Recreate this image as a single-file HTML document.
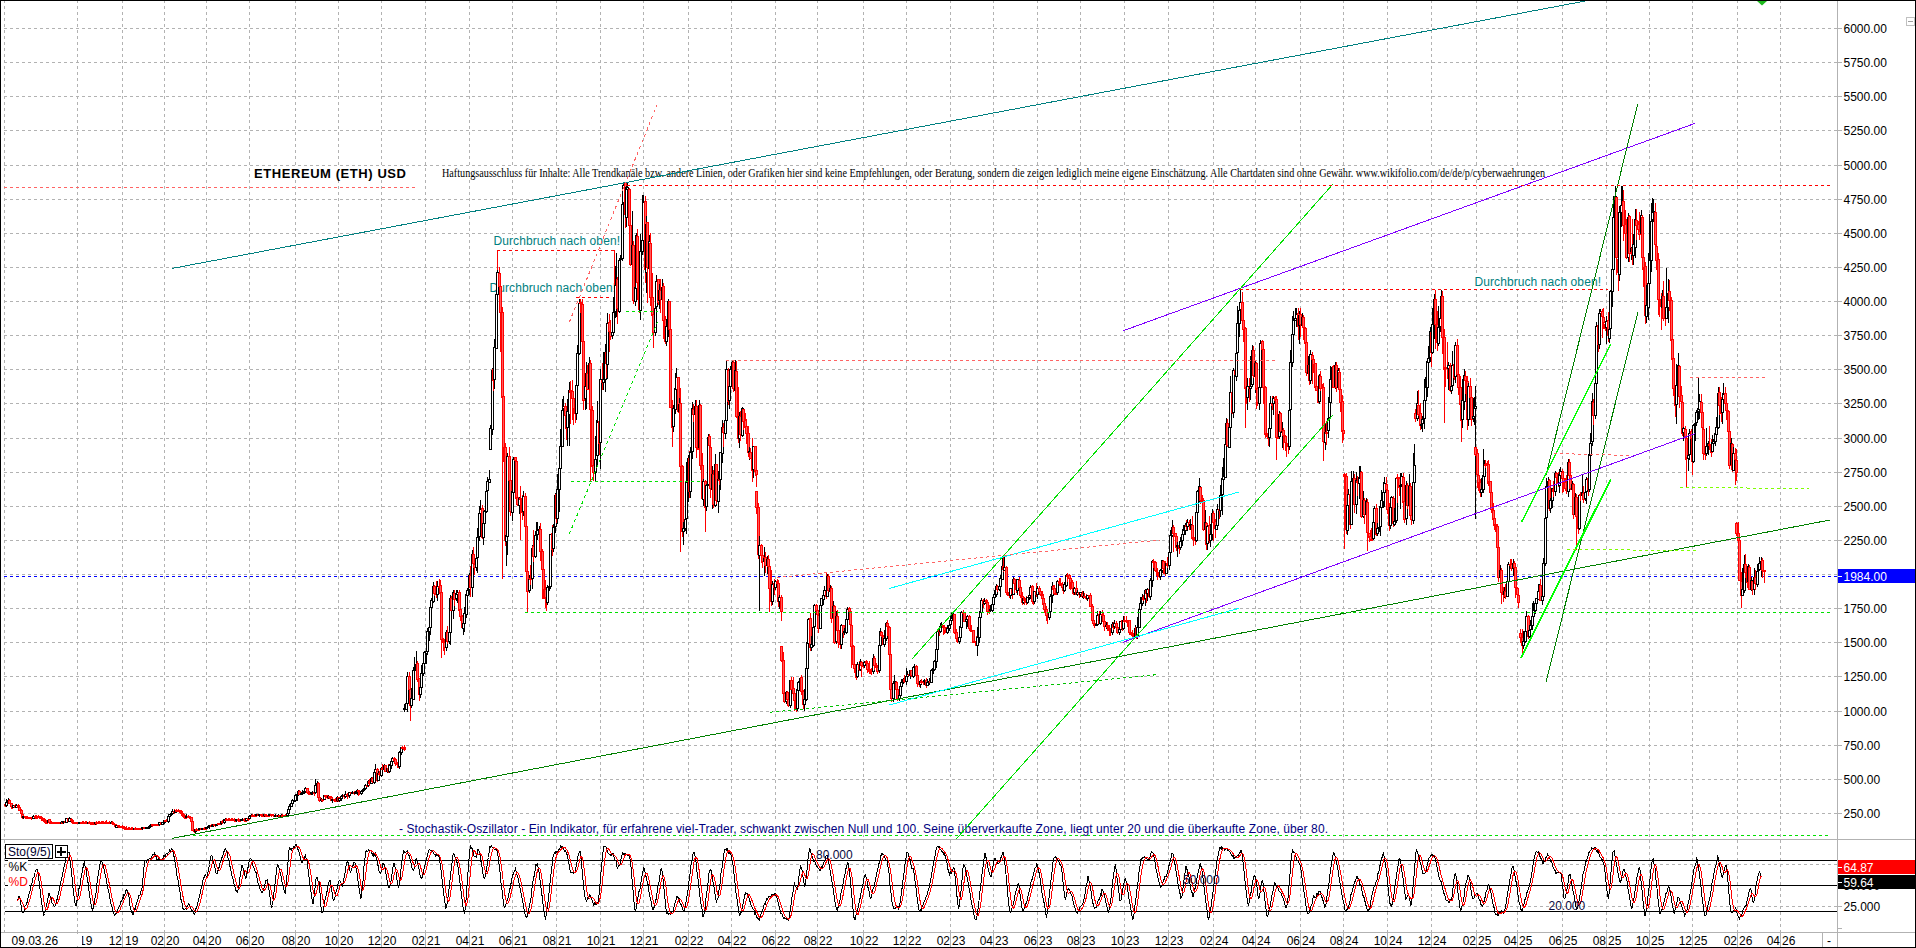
<!DOCTYPE html><html><head><meta charset="utf-8"><title>ETHEREUM (ETH) USD</title><style>
html,body{margin:0;padding:0;background:#fff;overflow:hidden}svg{display:block}
text{font-family:"Liberation Sans",sans-serif;font-size:12px}
.g{stroke:#b2b2b2;stroke-width:1;stroke-dasharray:3 3;fill:none}
.s{font-family:"Liberation Serif",serif}
.r{fill:#f00;stroke:#f00}.k{fill:#fff;stroke:#000}.w{stroke:#f00;fill:none}.b{stroke:#000;fill:none}.c{stroke:#ff5a5a;fill:none}
</style></head><body>
<svg width="1916" height="948" viewBox="0 0 1916 948" shape-rendering="crispEdges">
<rect width="1916" height="948" fill="#fff"/>
<path class="g" d="M4.5 0V932M77.5 0V932M122.5 0V932M164.5 0V932M206.5 0V932M249.5 0V932M295.5 0V932M338.5 0V932M381.5 0V932M425.5 0V932M469.5 0V932M512.5 0V932M556.5 0V932M600.5 0V932M643.5 0V932M688.5 0V932M731.5 0V932M775.5 0V932M817.5 0V932M863.5 0V932M906.5 0V932M950.5 0V932M993.5 0V932M1037.5 0V932M1080.5 0V932M1124.5 0V932M1168.5 0V932M1213.5 0V932M1255.5 0V932M1300.5 0V932M1343.5 0V932M1387.5 0V932M1431.5 0V932M1476.5 0V932M1517.5 0V932M1562.5 0V932M1606.5 0V932M1649.5 0V932M1692.5 0V932M1737.5 0V932M1780.5 0V932"/>
<path class="g" d="M4 813.5H1842M4 779.5H1842M4 745.5H1842M4 711.5H1842M4 676.5H1842M4 642.5H1842M4 608.5H1842M4 574.5H1842M4 540.5H1842M4 506.5H1842M4 472.5H1842M4 438.5H1842M4 403.5H1842M4 369.5H1842M4 335.5H1842M4 301.5H1842M4 267.5H1842M4 233.5H1842M4 199.5H1842M4 165.5H1842M4 130.5H1842M4 96.5H1842M4 62.5H1842M4 28.5H1842M4 864.5H1842M4 906.5H1842"/>
<path stroke="#b2b2b2" fill="none" d="M77.5 932V947M122.5 932V947M164.5 932V947M206.5 932V947M249.5 932V947M295.5 932V947M338.5 932V947M381.5 932V947M425.5 932V947M469.5 932V947M512.5 932V947M556.5 932V947M600.5 932V947M643.5 932V947M688.5 932V947M731.5 932V947M775.5 932V947M817.5 932V947M863.5 932V947M906.5 932V947M950.5 932V947M993.5 932V947M1037.5 932V947M1080.5 932V947M1124.5 932V947M1168.5 932V947M1213.5 932V947M1255.5 932V947M1300.5 932V947M1343.5 932V947M1387.5 932V947M1431.5 932V947M1476.5 932V947M1517.5 932V947M1562.5 932V947M1606.5 932V947M1649.5 932V947M1692.5 932V947M1737.5 932V947M1780.5 932V947M1822.5 932V947"/>
<path stroke="#b2b2b2" fill="none" d="M1834 813.5H1842M1834 779.5H1842M1834 745.5H1842M1834 711.5H1842M1834 676.5H1842M1834 642.5H1842M1834 608.5H1842M1834 574.5H1842M1834 540.5H1842M1834 506.5H1842M1834 472.5H1842M1834 438.5H1842M1834 403.5H1842M1834 369.5H1842M1834 335.5H1842M1834 301.5H1842M1834 267.5H1842M1834 233.5H1842M1834 199.5H1842M1834 165.5H1842M1834 130.5H1842M1834 96.5H1842M1834 62.5H1842M1834 28.5H1842M1834 906.5H1842"/>
<path stroke="#b2b2b2" fill="none" d="M1837.5 0V947M0 839.5H1916M0 932.5H1916M1838 928.5H1842"/>
<path stroke="#00f" stroke-dasharray="3 3" fill="none" d="M4 576.5H1842"/>
<rect x="252" y="167" width="157" height="13" fill="#fff"/><rect x="440" y="167" width="1107" height="13" fill="#fff"/><rect x="492" y="235" width="128" height="13" fill="#fff"/><rect x="488" y="282" width="130" height="13" fill="#fff"/><rect x="1473" y="276" width="130" height="13" fill="#fff"/><rect x="397" y="822" width="933" height="13" fill="#fff"/><text x="254" y="177.5" style="font-weight:bold;font-size:13px" textLength="152" lengthAdjust="spacing">ETHEREUM (ETH) USD</text><text x="442" y="177" class="s" style="font-size:13px" textLength="1103" lengthAdjust="spacingAndGlyphs">Haftungsausschluss für Inhalte: Alle Trendkanäle bzw. andere Linien, oder Grafiken hier sind keine Empfehlungen, oder Beratung, sondern die zeigen lediglich meine eigene Einschätzung. Alle Chartdaten sind ohne Gewähr.  www.wikifolio.com/de/de/p/cyberwaehrungen</text><text x="493.5" y="245" fill="#008080" textLength="126.5" lengthAdjust="spacing">Durchbruch nach oben!</text><text x="489.5" y="292" fill="#008080" textLength="126.5" lengthAdjust="spacing">Durchbruch nach oben!</text><text x="1474.5" y="286" fill="#008080" textLength="126.5" lengthAdjust="spacing">Durchbruch nach oben!</text><text x="399" y="833" fill="#000080" textLength="929" lengthAdjust="spacing">- Stochastik-Oszillator - Ein Indikator, für erfahrene viel-Trader, schwankt zwischen Null und 100. Seine überverkaufte Zone, liegt unter 20 und die überkaufte Zone, über 80.</text>
<g><path class="w" d="M5.5 804V807"/><path class="r" d="M4.5 804.5h2v1h-2z"/><path class="b" d="M6.5 799V807"/><path class="k" d="M5.5 802.5h2v3h-2z"/><path class="b" d="M8.5 798V804"/><path class="k" d="M7.5 800.5h2v2h-2z"/><path class="w" d="M9.5 799V804"/><path class="r" d="M8.5 800.5h2v3h-2z"/><path class="c" d="M9.5 801V803"/><path class="w" d="M11.5 803V809"/><path class="r" d="M10.5 803.5h2v3h-2z"/><path class="c" d="M11.5 804V806"/><path class="w" d="M12.5 806V809"/><path class="r" d="M11.5 806.5h2v1h-2z"/><path class="b" d="M13.5 805V808"/><path class="k" d="M12.5 805.5h2v2h-2z"/><path class="w" d="M15.5 804V808"/><path class="r" d="M14.5 805.5h2v2h-2z"/><path class="b" d="M16.5 804V808"/><path class="k" d="M15.5 805.5h2v2h-2z"/><path class="w" d="M18.5 804V808"/><path class="r" d="M17.5 805.5h2v2h-2z"/><path class="w" d="M19.5 806V811"/><path class="r" d="M18.5 807.5h2v3h-2z"/><path class="c" d="M19.5 808V810"/><path class="w" d="M21.5 809V816"/><path class="r" d="M20.5 810.5h2v3h-2z"/><path class="c" d="M21.5 811V813"/><path class="w" d="M22.5 813V819"/><path class="r" d="M21.5 814.5h2v3h-2z"/><path class="c" d="M22.5 815V817"/><path class="b" d="M23.5 816V819"/><path class="k" d="M22.5 816.5h2v1h-2z"/><path class="w" d="M25.5 816V819"/><path class="r" d="M24.5 816.5h2v1h-2z"/><path class="w" d="M26.5 816V819"/><path class="r" d="M25.5 816.5h2v1h-2z"/><path class="w" d="M28.5 817V819"/><path class="r" d="M27.5 817.5h2v1h-2z"/><path class="w" d="M29.5 817V819"/><path class="r" d="M28.5 817.5h2v1h-2z"/><path class="w" d="M31.5 817V820"/><path class="r" d="M30.5 817.5h2v1h-2z"/><path class="w" d="M32.5 816V819"/><path class="r" d="M31.5 817.5h2v1h-2z"/><path class="b" d="M33.5 815V819"/><path class="k" d="M32.5 816.5h2v2h-2z"/><path class="w" d="M35.5 815V818"/><path class="r" d="M34.5 816.5h2v1h-2z"/><path class="w" d="M36.5 815V818"/><path class="r" d="M35.5 817.5h2v1h-2z"/><path class="w" d="M38.5 815V818"/><path class="r" d="M37.5 816.5h2v1h-2z"/><path class="w" d="M39.5 816V819"/><path class="r" d="M38.5 816.5h2v1h-2z"/><path class="w" d="M41.5 816V821"/><path class="r" d="M40.5 817.5h2v1h-2z"/><path class="w" d="M42.5 818V821"/><path class="r" d="M41.5 818.5h2v1h-2z"/><path class="w" d="M43.5 818V822"/><path class="r" d="M42.5 818.5h2v2h-2z"/><path class="w" d="M45.5 819V823"/><path class="r" d="M44.5 820.5h2v2h-2z"/><path class="w" d="M46.5 821V823"/><path class="r" d="M45.5 822.5h2v1h-2z"/><path class="b" d="M48.5 819V823"/><path class="k" d="M47.5 820.5h2v2h-2z"/><path class="w" d="M49.5 819V824"/><path class="r" d="M48.5 819.5h2v3h-2z"/><path class="c" d="M49.5 820V822"/><path class="w" d="M51.5 821V824"/><path class="r" d="M50.5 822.5h2v1h-2z"/><path class="w" d="M52.5 822V823"/><path class="r" d="M51.5 822.5h2v1h-2z"/><path class="w" d="M53.5 822V824"/><path class="r" d="M52.5 822.5h2v1h-2z"/><path class="w" d="M55.5 822V824"/><path class="r" d="M54.5 822.5h2v1h-2z"/><path class="w" d="M56.5 822V824"/><path class="r" d="M55.5 822.5h2v1h-2z"/><path class="w" d="M58.5 822V824"/><path class="r" d="M57.5 822.5h2v1h-2z"/><path class="w" d="M59.5 822V824"/><path class="r" d="M58.5 822.5h2v1h-2z"/><path class="b" d="M61.5 821V824"/><path class="k" d="M60.5 822.5h2v1h-2z"/><path class="w" d="M62.5 821V824"/><path class="r" d="M61.5 822.5h2v1h-2z"/><path class="b" d="M63.5 821V824"/><path class="k" d="M62.5 821.5h2v1h-2z"/><path class="w" d="M65.5 821V823"/><path class="r" d="M64.5 821.5h2v1h-2z"/><path class="b" d="M66.5 818V823"/><path class="k" d="M65.5 818.5h2v4h-2z"/><path class="w" d="M68.5 818V822"/><path class="r" d="M67.5 818.5h2v3h-2z"/><path class="c" d="M68.5 819V821"/><path class="b" d="M69.5 817V822"/><path class="k" d="M68.5 818.5h2v3h-2z"/><path class="w" d="M71.5 818V822"/><path class="r" d="M70.5 819.5h2v1h-2z"/><path class="w" d="M72.5 819V824"/><path class="r" d="M71.5 820.5h2v2h-2z"/><path class="w" d="M73.5 822V824"/><path class="r" d="M72.5 822.5h2v1h-2z"/><path class="w" d="M75.5 822V824"/><path class="r" d="M74.5 822.5h2v1h-2z"/><path class="w" d="M76.5 822V824"/><path class="r" d="M75.5 822.5h2v1h-2z"/><path class="w" d="M78.5 822V824"/><path class="r" d="M77.5 822.5h2v1h-2z"/><path class="b" d="M79.5 822V824"/><path class="k" d="M78.5 822.5h2v1h-2z"/><path class="w" d="M81.5 822V823"/><path class="r" d="M80.5 822.5h2v1h-2z"/><path class="w" d="M82.5 821V824"/><path class="r" d="M81.5 822.5h2v1h-2z"/><path class="w" d="M83.5 821V823"/><path class="r" d="M82.5 822.5h2v1h-2z"/><path class="w" d="M85.5 821V824"/><path class="r" d="M84.5 822.5h2v1h-2z"/><path class="w" d="M86.5 821V824"/><path class="r" d="M85.5 822.5h2v1h-2z"/><path class="b" d="M88.5 822V824"/><path class="k" d="M87.5 822.5h2v1h-2z"/><path class="w" d="M89.5 821V824"/><path class="r" d="M88.5 822.5h2v1h-2z"/><path class="w" d="M91.5 822V825"/><path class="r" d="M90.5 823.5h2v1h-2z"/><path class="w" d="M92.5 822V825"/><path class="r" d="M91.5 823.5h2v1h-2z"/><path class="w" d="M93.5 822V825"/><path class="r" d="M92.5 823.5h2v1h-2z"/><path class="b" d="M95.5 822V825"/><path class="k" d="M94.5 822.5h2v1h-2z"/><path class="w" d="M96.5 821V825"/><path class="r" d="M95.5 822.5h2v1h-2z"/><path class="w" d="M98.5 821V823"/><path class="r" d="M97.5 822.5h2v1h-2z"/><path class="w" d="M99.5 821V824"/><path class="r" d="M98.5 822.5h2v1h-2z"/><path class="w" d="M101.5 821V824"/><path class="r" d="M100.5 822.5h2v1h-2z"/><path class="w" d="M102.5 821V824"/><path class="r" d="M101.5 822.5h2v1h-2z"/><path class="w" d="M103.5 821V824"/><path class="r" d="M102.5 822.5h2v1h-2z"/><path class="w" d="M105.5 821V823"/><path class="r" d="M104.5 822.5h2v1h-2z"/><path class="w" d="M106.5 820V823"/><path class="r" d="M105.5 822.5h2v1h-2z"/><path class="w" d="M108.5 822V823"/><path class="r" d="M107.5 822.5h2v1h-2z"/><path class="w" d="M109.5 821V824"/><path class="r" d="M108.5 822.5h2v1h-2z"/><path class="b" d="M111.5 821V824"/><path class="k" d="M110.5 822.5h2v1h-2z"/><path class="w" d="M112.5 821V825"/><path class="r" d="M111.5 822.5h2v1h-2z"/><path class="w" d="M113.5 822V825"/><path class="r" d="M112.5 823.5h2v1h-2z"/><path class="w" d="M115.5 824V828"/><path class="r" d="M114.5 824.5h2v2h-2z"/><path class="b" d="M116.5 825V828"/><path class="k" d="M115.5 825.5h2v2h-2z"/><path class="w" d="M118.5 825V828"/><path class="r" d="M117.5 825.5h2v1h-2z"/><path class="w" d="M119.5 826V828"/><path class="r" d="M118.5 826.5h2v1h-2z"/><path class="w" d="M121.5 826V828"/><path class="r" d="M120.5 826.5h2v1h-2z"/><path class="w" d="M122.5 825V828"/><path class="r" d="M121.5 826.5h2v1h-2z"/><path class="w" d="M123.5 826V829"/><path class="r" d="M122.5 826.5h2v2h-2z"/><path class="w" d="M125.5 827V829"/><path class="r" d="M124.5 828.5h2v1h-2z"/><path class="w" d="M126.5 826V829"/><path class="r" d="M125.5 828.5h2v1h-2z"/><path class="w" d="M128.5 827V829"/><path class="r" d="M127.5 828.5h2v1h-2z"/><path class="w" d="M129.5 827V829"/><path class="r" d="M128.5 828.5h2v1h-2z"/><path class="w" d="M131.5 827V829"/><path class="r" d="M130.5 828.5h2v1h-2z"/><path class="w" d="M132.5 827V829"/><path class="r" d="M131.5 828.5h2v1h-2z"/><path class="b" d="M134.5 828V830"/><path class="k" d="M133.5 828.5h2v1h-2z"/><path class="w" d="M135.5 827V830"/><path class="r" d="M134.5 828.5h2v1h-2z"/><path class="w" d="M136.5 828V830"/><path class="r" d="M135.5 828.5h2v1h-2z"/><path class="w" d="M138.5 828V830"/><path class="r" d="M137.5 828.5h2v1h-2z"/><path class="w" d="M139.5 828V830"/><path class="r" d="M138.5 828.5h2v1h-2z"/><path class="w" d="M141.5 828V830"/><path class="r" d="M140.5 828.5h2v1h-2z"/><path class="b" d="M142.5 827V830"/><path class="k" d="M141.5 827.5h2v1h-2z"/><path class="w" d="M144.5 827V829"/><path class="r" d="M143.5 827.5h2v1h-2z"/><path class="w" d="M145.5 827V829"/><path class="r" d="M144.5 827.5h2v1h-2z"/><path class="b" d="M146.5 827V829"/><path class="k" d="M145.5 827.5h2v1h-2z"/><path class="b" d="M148.5 826V828"/><path class="k" d="M147.5 827.5h2v1h-2z"/><path class="b" d="M149.5 825V828"/><path class="k" d="M148.5 826.5h2v1h-2z"/><path class="b" d="M151.5 824V827"/><path class="k" d="M150.5 824.5h2v2h-2z"/><path class="w" d="M152.5 824V827"/><path class="r" d="M151.5 824.5h2v1h-2z"/><path class="w" d="M154.5 824V826"/><path class="r" d="M153.5 824.5h2v1h-2z"/><path class="w" d="M155.5 824V826"/><path class="r" d="M154.5 824.5h2v1h-2z"/><path class="w" d="M156.5 824V826"/><path class="r" d="M155.5 824.5h2v1h-2z"/><path class="w" d="M158.5 823V826"/><path class="r" d="M157.5 824.5h2v1h-2z"/><path class="b" d="M159.5 822V826"/><path class="k" d="M158.5 822.5h2v2h-2z"/><path class="w" d="M161.5 822V825"/><path class="r" d="M160.5 822.5h2v2h-2z"/><path class="b" d="M162.5 822V825"/><path class="k" d="M161.5 822.5h2v2h-2z"/><path class="b" d="M164.5 820V824"/><path class="k" d="M163.5 820.5h2v2h-2z"/><path class="w" d="M165.5 820V822"/><path class="r" d="M164.5 820.5h2v1h-2z"/><path class="w" d="M166.5 819V822"/><path class="r" d="M165.5 820.5h2v1h-2z"/><path class="b" d="M168.5 816V823"/><path class="k" d="M167.5 816.5h2v5h-2z"/><path class="b" d="M169.5 814V818"/><path class="k" d="M168.5 814.5h2v2h-2z"/><path class="b" d="M171.5 812V816"/><path class="k" d="M170.5 813.5h2v1h-2z"/><path class="b" d="M172.5 809V814"/><path class="k" d="M171.5 811.5h2v2h-2z"/><path class="w" d="M174.5 809V814"/><path class="r" d="M173.5 811.5h2v1h-2z"/><path class="b" d="M175.5 810V813"/><path class="k" d="M174.5 810.5h2v2h-2z"/><path class="w" d="M176.5 809V812"/><path class="r" d="M175.5 810.5h2v1h-2z"/><path class="w" d="M178.5 809V812"/><path class="r" d="M177.5 810.5h2v1h-2z"/><path class="w" d="M179.5 810V813"/><path class="r" d="M178.5 810.5h2v1h-2z"/><path class="w" d="M181.5 810V816"/><path class="r" d="M180.5 811.5h2v2h-2z"/><path class="w" d="M182.5 813V817"/><path class="r" d="M181.5 813.5h2v2h-2z"/><path class="w" d="M184.5 814V818"/><path class="r" d="M183.5 815.5h2v2h-2z"/><path class="w" d="M185.5 815V818"/><path class="r" d="M184.5 817.5h2v1h-2z"/><path class="b" d="M186.5 814V818"/><path class="k" d="M185.5 816.5h2v1h-2z"/><path class="w" d="M188.5 815V817"/><path class="r" d="M187.5 816.5h2v1h-2z"/><path class="w" d="M189.5 816V819"/><path class="r" d="M188.5 816.5h2v1h-2z"/><path class="w" d="M191.5 817V822"/><path class="r" d="M190.5 817.5h2v4h-2z"/><path class="c" d="M191.5 818V821"/><path class="w" d="M192.5 821V831"/><path class="r" d="M191.5 821.5h2v9h-2z"/><path class="c" d="M192.5 822V830"/><path class="w" d="M194.5 830V833"/><path class="r" d="M193.5 830.5h2v1h-2z"/><path class="b" d="M195.5 829V833"/><path class="k" d="M194.5 829.5h2v2h-2z"/><path class="w" d="M196.5 828V831"/><path class="r" d="M195.5 829.5h2v1h-2z"/><path class="w" d="M198.5 828V830"/><path class="r" d="M197.5 829.5h2v1h-2z"/><path class="b" d="M199.5 828V830"/><path class="k" d="M198.5 828.5h2v1h-2z"/><path class="w" d="M201.5 828V830"/><path class="r" d="M200.5 828.5h2v1h-2z"/><path class="b" d="M202.5 828V830"/><path class="k" d="M201.5 828.5h2v1h-2z"/><path class="w" d="M204.5 827V830"/><path class="r" d="M203.5 828.5h2v1h-2z"/><path class="w" d="M205.5 828V830"/><path class="r" d="M204.5 828.5h2v1h-2z"/><path class="b" d="M206.5 827V829"/><path class="k" d="M205.5 827.5h2v1h-2z"/><path class="b" d="M208.5 826V828"/><path class="k" d="M207.5 826.5h2v1h-2z"/><path class="b" d="M209.5 825V829"/><path class="k" d="M208.5 825.5h2v1h-2z"/><path class="w" d="M211.5 824V827"/><path class="r" d="M210.5 825.5h2v1h-2z"/><path class="b" d="M212.5 824V826"/><path class="k" d="M211.5 825.5h2v1h-2z"/><path class="w" d="M214.5 824V826"/><path class="r" d="M213.5 824.5h2v1h-2z"/><path class="w" d="M215.5 824V827"/><path class="r" d="M214.5 824.5h2v1h-2z"/><path class="b" d="M216.5 824V826"/><path class="k" d="M215.5 824.5h2v1h-2z"/><path class="w" d="M218.5 823V825"/><path class="r" d="M217.5 823.5h2v1h-2z"/><path class="w" d="M219.5 823V825"/><path class="r" d="M218.5 823.5h2v1h-2z"/><path class="b" d="M221.5 821V825"/><path class="k" d="M220.5 821.5h2v2h-2z"/><path class="w" d="M222.5 820V824"/><path class="r" d="M221.5 821.5h2v1h-2z"/><path class="b" d="M224.5 819V824"/><path class="k" d="M223.5 819.5h2v3h-2z"/><path class="b" d="M225.5 818V822"/><path class="k" d="M224.5 819.5h2v1h-2z"/><path class="w" d="M226.5 818V820"/><path class="r" d="M225.5 819.5h2v1h-2z"/><path class="w" d="M228.5 818V820"/><path class="r" d="M227.5 819.5h2v1h-2z"/><path class="w" d="M229.5 818V820"/><path class="r" d="M228.5 819.5h2v1h-2z"/><path class="w" d="M231.5 818V821"/><path class="r" d="M230.5 819.5h2v1h-2z"/><path class="w" d="M232.5 818V821"/><path class="r" d="M231.5 819.5h2v1h-2z"/><path class="w" d="M234.5 818V821"/><path class="r" d="M233.5 819.5h2v1h-2z"/><path class="w" d="M235.5 820V822"/><path class="r" d="M234.5 820.5h2v1h-2z"/><path class="b" d="M236.5 819V822"/><path class="k" d="M235.5 819.5h2v1h-2z"/><path class="w" d="M238.5 818V822"/><path class="r" d="M237.5 819.5h2v1h-2z"/><path class="w" d="M239.5 819V821"/><path class="r" d="M238.5 820.5h2v1h-2z"/><path class="b" d="M241.5 819V821"/><path class="k" d="M240.5 819.5h2v1h-2z"/><path class="b" d="M242.5 818V821"/><path class="k" d="M241.5 819.5h2v1h-2z"/><path class="w" d="M244.5 818V821"/><path class="r" d="M243.5 819.5h2v1h-2z"/><path class="w" d="M245.5 818V821"/><path class="r" d="M244.5 820.5h2v1h-2z"/><path class="b" d="M246.5 818V821"/><path class="k" d="M245.5 818.5h2v2h-2z"/><path class="w" d="M248.5 818V821"/><path class="r" d="M247.5 818.5h2v1h-2z"/><path class="b" d="M249.5 815V819"/><path class="k" d="M248.5 816.5h2v2h-2z"/><path class="b" d="M251.5 814V817"/><path class="k" d="M250.5 815.5h2v1h-2z"/><path class="w" d="M252.5 814V816"/><path class="r" d="M251.5 815.5h2v1h-2z"/><path class="w" d="M254.5 814V817"/><path class="r" d="M253.5 815.5h2v1h-2z"/><path class="w" d="M255.5 814V816"/><path class="r" d="M254.5 815.5h2v1h-2z"/><path class="b" d="M256.5 814V816"/><path class="k" d="M255.5 814.5h2v1h-2z"/><path class="w" d="M258.5 814V816"/><path class="r" d="M257.5 814.5h2v1h-2z"/><path class="b" d="M259.5 814V817"/><path class="k" d="M258.5 814.5h2v1h-2z"/><path class="w" d="M261.5 814V817"/><path class="r" d="M260.5 814.5h2v1h-2z"/><path class="w" d="M262.5 814V817"/><path class="r" d="M261.5 815.5h2v1h-2z"/><path class="b" d="M264.5 814V817"/><path class="k" d="M263.5 814.5h2v1h-2z"/><path class="w" d="M265.5 814V817"/><path class="r" d="M264.5 814.5h2v1h-2z"/><path class="w" d="M266.5 814V816"/><path class="r" d="M265.5 815.5h2v1h-2z"/><path class="w" d="M268.5 814V816"/><path class="r" d="M267.5 815.5h2v1h-2z"/><path class="b" d="M269.5 814V816"/><path class="k" d="M268.5 814.5h2v1h-2z"/><path class="w" d="M271.5 814V817"/><path class="r" d="M270.5 814.5h2v1h-2z"/><path class="w" d="M272.5 814V816"/><path class="r" d="M271.5 814.5h2v1h-2z"/><path class="w" d="M274.5 815V817"/><path class="r" d="M273.5 815.5h2v1h-2z"/><path class="b" d="M275.5 814V817"/><path class="k" d="M274.5 815.5h2v1h-2z"/><path class="w" d="M277.5 815V817"/><path class="r" d="M276.5 815.5h2v1h-2z"/><path class="b" d="M278.5 814V817"/><path class="k" d="M277.5 815.5h2v1h-2z"/><path class="w" d="M279.5 815V817"/><path class="r" d="M278.5 815.5h2v1h-2z"/><path class="b" d="M281.5 814V817"/><path class="k" d="M280.5 815.5h2v1h-2z"/><path class="w" d="M282.5 814V816"/><path class="r" d="M281.5 815.5h2v1h-2z"/><path class="w" d="M284.5 815V816"/><path class="r" d="M283.5 815.5h2v1h-2z"/><path class="w" d="M285.5 814V816"/><path class="r" d="M284.5 815.5h2v1h-2z"/><path class="b" d="M287.5 812V816"/><path class="k" d="M286.5 813.5h2v2h-2z"/><path class="b" d="M288.5 809V815"/><path class="k" d="M287.5 809.5h2v4h-2z"/><path class="b" d="M289.5 804V811"/><path class="k" d="M288.5 806.5h2v3h-2z"/><path class="b" d="M291.5 802V807"/><path class="k" d="M290.5 803.5h2v3h-2z"/><path class="b" d="M292.5 799V805"/><path class="k" d="M291.5 800.5h2v3h-2z"/><path class="b" d="M294.5 796V802"/><path class="k" d="M293.5 800.5h2v1h-2z"/><path class="b" d="M295.5 794V801"/><path class="k" d="M294.5 795.5h2v5h-2z"/><path class="b" d="M297.5 794V801"/><path class="k" d="M296.5 794.5h2v1h-2z"/><path class="b" d="M298.5 790V796"/><path class="k" d="M297.5 791.5h2v3h-2z"/><path class="w" d="M299.5 790V795"/><path class="r" d="M298.5 791.5h2v3h-2z"/><path class="c" d="M299.5 792V794"/><path class="b" d="M301.5 792V795"/><path class="k" d="M300.5 793.5h2v1h-2z"/><path class="b" d="M302.5 790V795"/><path class="k" d="M301.5 792.5h2v1h-2z"/><path class="b" d="M304.5 788V794"/><path class="k" d="M303.5 791.5h2v1h-2z"/><path class="b" d="M305.5 787V792"/><path class="k" d="M304.5 788.5h2v3h-2z"/><path class="w" d="M307.5 788V794"/><path class="r" d="M306.5 788.5h2v4h-2z"/><path class="c" d="M307.5 789V792"/><path class="w" d="M308.5 789V794"/><path class="r" d="M307.5 792.5h2v1h-2z"/><path class="w" d="M309.5 791V795"/><path class="r" d="M308.5 793.5h2v1h-2z"/><path class="b" d="M311.5 792V795"/><path class="k" d="M310.5 792.5h2v1h-2z"/><path class="b" d="M312.5 791V795"/><path class="k" d="M311.5 792.5h2v1h-2z"/><path class="w" d="M314.5 791V796"/><path class="r" d="M313.5 792.5h2v1h-2z"/><path class="b" d="M315.5 779V794"/><path class="k" d="M314.5 785.5h2v7h-2z"/><path class="b" d="M317.5 781V787"/><path class="k" d="M316.5 783.5h2v2h-2z"/><path class="w" d="M318.5 782V799"/><path class="r" d="M317.5 783.5h2v14h-2z"/><path class="c" d="M318.5 784V797"/><path class="w" d="M319.5 794V802"/><path class="r" d="M318.5 797.5h2v3h-2z"/><path class="c" d="M319.5 798V800"/><path class="b" d="M321.5 798V802"/><path class="k" d="M320.5 799.5h2v1h-2z"/><path class="w" d="M322.5 799V802"/><path class="r" d="M321.5 799.5h2v1h-2z"/><path class="b" d="M324.5 795V800"/><path class="k" d="M323.5 795.5h2v4h-2z"/><path class="w" d="M325.5 795V799"/><path class="r" d="M324.5 795.5h2v1h-2z"/><path class="w" d="M327.5 795V799"/><path class="r" d="M326.5 796.5h2v1h-2z"/><path class="b" d="M328.5 795V799"/><path class="k" d="M327.5 796.5h2v1h-2z"/><path class="w" d="M329.5 796V799"/><path class="r" d="M328.5 796.5h2v1h-2z"/><path class="w" d="M331.5 796V801"/><path class="r" d="M330.5 797.5h2v3h-2z"/><path class="c" d="M331.5 798V800"/><path class="b" d="M332.5 799V803"/><path class="k" d="M331.5 799.5h2v1h-2z"/><path class="w" d="M334.5 799V802"/><path class="r" d="M333.5 799.5h2v1h-2z"/><path class="w" d="M335.5 798V801"/><path class="r" d="M334.5 800.5h2v1h-2z"/><path class="b" d="M337.5 796V802"/><path class="k" d="M336.5 797.5h2v3h-2z"/><path class="w" d="M338.5 797V802"/><path class="r" d="M337.5 797.5h2v3h-2z"/><path class="c" d="M338.5 798V800"/><path class="b" d="M339.5 798V802"/><path class="k" d="M338.5 798.5h2v2h-2z"/><path class="b" d="M341.5 795V801"/><path class="k" d="M340.5 796.5h2v2h-2z"/><path class="b" d="M342.5 794V799"/><path class="k" d="M341.5 795.5h2v1h-2z"/><path class="w" d="M344.5 795V799"/><path class="r" d="M343.5 795.5h2v1h-2z"/><path class="b" d="M345.5 791V798"/><path class="k" d="M344.5 794.5h2v2h-2z"/><path class="w" d="M347.5 793V799"/><path class="r" d="M346.5 794.5h2v1h-2z"/><path class="w" d="M348.5 794V797"/><path class="r" d="M347.5 795.5h2v1h-2z"/><path class="b" d="M349.5 792V798"/><path class="k" d="M348.5 792.5h2v3h-2z"/><path class="w" d="M351.5 792V794"/><path class="r" d="M350.5 792.5h2v1h-2z"/><path class="b" d="M352.5 791V794"/><path class="k" d="M351.5 792.5h2v1h-2z"/><path class="w" d="M354.5 791V795"/><path class="r" d="M353.5 792.5h2v1h-2z"/><path class="b" d="M355.5 791V794"/><path class="k" d="M354.5 792.5h2v1h-2z"/><path class="b" d="M357.5 789V795"/><path class="k" d="M356.5 790.5h2v2h-2z"/><path class="w" d="M358.5 790V796"/><path class="r" d="M357.5 790.5h2v1h-2z"/><path class="w" d="M359.5 790V795"/><path class="r" d="M358.5 791.5h2v2h-2z"/><path class="b" d="M361.5 790V795"/><path class="k" d="M360.5 791.5h2v2h-2z"/><path class="b" d="M362.5 789V793"/><path class="k" d="M361.5 790.5h2v1h-2z"/><path class="b" d="M364.5 787V791"/><path class="k" d="M363.5 788.5h2v1h-2z"/><path class="b" d="M365.5 784V790"/><path class="k" d="M364.5 785.5h2v3h-2z"/><path class="w" d="M367.5 784V787"/><path class="r" d="M366.5 785.5h2v1h-2z"/><path class="b" d="M368.5 780V787"/><path class="k" d="M367.5 781.5h2v4h-2z"/><path class="w" d="M369.5 779V786"/><path class="r" d="M368.5 781.5h2v2h-2z"/><path class="b" d="M371.5 777V784"/><path class="k" d="M370.5 778.5h2v5h-2z"/><path class="w" d="M372.5 777V783"/><path class="r" d="M371.5 778.5h2v3h-2z"/><path class="c" d="M372.5 779V781"/><path class="b" d="M374.5 772V784"/><path class="k" d="M373.5 772.5h2v10h-2z"/><path class="b" d="M375.5 764V773"/><path class="k" d="M374.5 769.5h2v3h-2z"/><path class="w" d="M377.5 768V782"/><path class="r" d="M376.5 769.5h2v11h-2z"/><path class="c" d="M377.5 770V780"/><path class="b" d="M378.5 771V781"/><path class="k" d="M377.5 773.5h2v7h-2z"/><path class="w" d="M379.5 771V776"/><path class="r" d="M378.5 773.5h2v1h-2z"/><path class="b" d="M381.5 767V777"/><path class="k" d="M380.5 768.5h2v7h-2z"/><path class="w" d="M382.5 764V770"/><path class="r" d="M381.5 768.5h2v1h-2z"/><path class="b" d="M384.5 764V771"/><path class="k" d="M383.5 765.5h2v4h-2z"/><path class="w" d="M385.5 765V772"/><path class="r" d="M384.5 765.5h2v6h-2z"/><path class="c" d="M385.5 766V771"/><path class="b" d="M387.5 768V773"/><path class="k" d="M386.5 768.5h2v3h-2z"/><path class="w" d="M388.5 764V773"/><path class="r" d="M387.5 768.5h2v3h-2z"/><path class="c" d="M388.5 769V771"/><path class="b" d="M389.5 764V773"/><path class="k" d="M388.5 765.5h2v6h-2z"/><path class="b" d="M391.5 761V769"/><path class="k" d="M390.5 761.5h2v4h-2z"/><path class="b" d="M392.5 757V764"/><path class="k" d="M391.5 758.5h2v3h-2z"/><path class="w" d="M394.5 757V763"/><path class="r" d="M393.5 758.5h2v2h-2z"/><path class="w" d="M395.5 759V766"/><path class="r" d="M394.5 759.5h2v4h-2z"/><path class="c" d="M395.5 760V763"/><path class="w" d="M397.5 762V768"/><path class="r" d="M396.5 763.5h2v1h-2z"/><path class="w" d="M398.5 762V768"/><path class="r" d="M397.5 764.5h2v2h-2z"/><path class="b" d="M399.5 751V769"/><path class="k" d="M398.5 752.5h2v14h-2z"/><path class="b" d="M401.5 747V755"/><path class="k" d="M400.5 747.5h2v5h-2z"/><path class="w" d="M402.5 746V749"/><path class="r" d="M401.5 747.5h2v1h-2z"/><path class="w" d="M404.5 745V751"/><path class="r" d="M403.5 747.5h2v2h-2z"/><path class="b" d="M404.5 704V712"/><path class="k" d="M403.5 708.5h2v1h-2z"/><path class="b" d="M406.5 685V710"/><path class="k" d="M405.5 703.5h2v6h-2z"/><path class="b" d="M407.5 672V712"/><path class="k" d="M406.5 676.5h2v27h-2z"/><path class="w" d="M409.5 672V690"/><path class="r" d="M408.5 676.5h2v13h-2z"/><path class="c" d="M409.5 677V689"/><path class="w" d="M410.5 680V721"/><path class="r" d="M409.5 689.5h2v16h-2z"/><path class="c" d="M410.5 690V705"/><path class="b" d="M411.5 688V708"/><path class="k" d="M410.5 698.5h2v7h-2z"/><path class="b" d="M413.5 667V700"/><path class="k" d="M412.5 670.5h2v29h-2z"/><path class="b" d="M414.5 657V690"/><path class="k" d="M413.5 669.5h2v1h-2z"/><path class="b" d="M416.5 651V672"/><path class="k" d="M415.5 664.5h2v5h-2z"/><path class="w" d="M417.5 661V682"/><path class="r" d="M416.5 663.5h2v16h-2z"/><path class="c" d="M417.5 664V679"/><path class="w" d="M419.5 678V701"/><path class="r" d="M418.5 678.5h2v16h-2z"/><path class="c" d="M419.5 679V694"/><path class="b" d="M420.5 679V698"/><path class="k" d="M419.5 687.5h2v7h-2z"/><path class="b" d="M421.5 665V690"/><path class="k" d="M420.5 673.5h2v14h-2z"/><path class="b" d="M423.5 662V676"/><path class="k" d="M422.5 663.5h2v10h-2z"/><path class="b" d="M424.5 651V664"/><path class="k" d="M423.5 652.5h2v11h-2z"/><path class="b" d="M426.5 643V664"/><path class="k" d="M425.5 651.5h2v2h-2z"/><path class="b" d="M427.5 628V655"/><path class="k" d="M426.5 631.5h2v20h-2z"/><path class="b" d="M429.5 611V641"/><path class="k" d="M428.5 627.5h2v4h-2z"/><path class="b" d="M430.5 601V635"/><path class="k" d="M429.5 607.5h2v20h-2z"/><path class="b" d="M431.5 598V610"/><path class="k" d="M430.5 600.5h2v7h-2z"/><path class="b" d="M433.5 582V603"/><path class="k" d="M432.5 586.5h2v15h-2z"/><path class="w" d="M434.5 585V596"/><path class="r" d="M433.5 586.5h2v7h-2z"/><path class="c" d="M434.5 587V593"/><path class="w" d="M436.5 581V598"/><path class="r" d="M435.5 593.5h2v1h-2z"/><path class="b" d="M437.5 581V601"/><path class="k" d="M436.5 586.5h2v8h-2z"/><path class="w" d="M439.5 579V594"/><path class="r" d="M438.5 586.5h2v1h-2z"/><path class="w" d="M440.5 580V611"/><path class="r" d="M439.5 585.5h2v8h-2z"/><path class="c" d="M440.5 586V593"/><path class="w" d="M441.5 591V658"/><path class="r" d="M440.5 592.5h2v47h-2z"/><path class="c" d="M441.5 593V639"/><path class="w" d="M443.5 638V651"/><path class="r" d="M442.5 640.5h2v2h-2z"/><path class="w" d="M444.5 639V655"/><path class="r" d="M443.5 642.5h2v5h-2z"/><path class="c" d="M444.5 643V647"/><path class="b" d="M446.5 630V651"/><path class="k" d="M445.5 632.5h2v15h-2z"/><path class="w" d="M447.5 626V644"/><path class="r" d="M446.5 632.5h2v9h-2z"/><path class="c" d="M447.5 633V641"/><path class="b" d="M449.5 630V644"/><path class="k" d="M448.5 632.5h2v9h-2z"/><path class="b" d="M450.5 595V645"/><path class="k" d="M449.5 598.5h2v34h-2z"/><path class="w" d="M451.5 596V611"/><path class="r" d="M450.5 598.5h2v12h-2z"/><path class="c" d="M451.5 599V610"/><path class="b" d="M453.5 590V619"/><path class="k" d="M452.5 592.5h2v18h-2z"/><path class="w" d="M454.5 590V606"/><path class="r" d="M453.5 593.5h2v6h-2z"/><path class="c" d="M454.5 594V599"/><path class="b" d="M456.5 590V601"/><path class="k" d="M455.5 593.5h2v5h-2z"/><path class="b" d="M457.5 590V603"/><path class="k" d="M456.5 592.5h2v2h-2z"/><path class="w" d="M459.5 590V613"/><path class="r" d="M458.5 592.5h2v18h-2z"/><path class="c" d="M459.5 593V610"/><path class="w" d="M460.5 600V621"/><path class="r" d="M459.5 609.5h2v7h-2z"/><path class="c" d="M460.5 610V616"/><path class="w" d="M462.5 615V629"/><path class="r" d="M461.5 616.5h2v11h-2z"/><path class="c" d="M462.5 617V627"/><path class="b" d="M463.5 621V635"/><path class="k" d="M462.5 623.5h2v5h-2z"/><path class="b" d="M464.5 607V632"/><path class="k" d="M463.5 613.5h2v10h-2z"/><path class="b" d="M466.5 592V618"/><path class="k" d="M465.5 594.5h2v20h-2z"/><path class="b" d="M467.5 588V606"/><path class="k" d="M466.5 590.5h2v5h-2z"/><path class="b" d="M469.5 573V595"/><path class="k" d="M468.5 575.5h2v14h-2z"/><path class="w" d="M470.5 566V597"/><path class="r" d="M469.5 575.5h2v12h-2z"/><path class="c" d="M470.5 576V587"/><path class="b" d="M472.5 550V597"/><path class="k" d="M471.5 554.5h2v33h-2z"/><path class="w" d="M473.5 547V567"/><path class="r" d="M472.5 554.5h2v9h-2z"/><path class="c" d="M473.5 555V563"/><path class="w" d="M474.5 562V575"/><path class="r" d="M473.5 564.5h2v3h-2z"/><path class="c" d="M474.5 565V567"/><path class="b" d="M476.5 547V571"/><path class="k" d="M475.5 558.5h2v9h-2z"/><path class="b" d="M477.5 528V573"/><path class="k" d="M476.5 537.5h2v20h-2z"/><path class="b" d="M479.5 506V541"/><path class="k" d="M478.5 513.5h2v23h-2z"/><path class="b" d="M480.5 500V515"/><path class="k" d="M479.5 509.5h2v4h-2z"/><path class="w" d="M482.5 505V539"/><path class="r" d="M481.5 508.5h2v29h-2z"/><path class="c" d="M482.5 509V537"/><path class="b" d="M483.5 512V545"/><path class="k" d="M482.5 523.5h2v14h-2z"/><path class="b" d="M484.5 510V530"/><path class="k" d="M483.5 511.5h2v12h-2z"/><path class="b" d="M486.5 488V513"/><path class="k" d="M485.5 491.5h2v20h-2z"/><path class="b" d="M487.5 477V491"/><path class="k" d="M486.5 481.5h2v9h-2z"/><path class="b" d="M489.5 470V483"/><path class="k" d="M488.5 479.5h2v3h-2z"/><path class="b" d="M490.5 425V450"/><path class="k" d="M489.5 428.5h2v21h-2z"/><path class="b" d="M492.5 368V435"/><path class="k" d="M491.5 370.5h2v59h-2z"/><path class="w" d="M493.5 362V391"/><path class="r" d="M492.5 369.5h2v11h-2z"/><path class="c" d="M493.5 370V380"/><path class="b" d="M494.5 339V389"/><path class="k" d="M493.5 347.5h2v32h-2z"/><path class="b" d="M496.5 276V349"/><path class="k" d="M495.5 294.5h2v54h-2z"/><path class="b" d="M497.5 267V311"/><path class="k" d="M496.5 272.5h2v22h-2z"/><path class="w" d="M499.5 267V294"/><path class="r" d="M498.5 273.5h2v13h-2z"/><path class="c" d="M499.5 274V286"/><path class="w" d="M500.5 283V352"/><path class="r" d="M499.5 286.5h2v26h-2z"/><path class="c" d="M500.5 287V312"/><path class="w" d="M502.5 307V579"/><path class="r" d="M501.5 312.5h2v85h-2z"/><path class="c" d="M502.5 313V397"/><path class="w" d="M503.5 392V462"/><path class="r" d="M502.5 396.5h2v51h-2z"/><path class="c" d="M503.5 397V447"/><path class="w" d="M505.5 443V546"/><path class="r" d="M504.5 447.5h2v93h-2z"/><path class="c" d="M505.5 448V540"/><path class="b" d="M506.5 525V566"/><path class="k" d="M505.5 535.5h2v6h-2z"/><path class="b" d="M507.5 453V555"/><path class="k" d="M506.5 456.5h2v80h-2z"/><path class="w" d="M509.5 447V495"/><path class="r" d="M508.5 456.5h2v24h-2z"/><path class="c" d="M509.5 457V480"/><path class="w" d="M510.5 480V516"/><path class="r" d="M509.5 480.5h2v31h-2z"/><path class="c" d="M510.5 481V511"/><path class="b" d="M512.5 486V521"/><path class="k" d="M511.5 491.5h2v21h-2z"/><path class="b" d="M513.5 457V498"/><path class="k" d="M512.5 459.5h2v33h-2z"/><path class="w" d="M515.5 457V480"/><path class="r" d="M514.5 457.5h2v3h-2z"/><path class="c" d="M515.5 458V460"/><path class="w" d="M516.5 457V500"/><path class="r" d="M515.5 461.5h2v37h-2z"/><path class="c" d="M516.5 462V498"/><path class="w" d="M517.5 480V506"/><path class="r" d="M516.5 497.5h2v7h-2z"/><path class="c" d="M517.5 498V504"/><path class="b" d="M519.5 497V514"/><path class="k" d="M518.5 498.5h2v7h-2z"/><path class="w" d="M520.5 486V540"/><path class="r" d="M519.5 498.5h2v1h-2z"/><path class="w" d="M522.5 495V520"/><path class="r" d="M521.5 499.5h2v13h-2z"/><path class="c" d="M522.5 500V512"/><path class="b" d="M523.5 491V516"/><path class="k" d="M522.5 496.5h2v15h-2z"/><path class="w" d="M525.5 493V529"/><path class="r" d="M524.5 496.5h2v30h-2z"/><path class="c" d="M525.5 497V526"/><path class="w" d="M526.5 520V577"/><path class="r" d="M525.5 526.5h2v45h-2z"/><path class="c" d="M526.5 527V571"/><path class="w" d="M527.5 568V612"/><path class="r" d="M526.5 571.5h2v20h-2z"/><path class="c" d="M527.5 572V591"/><path class="b" d="M529.5 575V593"/><path class="k" d="M528.5 579.5h2v11h-2z"/><path class="w" d="M530.5 565V585"/><path class="r" d="M529.5 578.5h2v1h-2z"/><path class="b" d="M532.5 545V589"/><path class="k" d="M531.5 548.5h2v30h-2z"/><path class="w" d="M533.5 530V562"/><path class="r" d="M532.5 546.5h2v10h-2z"/><path class="c" d="M533.5 547V556"/><path class="b" d="M535.5 531V558"/><path class="k" d="M534.5 535.5h2v21h-2z"/><path class="b" d="M536.5 522V541"/><path class="k" d="M535.5 534.5h2v1h-2z"/><path class="b" d="M537.5 522V540"/><path class="k" d="M536.5 530.5h2v4h-2z"/><path class="b" d="M539.5 526V531"/><path class="k" d="M538.5 529.5h2v1h-2z"/><path class="w" d="M540.5 523V561"/><path class="r" d="M539.5 529.5h2v22h-2z"/><path class="c" d="M540.5 530V551"/><path class="w" d="M542.5 549V599"/><path class="r" d="M541.5 551.5h2v18h-2z"/><path class="c" d="M542.5 552V569"/><path class="w" d="M543.5 569V599"/><path class="r" d="M542.5 569.5h2v20h-2z"/><path class="c" d="M543.5 570V589"/><path class="w" d="M545.5 580V608"/><path class="r" d="M544.5 589.5h2v9h-2z"/><path class="c" d="M545.5 590V598"/><path class="w" d="M546.5 592V611"/><path class="r" d="M545.5 597.5h2v5h-2z"/><path class="c" d="M546.5 598V602"/><path class="b" d="M547.5 585V605"/><path class="k" d="M546.5 587.5h2v15h-2z"/><path class="b" d="M549.5 572V591"/><path class="k" d="M548.5 586.5h2v1h-2z"/><path class="b" d="M550.5 534V589"/><path class="k" d="M549.5 534.5h2v52h-2z"/><path class="w" d="M552.5 525V556"/><path class="r" d="M551.5 533.5h2v16h-2z"/><path class="c" d="M552.5 534V549"/><path class="b" d="M553.5 524V552"/><path class="k" d="M552.5 527.5h2v21h-2z"/><path class="b" d="M555.5 493V533"/><path class="k" d="M554.5 495.5h2v31h-2z"/><path class="w" d="M556.5 491V523"/><path class="r" d="M555.5 494.5h2v24h-2z"/><path class="c" d="M556.5 495V518"/><path class="b" d="M557.5 474V524"/><path class="k" d="M556.5 489.5h2v29h-2z"/><path class="b" d="M559.5 459V512"/><path class="k" d="M558.5 468.5h2v21h-2z"/><path class="b" d="M560.5 429V475"/><path class="k" d="M559.5 446.5h2v22h-2z"/><path class="b" d="M562.5 399V447"/><path class="k" d="M561.5 410.5h2v36h-2z"/><path class="b" d="M563.5 396V422"/><path class="k" d="M562.5 406.5h2v2h-2z"/><path class="w" d="M565.5 403V429"/><path class="r" d="M564.5 406.5h2v9h-2z"/><path class="c" d="M565.5 407V415"/><path class="w" d="M566.5 410V440"/><path class="r" d="M565.5 416.5h2v11h-2z"/><path class="c" d="M566.5 417V427"/><path class="b" d="M567.5 399V446"/><path class="k" d="M566.5 411.5h2v16h-2z"/><path class="b" d="M569.5 382V446"/><path class="k" d="M568.5 390.5h2v24h-2z"/><path class="w" d="M570.5 381V424"/><path class="r" d="M569.5 390.5h2v2h-2z"/><path class="w" d="M572.5 380V420"/><path class="r" d="M571.5 391.5h2v7h-2z"/><path class="c" d="M572.5 392V398"/><path class="w" d="M573.5 395V425"/><path class="r" d="M572.5 398.5h2v10h-2z"/><path class="c" d="M573.5 399V408"/><path class="w" d="M575.5 388V423"/><path class="r" d="M574.5 408.5h2v5h-2z"/><path class="c" d="M575.5 409V413"/><path class="b" d="M576.5 372V420"/><path class="k" d="M575.5 385.5h2v28h-2z"/><path class="b" d="M577.5 345V391"/><path class="k" d="M576.5 353.5h2v32h-2z"/><path class="b" d="M579.5 299V355"/><path class="k" d="M578.5 303.5h2v50h-2z"/><path class="w" d="M580.5 299V313"/><path class="r" d="M579.5 302.5h2v1h-2z"/><path class="w" d="M582.5 299V367"/><path class="r" d="M581.5 304.5h2v37h-2z"/><path class="c" d="M582.5 305V341"/><path class="w" d="M583.5 336V410"/><path class="r" d="M582.5 341.5h2v59h-2z"/><path class="c" d="M583.5 342V400"/><path class="b" d="M585.5 373V410"/><path class="k" d="M584.5 386.5h2v12h-2z"/><path class="b" d="M586.5 362V409"/><path class="k" d="M585.5 373.5h2v13h-2z"/><path class="w" d="M587.5 365V390"/><path class="r" d="M586.5 373.5h2v16h-2z"/><path class="c" d="M587.5 374V389"/><path class="b" d="M589.5 357V401"/><path class="k" d="M588.5 363.5h2v25h-2z"/><path class="w" d="M590.5 360V482"/><path class="r" d="M589.5 363.5h2v46h-2z"/><path class="c" d="M590.5 364V409"/><path class="w" d="M592.5 406V471"/><path class="r" d="M591.5 410.5h2v56h-2z"/><path class="c" d="M592.5 411V466"/><path class="w" d="M593.5 458V481"/><path class="r" d="M592.5 465.5h2v7h-2z"/><path class="c" d="M593.5 466V472"/><path class="b" d="M595.5 436V481"/><path class="k" d="M594.5 459.5h2v13h-2z"/><path class="b" d="M596.5 420V462"/><path class="k" d="M595.5 455.5h2v4h-2z"/><path class="b" d="M597.5 401V465"/><path class="k" d="M596.5 422.5h2v33h-2z"/><path class="w" d="M599.5 385V455"/><path class="r" d="M598.5 421.5h2v22h-2z"/><path class="c" d="M599.5 422V443"/><path class="b" d="M600.5 369V469"/><path class="k" d="M599.5 379.5h2v63h-2z"/><path class="w" d="M602.5 363V390"/><path class="r" d="M601.5 380.5h2v2h-2z"/><path class="b" d="M603.5 352V390"/><path class="k" d="M602.5 379.5h2v3h-2z"/><path class="b" d="M605.5 344V392"/><path class="k" d="M604.5 352.5h2v27h-2z"/><path class="w" d="M606.5 350V378"/><path class="r" d="M605.5 352.5h2v11h-2z"/><path class="c" d="M606.5 353V363"/><path class="b" d="M607.5 313V379"/><path class="k" d="M606.5 323.5h2v41h-2z"/><path class="w" d="M609.5 314V352"/><path class="r" d="M608.5 322.5h2v9h-2z"/><path class="c" d="M609.5 323V331"/><path class="w" d="M610.5 320V340"/><path class="r" d="M609.5 332.5h2v4h-2z"/><path class="c" d="M610.5 333V336"/><path class="b" d="M612.5 316V339"/><path class="k" d="M611.5 332.5h2v3h-2z"/><path class="b" d="M613.5 297V334"/><path class="k" d="M612.5 312.5h2v20h-2z"/><path class="b" d="M615.5 266V318"/><path class="k" d="M614.5 285.5h2v26h-2z"/><path class="b" d="M616.5 253V317"/><path class="k" d="M615.5 280.5h2v3h-2z"/><path class="w" d="M617.5 277V324"/><path class="r" d="M616.5 279.5h2v29h-2z"/><path class="c" d="M617.5 280V308"/><path class="b" d="M619.5 258V313"/><path class="k" d="M618.5 260.5h2v51h-2z"/><path class="b" d="M620.5 255V279"/><path class="k" d="M619.5 258.5h2v1h-2z"/><path class="b" d="M622.5 196V261"/><path class="k" d="M621.5 204.5h2v54h-2z"/><path class="b" d="M623.5 183V223"/><path class="k" d="M622.5 185.5h2v17h-2z"/><path class="w" d="M625.5 183V228"/><path class="r" d="M624.5 183.5h2v31h-2z"/><path class="c" d="M625.5 184V214"/><path class="b" d="M626.5 186V227"/><path class="k" d="M625.5 187.5h2v30h-2z"/><path class="b" d="M627.5 183V193"/><path class="k" d="M626.5 187.5h2v2h-2z"/><path class="w" d="M629.5 188V246"/><path class="r" d="M628.5 189.5h2v36h-2z"/><path class="c" d="M629.5 190V225"/><path class="w" d="M630.5 215V266"/><path class="r" d="M629.5 225.5h2v39h-2z"/><path class="c" d="M630.5 226V264"/><path class="b" d="M632.5 211V270"/><path class="k" d="M631.5 245.5h2v19h-2z"/><path class="w" d="M633.5 241V304"/><path class="r" d="M632.5 245.5h2v55h-2z"/><path class="c" d="M633.5 246V300"/><path class="b" d="M635.5 269V306"/><path class="k" d="M634.5 287.5h2v14h-2z"/><path class="b" d="M636.5 233V296"/><path class="k" d="M635.5 235.5h2v53h-2z"/><path class="w" d="M637.5 229V300"/><path class="r" d="M636.5 236.5h2v46h-2z"/><path class="c" d="M637.5 237V282"/><path class="w" d="M639.5 281V313"/><path class="r" d="M638.5 283.5h2v26h-2z"/><path class="c" d="M639.5 284V309"/><path class="b" d="M640.5 234V320"/><path class="k" d="M639.5 251.5h2v59h-2z"/><path class="b" d="M642.5 195V255"/><path class="k" d="M641.5 240.5h2v11h-2z"/><path class="b" d="M643.5 195V243"/><path class="k" d="M642.5 202.5h2v38h-2z"/><path class="w" d="M645.5 196V283"/><path class="r" d="M644.5 201.5h2v68h-2z"/><path class="c" d="M645.5 202V269"/><path class="b" d="M646.5 216V293"/><path class="k" d="M645.5 224.5h2v48h-2z"/><path class="w" d="M647.5 222V303"/><path class="r" d="M646.5 222.5h2v45h-2z"/><path class="c" d="M647.5 223V267"/><path class="b" d="M649.5 235V270"/><path class="k" d="M648.5 241.5h2v27h-2z"/><path class="w" d="M650.5 233V306"/><path class="r" d="M649.5 243.5h2v54h-2z"/><path class="c" d="M650.5 244V297"/><path class="w" d="M652.5 273V330"/><path class="r" d="M651.5 297.5h2v18h-2z"/><path class="c" d="M652.5 298V315"/><path class="w" d="M653.5 313V348"/><path class="r" d="M652.5 314.5h2v18h-2z"/><path class="c" d="M653.5 315V332"/><path class="b" d="M655.5 299V336"/><path class="k" d="M654.5 308.5h2v24h-2z"/><path class="b" d="M656.5 275V322"/><path class="k" d="M655.5 281.5h2v25h-2z"/><path class="w" d="M658.5 279V305"/><path class="r" d="M657.5 279.5h2v23h-2z"/><path class="c" d="M658.5 280V302"/><path class="b" d="M659.5 284V309"/><path class="k" d="M658.5 290.5h2v10h-2z"/><path class="w" d="M660.5 279V313"/><path class="r" d="M659.5 290.5h2v9h-2z"/><path class="c" d="M660.5 291V299"/><path class="b" d="M662.5 279V310"/><path class="k" d="M661.5 287.5h2v12h-2z"/><path class="w" d="M663.5 283V339"/><path class="r" d="M662.5 286.5h2v34h-2z"/><path class="c" d="M663.5 287V320"/><path class="w" d="M665.5 316V344"/><path class="r" d="M664.5 319.5h2v22h-2z"/><path class="c" d="M665.5 320V341"/><path class="b" d="M666.5 319V346"/><path class="k" d="M665.5 326.5h2v15h-2z"/><path class="b" d="M668.5 299V337"/><path class="k" d="M667.5 301.5h2v27h-2z"/><path class="w" d="M669.5 301V358"/><path class="r" d="M668.5 301.5h2v28h-2z"/><path class="c" d="M669.5 302V329"/><path class="w" d="M670.5 328V408"/><path class="r" d="M669.5 329.5h2v78h-2z"/><path class="c" d="M670.5 330V407"/><path class="w" d="M672.5 400V447"/><path class="r" d="M671.5 408.5h2v19h-2z"/><path class="c" d="M672.5 409V427"/><path class="b" d="M673.5 405V432"/><path class="k" d="M672.5 408.5h2v18h-2z"/><path class="b" d="M675.5 373V414"/><path class="k" d="M674.5 388.5h2v21h-2z"/><path class="b" d="M676.5 368V405"/><path class="k" d="M675.5 377.5h2v12h-2z"/><path class="w" d="M678.5 377V413"/><path class="r" d="M677.5 377.5h2v34h-2z"/><path class="c" d="M678.5 378V411"/><path class="b" d="M679.5 398V449"/><path class="k" d="M678.5 404.5h2v7h-2z"/><path class="w" d="M680.5 388V552"/><path class="r" d="M679.5 403.5h2v63h-2z"/><path class="c" d="M680.5 404V466"/><path class="w" d="M682.5 465V537"/><path class="r" d="M681.5 466.5h2v65h-2z"/><path class="c" d="M682.5 467V531"/><path class="b" d="M683.5 522V545"/><path class="k" d="M682.5 528.5h2v3h-2z"/><path class="b" d="M685.5 509V531"/><path class="k" d="M684.5 519.5h2v9h-2z"/><path class="b" d="M686.5 462V534"/><path class="k" d="M685.5 482.5h2v36h-2z"/><path class="b" d="M688.5 455V502"/><path class="k" d="M687.5 458.5h2v23h-2z"/><path class="w" d="M689.5 451V498"/><path class="r" d="M688.5 458.5h2v33h-2z"/><path class="c" d="M689.5 459V491"/><path class="b" d="M690.5 447V498"/><path class="k" d="M689.5 452.5h2v39h-2z"/><path class="b" d="M692.5 402V459"/><path class="k" d="M691.5 408.5h2v43h-2z"/><path class="w" d="M693.5 404V422"/><path class="r" d="M692.5 409.5h2v5h-2z"/><path class="c" d="M693.5 410V414"/><path class="b" d="M695.5 400V422"/><path class="k" d="M694.5 406.5h2v8h-2z"/><path class="w" d="M696.5 400V458"/><path class="r" d="M695.5 406.5h2v41h-2z"/><path class="c" d="M696.5 407V447"/><path class="w" d="M698.5 421V450"/><path class="r" d="M697.5 448.5h2v1h-2z"/><path class="b" d="M699.5 400V449"/><path class="k" d="M698.5 405.5h2v42h-2z"/><path class="w" d="M700.5 404V470"/><path class="r" d="M699.5 405.5h2v60h-2z"/><path class="c" d="M700.5 406V465"/><path class="w" d="M702.5 453V500"/><path class="r" d="M701.5 465.5h2v33h-2z"/><path class="c" d="M702.5 466V498"/><path class="b" d="M703.5 479V506"/><path class="k" d="M702.5 481.5h2v18h-2z"/><path class="w" d="M705.5 480V532"/><path class="r" d="M704.5 481.5h2v26h-2z"/><path class="c" d="M705.5 482V507"/><path class="b" d="M706.5 484V511"/><path class="k" d="M705.5 485.5h2v21h-2z"/><path class="b" d="M708.5 434V486"/><path class="k" d="M707.5 437.5h2v47h-2z"/><path class="w" d="M709.5 434V458"/><path class="r" d="M708.5 436.5h2v9h-2z"/><path class="c" d="M709.5 437V445"/><path class="w" d="M710.5 444V498"/><path class="r" d="M709.5 447.5h2v41h-2z"/><path class="c" d="M710.5 448V488"/><path class="b" d="M712.5 466V509"/><path class="k" d="M711.5 474.5h2v15h-2z"/><path class="w" d="M713.5 470V508"/><path class="r" d="M712.5 474.5h2v30h-2z"/><path class="c" d="M713.5 475V504"/><path class="b" d="M715.5 454V507"/><path class="k" d="M714.5 464.5h2v41h-2z"/><path class="w" d="M716.5 464V504"/><path class="r" d="M715.5 464.5h2v36h-2z"/><path class="c" d="M716.5 465V500"/><path class="b" d="M718.5 471V513"/><path class="k" d="M717.5 479.5h2v22h-2z"/><path class="w" d="M719.5 466V485"/><path class="r" d="M718.5 479.5h2v1h-2z"/><path class="b" d="M720.5 452V490"/><path class="k" d="M719.5 452.5h2v27h-2z"/><path class="b" d="M722.5 420V463"/><path class="k" d="M721.5 427.5h2v26h-2z"/><path class="w" d="M723.5 423V447"/><path class="r" d="M722.5 427.5h2v5h-2z"/><path class="c" d="M723.5 428V432"/><path class="b" d="M725.5 414V439"/><path class="k" d="M724.5 420.5h2v13h-2z"/><path class="b" d="M726.5 360V430"/><path class="k" d="M725.5 369.5h2v51h-2z"/><path class="w" d="M728.5 368V405"/><path class="r" d="M727.5 370.5h2v31h-2z"/><path class="c" d="M728.5 371V401"/><path class="b" d="M729.5 378V409"/><path class="k" d="M728.5 386.5h2v14h-2z"/><path class="b" d="M730.5 366V388"/><path class="k" d="M729.5 369.5h2v17h-2z"/><path class="b" d="M732.5 360V383"/><path class="k" d="M731.5 362.5h2v7h-2z"/><path class="w" d="M733.5 360V392"/><path class="r" d="M732.5 362.5h2v26h-2z"/><path class="c" d="M733.5 363V388"/><path class="b" d="M735.5 360V409"/><path class="k" d="M734.5 370.5h2v20h-2z"/><path class="w" d="M736.5 361V418"/><path class="r" d="M735.5 371.5h2v45h-2z"/><path class="c" d="M736.5 372V416"/><path class="w" d="M738.5 387V443"/><path class="r" d="M737.5 417.5h2v21h-2z"/><path class="c" d="M738.5 418V438"/><path class="b" d="M739.5 412V448"/><path class="k" d="M738.5 416.5h2v22h-2z"/><path class="w" d="M740.5 411V441"/><path class="r" d="M739.5 416.5h2v18h-2z"/><path class="c" d="M740.5 417V434"/><path class="b" d="M742.5 407V437"/><path class="k" d="M741.5 408.5h2v27h-2z"/><path class="w" d="M743.5 409V430"/><path class="r" d="M742.5 409.5h2v12h-2z"/><path class="c" d="M743.5 410V421"/><path class="w" d="M745.5 413V432"/><path class="r" d="M744.5 420.5h2v7h-2z"/><path class="c" d="M745.5 421V427"/><path class="w" d="M746.5 419V444"/><path class="r" d="M745.5 426.5h2v7h-2z"/><path class="c" d="M746.5 427V433"/><path class="w" d="M748.5 426V457"/><path class="r" d="M747.5 433.5h2v19h-2z"/><path class="c" d="M748.5 434V452"/><path class="b" d="M749.5 447V460"/><path class="k" d="M748.5 451.5h2v1h-2z"/><path class="w" d="M750.5 448V459"/><path class="r" d="M749.5 452.5h2v6h-2z"/><path class="c" d="M750.5 453V458"/><path class="w" d="M752.5 438V482"/><path class="r" d="M751.5 457.5h2v13h-2z"/><path class="c" d="M752.5 458V470"/><path class="b" d="M753.5 446V478"/><path class="k" d="M752.5 446.5h2v23h-2z"/><path class="w" d="M755.5 446V476"/><path class="r" d="M754.5 446.5h2v25h-2z"/><path class="c" d="M755.5 447V471"/><path class="w" d="M756.5 462V487"/><path class="r" d="M755.5 470.5h2v4h-2z"/><path class="c" d="M756.5 471V474"/><path class="w" d="M756.5 491V514"/><path class="r" d="M755.5 491.5h2v16h-2z"/><path class="c" d="M756.5 492V507"/><path class="w" d="M758.5 503V559"/><path class="r" d="M757.5 507.5h2v47h-2z"/><path class="c" d="M758.5 508V554"/><path class="b" d="M759.5 536V611"/><path class="k" d="M758.5 545.5h2v10h-2z"/><path class="w" d="M761.5 544V563"/><path class="r" d="M760.5 545.5h2v10h-2z"/><path class="c" d="M761.5 546V555"/><path class="w" d="M762.5 554V568"/><path class="r" d="M761.5 555.5h2v6h-2z"/><path class="c" d="M762.5 556V561"/><path class="b" d="M764.5 547V576"/><path class="k" d="M763.5 558.5h2v3h-2z"/><path class="w" d="M765.5 552V573"/><path class="r" d="M764.5 557.5h2v8h-2z"/><path class="c" d="M765.5 558V565"/><path class="b" d="M767.5 556V574"/><path class="k" d="M766.5 559.5h2v6h-2z"/><path class="w" d="M768.5 555V574"/><path class="r" d="M767.5 559.5h2v7h-2z"/><path class="c" d="M768.5 560V566"/><path class="w" d="M769.5 560V612"/><path class="r" d="M768.5 566.5h2v22h-2z"/><path class="c" d="M769.5 567V588"/><path class="w" d="M771.5 570V606"/><path class="r" d="M770.5 588.5h2v13h-2z"/><path class="c" d="M771.5 589V601"/><path class="b" d="M772.5 581V605"/><path class="k" d="M771.5 584.5h2v17h-2z"/><path class="w" d="M774.5 579V595"/><path class="r" d="M773.5 583.5h2v4h-2z"/><path class="c" d="M774.5 584V587"/><path class="b" d="M775.5 580V590"/><path class="k" d="M774.5 581.5h2v6h-2z"/><path class="w" d="M777.5 579V595"/><path class="r" d="M776.5 581.5h2v2h-2z"/><path class="w" d="M778.5 580V607"/><path class="r" d="M777.5 583.5h2v18h-2z"/><path class="c" d="M778.5 584V601"/><path class="b" d="M779.5 595V609"/><path class="k" d="M778.5 597.5h2v4h-2z"/><path class="w" d="M781.5 595V621"/><path class="r" d="M780.5 597.5h2v14h-2z"/><path class="c" d="M781.5 598V611"/><path class="w" d="M781.5 646V662"/><path class="r" d="M780.5 646.5h2v14h-2z"/><path class="c" d="M781.5 647V660"/><path class="w" d="M783.5 652V694"/><path class="r" d="M782.5 660.5h2v33h-2z"/><path class="c" d="M783.5 661V693"/><path class="w" d="M784.5 690V703"/><path class="r" d="M783.5 693.5h2v8h-2z"/><path class="c" d="M784.5 694V701"/><path class="b" d="M786.5 691V704"/><path class="k" d="M785.5 692.5h2v9h-2z"/><path class="w" d="M787.5 691V701"/><path class="r" d="M786.5 692.5h2v7h-2z"/><path class="c" d="M787.5 693V699"/><path class="w" d="M788.5 698V707"/><path class="r" d="M787.5 699.5h2v6h-2z"/><path class="c" d="M788.5 700V705"/><path class="b" d="M790.5 680V708"/><path class="k" d="M789.5 680.5h2v25h-2z"/><path class="w" d="M791.5 677V690"/><path class="r" d="M790.5 680.5h2v9h-2z"/><path class="c" d="M791.5 681V689"/><path class="w" d="M793.5 677V694"/><path class="r" d="M792.5 688.5h2v5h-2z"/><path class="c" d="M793.5 689V693"/><path class="w" d="M794.5 693V711"/><path class="r" d="M793.5 693.5h2v7h-2z"/><path class="c" d="M794.5 694V700"/><path class="w" d="M796.5 696V712"/><path class="r" d="M795.5 700.5h2v8h-2z"/><path class="c" d="M796.5 701V708"/><path class="b" d="M797.5 689V711"/><path class="k" d="M796.5 689.5h2v19h-2z"/><path class="b" d="M798.5 681V701"/><path class="k" d="M797.5 682.5h2v8h-2z"/><path class="b" d="M800.5 678V688"/><path class="k" d="M799.5 678.5h2v3h-2z"/><path class="w" d="M801.5 675V695"/><path class="r" d="M800.5 677.5h2v14h-2z"/><path class="c" d="M801.5 678V691"/><path class="w" d="M803.5 690V709"/><path class="r" d="M802.5 691.5h2v13h-2z"/><path class="c" d="M803.5 692V704"/><path class="b" d="M804.5 689V711"/><path class="k" d="M803.5 699.5h2v5h-2z"/><path class="b" d="M806.5 666V701"/><path class="k" d="M805.5 668.5h2v31h-2z"/><path class="b" d="M807.5 630V671"/><path class="k" d="M806.5 642.5h2v26h-2z"/><path class="b" d="M808.5 618V647"/><path class="k" d="M807.5 619.5h2v24h-2z"/><path class="w" d="M810.5 613V651"/><path class="r" d="M809.5 618.5h2v29h-2z"/><path class="c" d="M810.5 619V647"/><path class="b" d="M811.5 636V651"/><path class="k" d="M810.5 644.5h2v3h-2z"/><path class="b" d="M813.5 625V647"/><path class="k" d="M812.5 627.5h2v18h-2z"/><path class="b" d="M814.5 604V632"/><path class="k" d="M813.5 605.5h2v21h-2z"/><path class="w" d="M816.5 604V614"/><path class="r" d="M815.5 605.5h2v5h-2z"/><path class="c" d="M816.5 606V610"/><path class="w" d="M817.5 608V618"/><path class="r" d="M816.5 610.5h2v4h-2z"/><path class="c" d="M817.5 611V614"/><path class="w" d="M818.5 614V633"/><path class="r" d="M817.5 615.5h2v13h-2z"/><path class="c" d="M818.5 616V628"/><path class="b" d="M820.5 601V629"/><path class="k" d="M819.5 605.5h2v23h-2z"/><path class="b" d="M821.5 598V612"/><path class="k" d="M820.5 598.5h2v7h-2z"/><path class="b" d="M823.5 593V605"/><path class="k" d="M822.5 595.5h2v4h-2z"/><path class="b" d="M824.5 586V597"/><path class="k" d="M823.5 590.5h2v5h-2z"/><path class="w" d="M826.5 573V599"/><path class="r" d="M825.5 591.5h2v5h-2z"/><path class="c" d="M826.5 592V596"/><path class="b" d="M827.5 574V597"/><path class="k" d="M826.5 576.5h2v20h-2z"/><path class="w" d="M828.5 574V592"/><path class="r" d="M827.5 576.5h2v14h-2z"/><path class="c" d="M828.5 577V590"/><path class="b" d="M830.5 585V601"/><path class="k" d="M829.5 588.5h2v3h-2z"/><path class="w" d="M831.5 586V623"/><path class="r" d="M830.5 588.5h2v30h-2z"/><path class="c" d="M831.5 589V618"/><path class="b" d="M833.5 601V629"/><path class="k" d="M832.5 606.5h2v11h-2z"/><path class="w" d="M834.5 605V644"/><path class="r" d="M833.5 606.5h2v36h-2z"/><path class="c" d="M834.5 607V642"/><path class="b" d="M836.5 611V644"/><path class="k" d="M835.5 616.5h2v25h-2z"/><path class="w" d="M837.5 610V634"/><path class="r" d="M836.5 616.5h2v14h-2z"/><path class="c" d="M837.5 617V630"/><path class="w" d="M838.5 625V648"/><path class="r" d="M837.5 630.5h2v12h-2z"/><path class="c" d="M838.5 631V642"/><path class="w" d="M840.5 631V649"/><path class="r" d="M839.5 641.5h2v3h-2z"/><path class="c" d="M840.5 642V644"/><path class="b" d="M841.5 624V649"/><path class="k" d="M840.5 625.5h2v19h-2z"/><path class="w" d="M843.5 625V638"/><path class="r" d="M842.5 625.5h2v7h-2z"/><path class="c" d="M843.5 626V632"/><path class="b" d="M844.5 628V635"/><path class="k" d="M843.5 631.5h2v1h-2z"/><path class="b" d="M846.5 619V634"/><path class="k" d="M845.5 619.5h2v13h-2z"/><path class="b" d="M847.5 607V623"/><path class="k" d="M846.5 609.5h2v10h-2z"/><path class="w" d="M849.5 607V615"/><path class="r" d="M848.5 608.5h2v3h-2z"/><path class="c" d="M849.5 609V611"/><path class="w" d="M850.5 608V630"/><path class="r" d="M849.5 611.5h2v13h-2z"/><path class="c" d="M850.5 612V624"/><path class="w" d="M851.5 624V668"/><path class="r" d="M850.5 625.5h2v21h-2z"/><path class="c" d="M851.5 626V646"/><path class="w" d="M853.5 645V666"/><path class="r" d="M852.5 646.5h2v18h-2z"/><path class="c" d="M853.5 647V664"/><path class="w" d="M854.5 657V673"/><path class="r" d="M853.5 664.5h2v4h-2z"/><path class="c" d="M854.5 665V668"/><path class="w" d="M856.5 668V680"/><path class="r" d="M855.5 668.5h2v9h-2z"/><path class="c" d="M856.5 669V677"/><path class="b" d="M857.5 662V678"/><path class="k" d="M856.5 664.5h2v12h-2z"/><path class="w" d="M859.5 661V671"/><path class="r" d="M858.5 664.5h2v5h-2z"/><path class="c" d="M859.5 665V669"/><path class="b" d="M860.5 659V671"/><path class="k" d="M859.5 662.5h2v7h-2z"/><path class="w" d="M861.5 661V677"/><path class="r" d="M860.5 662.5h2v3h-2z"/><path class="c" d="M861.5 663V665"/><path class="w" d="M863.5 662V668"/><path class="r" d="M862.5 665.5h2v1h-2z"/><path class="b" d="M864.5 661V668"/><path class="k" d="M863.5 662.5h2v3h-2z"/><path class="w" d="M866.5 660V667"/><path class="r" d="M865.5 661.5h2v2h-2z"/><path class="w" d="M867.5 663V673"/><path class="r" d="M866.5 663.5h2v6h-2z"/><path class="c" d="M867.5 664V669"/><path class="w" d="M869.5 661V674"/><path class="r" d="M868.5 670.5h2v1h-2z"/><path class="w" d="M870.5 669V674"/><path class="r" d="M869.5 670.5h2v1h-2z"/><path class="w" d="M871.5 668V675"/><path class="r" d="M870.5 670.5h2v1h-2z"/><path class="b" d="M873.5 654V674"/><path class="k" d="M872.5 658.5h2v13h-2z"/><path class="w" d="M874.5 656V670"/><path class="r" d="M873.5 658.5h2v7h-2z"/><path class="c" d="M874.5 659V665"/><path class="w" d="M876.5 663V672"/><path class="r" d="M875.5 665.5h2v2h-2z"/><path class="w" d="M877.5 665V674"/><path class="r" d="M876.5 667.5h2v4h-2z"/><path class="c" d="M877.5 668V671"/><path class="b" d="M879.5 644V673"/><path class="k" d="M878.5 645.5h2v25h-2z"/><path class="b" d="M880.5 628V646"/><path class="k" d="M879.5 631.5h2v14h-2z"/><path class="w" d="M881.5 631V637"/><path class="r" d="M880.5 632.5h2v3h-2z"/><path class="c" d="M881.5 633V635"/><path class="w" d="M883.5 635V645"/><path class="r" d="M882.5 636.5h2v8h-2z"/><path class="c" d="M883.5 637V644"/><path class="b" d="M884.5 630V647"/><path class="k" d="M883.5 638.5h2v6h-2z"/><path class="b" d="M886.5 622V641"/><path class="k" d="M885.5 623.5h2v15h-2z"/><path class="w" d="M887.5 620V636"/><path class="r" d="M886.5 623.5h2v3h-2z"/><path class="c" d="M887.5 624V626"/><path class="w" d="M889.5 626V659"/><path class="r" d="M888.5 627.5h2v27h-2z"/><path class="c" d="M889.5 628V654"/><path class="w" d="M890.5 651V692"/><path class="r" d="M889.5 654.5h2v35h-2z"/><path class="c" d="M890.5 655V689"/><path class="w" d="M891.5 688V702"/><path class="r" d="M890.5 689.5h2v9h-2z"/><path class="c" d="M891.5 690V698"/><path class="b" d="M893.5 681V702"/><path class="k" d="M892.5 683.5h2v15h-2z"/><path class="b" d="M894.5 675V684"/><path class="k" d="M893.5 681.5h2v1h-2z"/><path class="w" d="M896.5 681V694"/><path class="r" d="M895.5 682.5h2v7h-2z"/><path class="c" d="M896.5 683V689"/><path class="w" d="M897.5 687V701"/><path class="r" d="M896.5 689.5h2v9h-2z"/><path class="c" d="M897.5 690V698"/><path class="b" d="M899.5 689V701"/><path class="k" d="M898.5 695.5h2v3h-2z"/><path class="b" d="M900.5 684V698"/><path class="k" d="M899.5 686.5h2v9h-2z"/><path class="b" d="M901.5 679V693"/><path class="k" d="M900.5 682.5h2v4h-2z"/><path class="b" d="M903.5 678V684"/><path class="k" d="M902.5 679.5h2v3h-2z"/><path class="w" d="M904.5 675V683"/><path class="r" d="M903.5 679.5h2v2h-2z"/><path class="b" d="M906.5 668V685"/><path class="k" d="M905.5 676.5h2v5h-2z"/><path class="b" d="M907.5 671V678"/><path class="k" d="M906.5 674.5h2v2h-2z"/><path class="w" d="M909.5 673V676"/><path class="r" d="M908.5 674.5h2v1h-2z"/><path class="b" d="M910.5 670V679"/><path class="k" d="M909.5 670.5h2v5h-2z"/><path class="w" d="M911.5 670V677"/><path class="r" d="M910.5 670.5h2v5h-2z"/><path class="c" d="M911.5 671V675"/><path class="b" d="M913.5 667V678"/><path class="k" d="M912.5 667.5h2v9h-2z"/><path class="b" d="M914.5 664V669"/><path class="k" d="M913.5 666.5h2v1h-2z"/><path class="w" d="M916.5 665V680"/><path class="r" d="M915.5 666.5h2v9h-2z"/><path class="c" d="M916.5 667V675"/><path class="w" d="M917.5 674V687"/><path class="r" d="M916.5 675.5h2v8h-2z"/><path class="c" d="M917.5 676V683"/><path class="w" d="M919.5 682V687"/><path class="r" d="M918.5 683.5h2v1h-2z"/><path class="b" d="M920.5 680V688"/><path class="k" d="M919.5 681.5h2v3h-2z"/><path class="w" d="M921.5 679V684"/><path class="r" d="M920.5 681.5h2v1h-2z"/><path class="w" d="M923.5 680V685"/><path class="r" d="M922.5 681.5h2v1h-2z"/><path class="b" d="M924.5 679V685"/><path class="k" d="M923.5 680.5h2v1h-2z"/><path class="w" d="M926.5 678V688"/><path class="r" d="M925.5 680.5h2v5h-2z"/><path class="c" d="M926.5 681V685"/><path class="b" d="M927.5 679V686"/><path class="k" d="M926.5 682.5h2v3h-2z"/><path class="b" d="M929.5 678V685"/><path class="k" d="M928.5 681.5h2v1h-2z"/><path class="w" d="M930.5 675V682"/><path class="r" d="M929.5 681.5h2v1h-2z"/><path class="b" d="M931.5 669V683"/><path class="k" d="M930.5 670.5h2v12h-2z"/><path class="b" d="M933.5 666V674"/><path class="k" d="M932.5 668.5h2v2h-2z"/><path class="b" d="M934.5 660V670"/><path class="k" d="M933.5 661.5h2v8h-2z"/><path class="b" d="M936.5 649V668"/><path class="k" d="M935.5 649.5h2v12h-2z"/><path class="b" d="M937.5 630V657"/><path class="k" d="M936.5 631.5h2v18h-2z"/><path class="w" d="M939.5 628V636"/><path class="r" d="M938.5 630.5h2v1h-2z"/><path class="b" d="M940.5 623V633"/><path class="k" d="M939.5 626.5h2v5h-2z"/><path class="b" d="M941.5 622V631"/><path class="k" d="M940.5 626.5h2v1h-2z"/><path class="w" d="M943.5 625V635"/><path class="r" d="M942.5 625.5h2v2h-2z"/><path class="w" d="M944.5 626V634"/><path class="r" d="M943.5 627.5h2v3h-2z"/><path class="c" d="M944.5 628V630"/><path class="w" d="M946.5 627V633"/><path class="r" d="M945.5 630.5h2v2h-2z"/><path class="b" d="M947.5 625V634"/><path class="k" d="M946.5 628.5h2v4h-2z"/><path class="b" d="M949.5 620V631"/><path class="k" d="M948.5 625.5h2v3h-2z"/><path class="b" d="M950.5 615V626"/><path class="k" d="M949.5 620.5h2v4h-2z"/><path class="b" d="M951.5 613V622"/><path class="k" d="M950.5 618.5h2v2h-2z"/><path class="b" d="M953.5 613V625"/><path class="k" d="M952.5 614.5h2v4h-2z"/><path class="w" d="M954.5 614V634"/><path class="r" d="M953.5 614.5h2v18h-2z"/><path class="c" d="M954.5 615V632"/><path class="w" d="M956.5 629V641"/><path class="r" d="M955.5 632.5h2v6h-2z"/><path class="c" d="M956.5 633V638"/><path class="w" d="M957.5 633V643"/><path class="r" d="M956.5 639.5h2v2h-2z"/><path class="b" d="M959.5 636V644"/><path class="k" d="M958.5 637.5h2v4h-2z"/><path class="b" d="M960.5 624V641"/><path class="k" d="M959.5 626.5h2v11h-2z"/><path class="b" d="M961.5 611V629"/><path class="k" d="M960.5 612.5h2v15h-2z"/><path class="w" d="M963.5 610V617"/><path class="r" d="M962.5 612.5h2v1h-2z"/><path class="w" d="M964.5 612V622"/><path class="r" d="M963.5 612.5h2v9h-2z"/><path class="c" d="M964.5 613V621"/><path class="b" d="M966.5 619V629"/><path class="k" d="M965.5 619.5h2v2h-2z"/><path class="b" d="M967.5 615V627"/><path class="k" d="M966.5 616.5h2v3h-2z"/><path class="w" d="M969.5 615V630"/><path class="r" d="M968.5 616.5h2v12h-2z"/><path class="c" d="M969.5 617V628"/><path class="w" d="M970.5 623V632"/><path class="r" d="M969.5 628.5h2v2h-2z"/><path class="w" d="M971.5 625V632"/><path class="r" d="M970.5 630.5h2v1h-2z"/><path class="w" d="M973.5 630V643"/><path class="r" d="M972.5 630.5h2v12h-2z"/><path class="c" d="M973.5 631V642"/><path class="w" d="M974.5 633V643"/><path class="r" d="M973.5 641.5h2v1h-2z"/><path class="w" d="M976.5 636V646"/><path class="r" d="M975.5 641.5h2v4h-2z"/><path class="c" d="M976.5 642V645"/><path class="b" d="M977.5 627V656"/><path class="k" d="M976.5 637.5h2v8h-2z"/><path class="b" d="M979.5 616V643"/><path class="k" d="M978.5 617.5h2v20h-2z"/><path class="b" d="M980.5 611V621"/><path class="k" d="M979.5 611.5h2v6h-2z"/><path class="b" d="M981.5 598V615"/><path class="k" d="M980.5 600.5h2v12h-2z"/><path class="w" d="M983.5 599V608"/><path class="r" d="M982.5 600.5h2v3h-2z"/><path class="c" d="M983.5 601V603"/><path class="b" d="M984.5 598V605"/><path class="k" d="M983.5 601.5h2v2h-2z"/><path class="w" d="M986.5 599V603"/><path class="r" d="M985.5 600.5h2v2h-2z"/><path class="w" d="M987.5 601V615"/><path class="r" d="M986.5 602.5h2v9h-2z"/><path class="c" d="M987.5 603V611"/><path class="w" d="M989.5 605V614"/><path class="r" d="M988.5 610.5h2v1h-2z"/><path class="b" d="M990.5 605V612"/><path class="k" d="M989.5 609.5h2v1h-2z"/><path class="b" d="M992.5 601V612"/><path class="k" d="M991.5 604.5h2v6h-2z"/><path class="b" d="M993.5 594V606"/><path class="k" d="M992.5 597.5h2v7h-2z"/><path class="b" d="M994.5 590V600"/><path class="k" d="M993.5 594.5h2v3h-2z"/><path class="b" d="M996.5 584V597"/><path class="k" d="M995.5 586.5h2v8h-2z"/><path class="w" d="M997.5 585V592"/><path class="r" d="M996.5 586.5h2v3h-2z"/><path class="c" d="M997.5 587V589"/><path class="b" d="M999.5 584V591"/><path class="k" d="M998.5 586.5h2v3h-2z"/><path class="b" d="M1000.5 575V597"/><path class="k" d="M999.5 578.5h2v8h-2z"/><path class="b" d="M1002.5 556V580"/><path class="k" d="M1001.5 566.5h2v13h-2z"/><path class="w" d="M1003.5 557V572"/><path class="r" d="M1002.5 566.5h2v3h-2z"/><path class="c" d="M1003.5 567V569"/><path class="b" d="M1004.5 557V571"/><path class="k" d="M1003.5 567.5h2v3h-2z"/><path class="w" d="M1006.5 566V595"/><path class="r" d="M1005.5 567.5h2v25h-2z"/><path class="c" d="M1006.5 568V592"/><path class="w" d="M1007.5 590V596"/><path class="r" d="M1006.5 592.5h2v1h-2z"/><path class="w" d="M1009.5 593V598"/><path class="r" d="M1008.5 593.5h2v2h-2z"/><path class="b" d="M1010.5 588V599"/><path class="k" d="M1009.5 588.5h2v7h-2z"/><path class="w" d="M1012.5 589V599"/><path class="r" d="M1011.5 589.5h2v4h-2z"/><path class="c" d="M1012.5 590V593"/><path class="b" d="M1013.5 577V595"/><path class="k" d="M1012.5 579.5h2v15h-2z"/><path class="w" d="M1014.5 578V593"/><path class="r" d="M1013.5 579.5h2v4h-2z"/><path class="c" d="M1014.5 580V583"/><path class="w" d="M1016.5 582V593"/><path class="r" d="M1015.5 583.5h2v6h-2z"/><path class="c" d="M1016.5 584V589"/><path class="b" d="M1017.5 579V595"/><path class="k" d="M1016.5 579.5h2v11h-2z"/><path class="w" d="M1019.5 577V593"/><path class="r" d="M1018.5 580.5h2v7h-2z"/><path class="c" d="M1019.5 581V587"/><path class="w" d="M1020.5 582V598"/><path class="r" d="M1019.5 587.5h2v8h-2z"/><path class="c" d="M1020.5 588V595"/><path class="w" d="M1022.5 592V605"/><path class="r" d="M1021.5 596.5h2v6h-2z"/><path class="c" d="M1022.5 597V602"/><path class="b" d="M1023.5 598V604"/><path class="k" d="M1022.5 598.5h2v4h-2z"/><path class="w" d="M1024.5 597V605"/><path class="r" d="M1023.5 598.5h2v2h-2z"/><path class="w" d="M1026.5 596V605"/><path class="r" d="M1025.5 600.5h2v2h-2z"/><path class="b" d="M1027.5 597V604"/><path class="k" d="M1026.5 597.5h2v5h-2z"/><path class="b" d="M1029.5 592V600"/><path class="k" d="M1028.5 595.5h2v2h-2z"/><path class="b" d="M1030.5 585V599"/><path class="k" d="M1029.5 587.5h2v8h-2z"/><path class="w" d="M1032.5 585V604"/><path class="r" d="M1031.5 586.5h2v15h-2z"/><path class="c" d="M1032.5 587V601"/><path class="w" d="M1033.5 596V605"/><path class="r" d="M1032.5 601.5h2v1h-2z"/><path class="b" d="M1034.5 591V604"/><path class="k" d="M1033.5 591.5h2v10h-2z"/><path class="w" d="M1036.5 583V597"/><path class="r" d="M1035.5 591.5h2v3h-2z"/><path class="c" d="M1036.5 592V594"/><path class="b" d="M1037.5 586V599"/><path class="k" d="M1036.5 588.5h2v6h-2z"/><path class="w" d="M1039.5 586V594"/><path class="r" d="M1038.5 588.5h2v3h-2z"/><path class="c" d="M1039.5 589V591"/><path class="w" d="M1040.5 589V596"/><path class="r" d="M1039.5 591.5h2v3h-2z"/><path class="c" d="M1040.5 592V594"/><path class="w" d="M1042.5 591V602"/><path class="r" d="M1041.5 595.5h2v3h-2z"/><path class="c" d="M1042.5 596V598"/><path class="w" d="M1043.5 594V607"/><path class="r" d="M1042.5 598.5h2v6h-2z"/><path class="c" d="M1043.5 599V604"/><path class="w" d="M1044.5 599V613"/><path class="r" d="M1043.5 603.5h2v6h-2z"/><path class="c" d="M1044.5 604V609"/><path class="w" d="M1046.5 606V621"/><path class="r" d="M1045.5 609.5h2v6h-2z"/><path class="c" d="M1046.5 610V615"/><path class="w" d="M1047.5 613V624"/><path class="r" d="M1046.5 615.5h2v2h-2z"/><path class="b" d="M1049.5 611V620"/><path class="k" d="M1048.5 612.5h2v5h-2z"/><path class="b" d="M1050.5 594V615"/><path class="k" d="M1049.5 596.5h2v15h-2z"/><path class="b" d="M1052.5 582V603"/><path class="k" d="M1051.5 586.5h2v9h-2z"/><path class="w" d="M1053.5 585V593"/><path class="r" d="M1052.5 586.5h2v3h-2z"/><path class="c" d="M1053.5 587V589"/><path class="w" d="M1054.5 585V595"/><path class="r" d="M1053.5 588.5h2v5h-2z"/><path class="c" d="M1054.5 589V593"/><path class="w" d="M1056.5 587V594"/><path class="r" d="M1055.5 593.5h2v1h-2z"/><path class="b" d="M1057.5 580V595"/><path class="k" d="M1056.5 581.5h2v11h-2z"/><path class="w" d="M1059.5 578V586"/><path class="r" d="M1058.5 581.5h2v2h-2z"/><path class="w" d="M1060.5 578V586"/><path class="r" d="M1059.5 583.5h2v1h-2z"/><path class="w" d="M1062.5 582V590"/><path class="r" d="M1061.5 584.5h2v3h-2z"/><path class="c" d="M1062.5 585V587"/><path class="w" d="M1063.5 585V594"/><path class="r" d="M1062.5 588.5h2v2h-2z"/><path class="b" d="M1064.5 582V592"/><path class="k" d="M1063.5 584.5h2v6h-2z"/><path class="b" d="M1066.5 574V587"/><path class="k" d="M1065.5 575.5h2v10h-2z"/><path class="w" d="M1067.5 573V582"/><path class="r" d="M1066.5 575.5h2v1h-2z"/><path class="w" d="M1069.5 574V589"/><path class="r" d="M1068.5 575.5h2v3h-2z"/><path class="c" d="M1069.5 576V578"/><path class="w" d="M1070.5 576V590"/><path class="r" d="M1069.5 578.5h2v4h-2z"/><path class="c" d="M1070.5 579V582"/><path class="w" d="M1072.5 580V594"/><path class="r" d="M1071.5 582.5h2v6h-2z"/><path class="c" d="M1072.5 583V588"/><path class="w" d="M1073.5 588V595"/><path class="r" d="M1072.5 589.5h2v3h-2z"/><path class="c" d="M1073.5 590V592"/><path class="b" d="M1074.5 587V595"/><path class="k" d="M1073.5 588.5h2v4h-2z"/><path class="w" d="M1076.5 581V595"/><path class="r" d="M1075.5 588.5h2v6h-2z"/><path class="c" d="M1076.5 589V594"/><path class="b" d="M1077.5 590V596"/><path class="k" d="M1076.5 592.5h2v2h-2z"/><path class="w" d="M1079.5 592V598"/><path class="r" d="M1078.5 592.5h2v2h-2z"/><path class="b" d="M1080.5 592V597"/><path class="k" d="M1079.5 592.5h2v2h-2z"/><path class="w" d="M1082.5 591V597"/><path class="r" d="M1081.5 593.5h2v3h-2z"/><path class="c" d="M1082.5 594V596"/><path class="b" d="M1083.5 591V599"/><path class="k" d="M1082.5 596.5h2v1h-2z"/><path class="w" d="M1084.5 593V598"/><path class="r" d="M1083.5 596.5h2v1h-2z"/><path class="w" d="M1086.5 594V600"/><path class="r" d="M1085.5 596.5h2v2h-2z"/><path class="b" d="M1087.5 595V601"/><path class="k" d="M1086.5 595.5h2v3h-2z"/><path class="w" d="M1089.5 595V603"/><path class="r" d="M1088.5 595.5h2v1h-2z"/><path class="w" d="M1090.5 593V607"/><path class="r" d="M1089.5 595.5h2v11h-2z"/><path class="c" d="M1090.5 596V606"/><path class="w" d="M1092.5 604V621"/><path class="r" d="M1091.5 606.5h2v14h-2z"/><path class="c" d="M1092.5 607V620"/><path class="w" d="M1093.5 619V626"/><path class="r" d="M1092.5 620.5h2v3h-2z"/><path class="c" d="M1093.5 621V623"/><path class="w" d="M1094.5 621V628"/><path class="r" d="M1093.5 623.5h2v2h-2z"/><path class="b" d="M1096.5 618V626"/><path class="k" d="M1095.5 624.5h2v1h-2z"/><path class="b" d="M1097.5 611V625"/><path class="k" d="M1096.5 615.5h2v9h-2z"/><path class="w" d="M1099.5 611V624"/><path class="r" d="M1098.5 614.5h2v9h-2z"/><path class="c" d="M1099.5 615V623"/><path class="b" d="M1100.5 611V625"/><path class="k" d="M1099.5 614.5h2v9h-2z"/><path class="w" d="M1102.5 610V622"/><path class="r" d="M1101.5 614.5h2v1h-2z"/><path class="w" d="M1103.5 612V625"/><path class="r" d="M1102.5 615.5h2v6h-2z"/><path class="c" d="M1103.5 616V621"/><path class="w" d="M1104.5 621V631"/><path class="r" d="M1103.5 621.5h2v5h-2z"/><path class="c" d="M1104.5 622V626"/><path class="b" d="M1106.5 622V629"/><path class="k" d="M1105.5 625.5h2v1h-2z"/><path class="w" d="M1107.5 622V631"/><path class="r" d="M1106.5 625.5h2v2h-2z"/><path class="w" d="M1109.5 625V636"/><path class="r" d="M1108.5 628.5h2v2h-2z"/><path class="w" d="M1110.5 628V636"/><path class="r" d="M1109.5 630.5h2v1h-2z"/><path class="b" d="M1112.5 622V635"/><path class="k" d="M1111.5 624.5h2v8h-2z"/><path class="w" d="M1113.5 622V630"/><path class="r" d="M1112.5 624.5h2v3h-2z"/><path class="c" d="M1113.5 625V627"/><path class="b" d="M1114.5 620V629"/><path class="k" d="M1113.5 623.5h2v3h-2z"/><path class="w" d="M1116.5 621V628"/><path class="r" d="M1115.5 623.5h2v4h-2z"/><path class="c" d="M1116.5 624V627"/><path class="w" d="M1117.5 626V634"/><path class="r" d="M1116.5 627.5h2v5h-2z"/><path class="c" d="M1117.5 628V632"/><path class="b" d="M1119.5 627V635"/><path class="k" d="M1118.5 629.5h2v3h-2z"/><path class="b" d="M1120.5 621V631"/><path class="k" d="M1119.5 621.5h2v8h-2z"/><path class="w" d="M1122.5 620V631"/><path class="r" d="M1121.5 620.5h2v8h-2z"/><path class="c" d="M1122.5 621V628"/><path class="b" d="M1123.5 616V630"/><path class="k" d="M1122.5 620.5h2v8h-2z"/><path class="w" d="M1124.5 616V623"/><path class="r" d="M1123.5 620.5h2v1h-2z"/><path class="w" d="M1126.5 616V623"/><path class="r" d="M1125.5 620.5h2v1h-2z"/><path class="w" d="M1127.5 620V627"/><path class="r" d="M1126.5 620.5h2v1h-2z"/><path class="w" d="M1129.5 620V635"/><path class="r" d="M1128.5 620.5h2v12h-2z"/><path class="c" d="M1129.5 621V632"/><path class="w" d="M1130.5 626V635"/><path class="r" d="M1129.5 632.5h2v2h-2z"/><path class="w" d="M1132.5 630V637"/><path class="r" d="M1131.5 634.5h2v1h-2z"/><path class="w" d="M1133.5 633V638"/><path class="r" d="M1132.5 634.5h2v1h-2z"/><path class="b" d="M1135.5 625V638"/><path class="k" d="M1134.5 628.5h2v8h-2z"/><path class="w" d="M1136.5 627V639"/><path class="r" d="M1135.5 627.5h2v8h-2z"/><path class="c" d="M1136.5 628V635"/><path class="b" d="M1137.5 617V639"/><path class="k" d="M1136.5 627.5h2v8h-2z"/><path class="b" d="M1139.5 606V628"/><path class="k" d="M1138.5 609.5h2v18h-2z"/><path class="b" d="M1140.5 597V612"/><path class="k" d="M1139.5 603.5h2v6h-2z"/><path class="b" d="M1142.5 594V606"/><path class="k" d="M1141.5 597.5h2v6h-2z"/><path class="w" d="M1143.5 595V601"/><path class="r" d="M1142.5 597.5h2v2h-2z"/><path class="b" d="M1145.5 589V606"/><path class="k" d="M1144.5 590.5h2v8h-2z"/><path class="w" d="M1146.5 590V603"/><path class="r" d="M1145.5 590.5h2v3h-2z"/><path class="c" d="M1146.5 591V593"/><path class="b" d="M1147.5 588V601"/><path class="k" d="M1146.5 589.5h2v4h-2z"/><path class="w" d="M1149.5 588V598"/><path class="r" d="M1148.5 589.5h2v7h-2z"/><path class="c" d="M1149.5 590V596"/><path class="b" d="M1150.5 578V600"/><path class="k" d="M1149.5 580.5h2v16h-2z"/><path class="b" d="M1152.5 560V587"/><path class="k" d="M1151.5 561.5h2v19h-2z"/><path class="w" d="M1153.5 559V568"/><path class="r" d="M1152.5 561.5h2v1h-2z"/><path class="w" d="M1155.5 561V572"/><path class="r" d="M1154.5 562.5h2v8h-2z"/><path class="c" d="M1155.5 563V570"/><path class="w" d="M1156.5 566V576"/><path class="r" d="M1155.5 570.5h2v1h-2z"/><path class="w" d="M1157.5 568V580"/><path class="r" d="M1156.5 572.5h2v2h-2z"/><path class="w" d="M1159.5 571V578"/><path class="r" d="M1158.5 575.5h2v1h-2z"/><path class="b" d="M1160.5 569V580"/><path class="k" d="M1159.5 570.5h2v6h-2z"/><path class="b" d="M1162.5 560V573"/><path class="k" d="M1161.5 560.5h2v10h-2z"/><path class="w" d="M1163.5 560V574"/><path class="r" d="M1162.5 561.5h2v7h-2z"/><path class="c" d="M1163.5 562V568"/><path class="w" d="M1165.5 561V576"/><path class="r" d="M1164.5 568.5h2v5h-2z"/><path class="c" d="M1165.5 569V573"/><path class="b" d="M1166.5 563V574"/><path class="k" d="M1165.5 563.5h2v10h-2z"/><path class="w" d="M1167.5 557V568"/><path class="r" d="M1166.5 563.5h2v2h-2z"/><path class="b" d="M1169.5 547V570"/><path class="k" d="M1168.5 552.5h2v13h-2z"/><path class="b" d="M1170.5 530V555"/><path class="k" d="M1169.5 535.5h2v17h-2z"/><path class="b" d="M1172.5 520V537"/><path class="k" d="M1171.5 527.5h2v8h-2z"/><path class="w" d="M1173.5 525V552"/><path class="r" d="M1172.5 527.5h2v6h-2z"/><path class="c" d="M1173.5 528V533"/><path class="w" d="M1175.5 533V541"/><path class="r" d="M1174.5 533.5h2v3h-2z"/><path class="c" d="M1175.5 534V536"/><path class="w" d="M1176.5 536V551"/><path class="r" d="M1175.5 536.5h2v11h-2z"/><path class="c" d="M1176.5 537V547"/><path class="b" d="M1177.5 542V557"/><path class="k" d="M1176.5 545.5h2v1h-2z"/><path class="w" d="M1179.5 544V554"/><path class="r" d="M1178.5 545.5h2v3h-2z"/><path class="c" d="M1179.5 546V548"/><path class="b" d="M1180.5 537V550"/><path class="k" d="M1179.5 541.5h2v6h-2z"/><path class="b" d="M1182.5 529V546"/><path class="k" d="M1181.5 534.5h2v6h-2z"/><path class="b" d="M1183.5 525V541"/><path class="k" d="M1182.5 530.5h2v4h-2z"/><path class="b" d="M1185.5 523V535"/><path class="k" d="M1184.5 525.5h2v5h-2z"/><path class="w" d="M1186.5 520V530"/><path class="r" d="M1185.5 525.5h2v1h-2z"/><path class="b" d="M1187.5 519V531"/><path class="k" d="M1186.5 522.5h2v4h-2z"/><path class="w" d="M1189.5 520V530"/><path class="r" d="M1188.5 522.5h2v3h-2z"/><path class="c" d="M1189.5 523V525"/><path class="b" d="M1190.5 519V530"/><path class="k" d="M1189.5 524.5h2v1h-2z"/><path class="w" d="M1192.5 516V540"/><path class="r" d="M1191.5 525.5h2v13h-2z"/><path class="c" d="M1192.5 526V538"/><path class="w" d="M1193.5 535V546"/><path class="r" d="M1192.5 537.5h2v1h-2z"/><path class="w" d="M1195.5 528V545"/><path class="r" d="M1194.5 538.5h2v2h-2z"/><path class="b" d="M1196.5 508V542"/><path class="k" d="M1195.5 512.5h2v28h-2z"/><path class="b" d="M1197.5 490V514"/><path class="k" d="M1196.5 491.5h2v21h-2z"/><path class="b" d="M1199.5 478V502"/><path class="k" d="M1198.5 486.5h2v4h-2z"/><path class="w" d="M1200.5 487V504"/><path class="r" d="M1199.5 487.5h2v13h-2z"/><path class="c" d="M1200.5 488V500"/><path class="w" d="M1202.5 495V508"/><path class="r" d="M1201.5 501.5h2v1h-2z"/><path class="w" d="M1203.5 498V531"/><path class="r" d="M1202.5 500.5h2v29h-2z"/><path class="c" d="M1203.5 501V529"/><path class="b" d="M1205.5 510V534"/><path class="k" d="M1204.5 522.5h2v7h-2z"/><path class="w" d="M1206.5 522V550"/><path class="r" d="M1205.5 523.5h2v21h-2z"/><path class="c" d="M1206.5 524V544"/><path class="b" d="M1207.5 525V550"/><path class="k" d="M1206.5 526.5h2v17h-2z"/><path class="w" d="M1209.5 516V543"/><path class="r" d="M1208.5 525.5h2v15h-2z"/><path class="c" d="M1209.5 526V540"/><path class="b" d="M1210.5 524V547"/><path class="k" d="M1209.5 534.5h2v6h-2z"/><path class="b" d="M1212.5 509V540"/><path class="k" d="M1211.5 513.5h2v21h-2z"/><path class="w" d="M1213.5 511V541"/><path class="r" d="M1212.5 513.5h2v9h-2z"/><path class="c" d="M1213.5 514V522"/><path class="w" d="M1215.5 519V538"/><path class="r" d="M1214.5 521.5h2v7h-2z"/><path class="c" d="M1215.5 522V528"/><path class="b" d="M1216.5 519V530"/><path class="k" d="M1215.5 525.5h2v4h-2z"/><path class="b" d="M1217.5 504V530"/><path class="k" d="M1216.5 509.5h2v16h-2z"/><path class="w" d="M1219.5 501V519"/><path class="r" d="M1218.5 509.5h2v1h-2z"/><path class="b" d="M1220.5 485V517"/><path class="k" d="M1219.5 495.5h2v15h-2z"/><path class="b" d="M1222.5 467V515"/><path class="k" d="M1221.5 478.5h2v16h-2z"/><path class="b" d="M1223.5 458V482"/><path class="k" d="M1222.5 476.5h2v3h-2z"/><path class="b" d="M1225.5 438V478"/><path class="k" d="M1224.5 444.5h2v33h-2z"/><path class="b" d="M1226.5 418V447"/><path class="k" d="M1225.5 423.5h2v21h-2z"/><path class="w" d="M1227.5 419V447"/><path class="r" d="M1226.5 423.5h2v22h-2z"/><path class="c" d="M1227.5 424V445"/><path class="b" d="M1229.5 414V448"/><path class="k" d="M1228.5 427.5h2v20h-2z"/><path class="b" d="M1230.5 376V430"/><path class="k" d="M1229.5 392.5h2v35h-2z"/><path class="w" d="M1232.5 372V414"/><path class="r" d="M1231.5 392.5h2v20h-2z"/><path class="c" d="M1232.5 393V412"/><path class="b" d="M1233.5 368V418"/><path class="k" d="M1232.5 370.5h2v42h-2z"/><path class="w" d="M1235.5 363V377"/><path class="r" d="M1234.5 370.5h2v4h-2z"/><path class="c" d="M1235.5 371V374"/><path class="b" d="M1236.5 347V381"/><path class="k" d="M1235.5 353.5h2v23h-2z"/><path class="b" d="M1237.5 306V356"/><path class="k" d="M1236.5 323.5h2v29h-2z"/><path class="b" d="M1239.5 302V337"/><path class="k" d="M1238.5 310.5h2v13h-2z"/><path class="b" d="M1240.5 289V316"/><path class="k" d="M1239.5 302.5h2v7h-2z"/><path class="w" d="M1242.5 292V328"/><path class="r" d="M1241.5 302.5h2v18h-2z"/><path class="c" d="M1242.5 303V320"/><path class="w" d="M1243.5 307V342"/><path class="r" d="M1242.5 320.5h2v9h-2z"/><path class="c" d="M1243.5 321V329"/><path class="w" d="M1245.5 327V428"/><path class="r" d="M1244.5 328.5h2v60h-2z"/><path class="c" d="M1245.5 329V388"/><path class="w" d="M1246.5 378V404"/><path class="r" d="M1245.5 387.5h2v11h-2z"/><path class="c" d="M1246.5 388V398"/><path class="b" d="M1247.5 378V410"/><path class="k" d="M1246.5 386.5h2v11h-2z"/><path class="w" d="M1249.5 378V402"/><path class="r" d="M1248.5 387.5h2v1h-2z"/><path class="b" d="M1250.5 356V400"/><path class="k" d="M1249.5 386.5h2v2h-2z"/><path class="b" d="M1252.5 345V387"/><path class="k" d="M1251.5 350.5h2v34h-2z"/><path class="w" d="M1253.5 346V378"/><path class="r" d="M1252.5 350.5h2v25h-2z"/><path class="c" d="M1253.5 351V375"/><path class="b" d="M1255.5 361V393"/><path class="k" d="M1254.5 363.5h2v13h-2z"/><path class="w" d="M1256.5 362V409"/><path class="r" d="M1255.5 363.5h2v26h-2z"/><path class="c" d="M1256.5 364V389"/><path class="w" d="M1257.5 387V406"/><path class="r" d="M1256.5 388.5h2v14h-2z"/><path class="c" d="M1257.5 389V402"/><path class="b" d="M1259.5 371V410"/><path class="k" d="M1258.5 387.5h2v16h-2z"/><path class="b" d="M1260.5 340V391"/><path class="k" d="M1259.5 343.5h2v44h-2z"/><path class="w" d="M1262.5 340V363"/><path class="r" d="M1261.5 341.5h2v8h-2z"/><path class="c" d="M1262.5 342V349"/><path class="w" d="M1263.5 344V404"/><path class="r" d="M1262.5 349.5h2v38h-2z"/><path class="c" d="M1263.5 350V387"/><path class="w" d="M1265.5 386V438"/><path class="r" d="M1264.5 387.5h2v47h-2z"/><path class="c" d="M1265.5 388V434"/><path class="w" d="M1266.5 417V437"/><path class="r" d="M1265.5 433.5h2v1h-2z"/><path class="w" d="M1268.5 428V446"/><path class="r" d="M1267.5 434.5h2v4h-2z"/><path class="c" d="M1268.5 435V438"/><path class="b" d="M1269.5 420V447"/><path class="k" d="M1268.5 428.5h2v9h-2z"/><path class="b" d="M1270.5 396V429"/><path class="k" d="M1269.5 403.5h2v25h-2z"/><path class="w" d="M1272.5 396V410"/><path class="r" d="M1271.5 403.5h2v2h-2z"/><path class="b" d="M1273.5 396V415"/><path class="k" d="M1272.5 398.5h2v5h-2z"/><path class="w" d="M1275.5 396V419"/><path class="r" d="M1274.5 397.5h2v3h-2z"/><path class="c" d="M1275.5 398V400"/><path class="w" d="M1276.5 396V460"/><path class="r" d="M1275.5 399.5h2v38h-2z"/><path class="c" d="M1276.5 400V437"/><path class="w" d="M1278.5 424V438"/><path class="r" d="M1277.5 437.5h2v1h-2z"/><path class="b" d="M1279.5 411V439"/><path class="k" d="M1278.5 414.5h2v22h-2z"/><path class="w" d="M1280.5 412V432"/><path class="r" d="M1279.5 413.5h2v18h-2z"/><path class="c" d="M1280.5 414V431"/><path class="b" d="M1282.5 422V448"/><path class="k" d="M1281.5 431.5h2v1h-2z"/><path class="w" d="M1283.5 428V450"/><path class="r" d="M1282.5 430.5h2v5h-2z"/><path class="c" d="M1283.5 431V435"/><path class="w" d="M1285.5 435V451"/><path class="r" d="M1284.5 436.5h2v6h-2z"/><path class="c" d="M1285.5 437V442"/><path class="w" d="M1286.5 440V457"/><path class="r" d="M1285.5 443.5h2v1h-2z"/><path class="w" d="M1288.5 430V454"/><path class="r" d="M1287.5 443.5h2v3h-2z"/><path class="c" d="M1288.5 444V446"/><path class="b" d="M1289.5 408V450"/><path class="k" d="M1288.5 410.5h2v36h-2z"/><path class="b" d="M1290.5 350V425"/><path class="k" d="M1289.5 362.5h2v47h-2z"/><path class="b" d="M1292.5 316V367"/><path class="k" d="M1291.5 334.5h2v28h-2z"/><path class="b" d="M1293.5 311V336"/><path class="k" d="M1292.5 320.5h2v14h-2z"/><path class="b" d="M1295.5 308V321"/><path class="k" d="M1294.5 318.5h2v2h-2z"/><path class="b" d="M1296.5 308V327"/><path class="k" d="M1295.5 314.5h2v4h-2z"/><path class="w" d="M1298.5 308V340"/><path class="r" d="M1297.5 313.5h2v13h-2z"/><path class="c" d="M1298.5 314V326"/><path class="b" d="M1299.5 311V344"/><path class="k" d="M1298.5 315.5h2v10h-2z"/><path class="w" d="M1300.5 308V337"/><path class="r" d="M1299.5 314.5h2v10h-2z"/><path class="c" d="M1300.5 315V324"/><path class="b" d="M1302.5 313V327"/><path class="k" d="M1301.5 317.5h2v8h-2z"/><path class="w" d="M1303.5 315V340"/><path class="r" d="M1302.5 317.5h2v10h-2z"/><path class="c" d="M1303.5 318V327"/><path class="w" d="M1305.5 327V350"/><path class="r" d="M1304.5 328.5h2v15h-2z"/><path class="c" d="M1305.5 329V343"/><path class="w" d="M1306.5 340V376"/><path class="r" d="M1305.5 342.5h2v30h-2z"/><path class="c" d="M1306.5 343V372"/><path class="b" d="M1308.5 356V376"/><path class="k" d="M1307.5 365.5h2v8h-2z"/><path class="w" d="M1309.5 355V385"/><path class="r" d="M1308.5 365.5h2v15h-2z"/><path class="c" d="M1309.5 366V380"/><path class="b" d="M1310.5 350V384"/><path class="k" d="M1309.5 354.5h2v26h-2z"/><path class="w" d="M1312.5 352V384"/><path class="r" d="M1311.5 355.5h2v4h-2z"/><path class="c" d="M1312.5 356V359"/><path class="w" d="M1313.5 356V373"/><path class="r" d="M1312.5 359.5h2v5h-2z"/><path class="c" d="M1313.5 360V364"/><path class="w" d="M1315.5 363V391"/><path class="r" d="M1314.5 363.5h2v24h-2z"/><path class="c" d="M1315.5 364V387"/><path class="w" d="M1316.5 381V391"/><path class="r" d="M1315.5 386.5h2v4h-2z"/><path class="c" d="M1316.5 387V390"/><path class="w" d="M1318.5 375V403"/><path class="r" d="M1317.5 389.5h2v13h-2z"/><path class="c" d="M1318.5 390V402"/><path class="b" d="M1319.5 374V404"/><path class="k" d="M1318.5 376.5h2v25h-2z"/><path class="w" d="M1320.5 371V391"/><path class="r" d="M1319.5 376.5h2v12h-2z"/><path class="c" d="M1320.5 377V388"/><path class="w" d="M1322.5 384V408"/><path class="r" d="M1321.5 386.5h2v1h-2z"/><path class="w" d="M1323.5 383V461"/><path class="r" d="M1322.5 387.5h2v54h-2z"/><path class="c" d="M1323.5 388V441"/><path class="b" d="M1325.5 423V450"/><path class="k" d="M1324.5 432.5h2v10h-2z"/><path class="w" d="M1326.5 421V445"/><path class="r" d="M1325.5 432.5h2v1h-2z"/><path class="b" d="M1328.5 397V438"/><path class="k" d="M1327.5 418.5h2v12h-2z"/><path class="b" d="M1329.5 386V420"/><path class="k" d="M1328.5 402.5h2v15h-2z"/><path class="b" d="M1330.5 366V407"/><path class="k" d="M1329.5 379.5h2v23h-2z"/><path class="b" d="M1332.5 366V381"/><path class="k" d="M1331.5 367.5h2v11h-2z"/><path class="w" d="M1333.5 365V388"/><path class="r" d="M1332.5 366.5h2v21h-2z"/><path class="c" d="M1333.5 367V387"/><path class="b" d="M1335.5 362V389"/><path class="k" d="M1334.5 365.5h2v21h-2z"/><path class="w" d="M1336.5 362V392"/><path class="r" d="M1335.5 365.5h2v22h-2z"/><path class="c" d="M1336.5 366V387"/><path class="b" d="M1338.5 368V389"/><path class="k" d="M1337.5 370.5h2v17h-2z"/><path class="w" d="M1339.5 368V396"/><path class="r" d="M1338.5 372.5h2v17h-2z"/><path class="c" d="M1339.5 373V389"/><path class="w" d="M1340.5 375V412"/><path class="r" d="M1339.5 389.5h2v13h-2z"/><path class="c" d="M1340.5 390V402"/><path class="w" d="M1342.5 395V443"/><path class="r" d="M1341.5 401.5h2v30h-2z"/><path class="c" d="M1342.5 402V431"/><path class="w" d="M1343.5 413V440"/><path class="r" d="M1342.5 430.5h2v3h-2z"/><path class="c" d="M1343.5 431V433"/><path class="w" d="M1344.5 473V549"/><path class="r" d="M1343.5 474.5h2v2h-2z"/><path class="w" d="M1346.5 473V534"/><path class="r" d="M1345.5 476.5h2v53h-2z"/><path class="c" d="M1346.5 477V529"/><path class="b" d="M1347.5 499V535"/><path class="k" d="M1346.5 505.5h2v25h-2z"/><path class="b" d="M1348.5 489V512"/><path class="k" d="M1347.5 494.5h2v11h-2z"/><path class="w" d="M1350.5 490V529"/><path class="r" d="M1349.5 494.5h2v30h-2z"/><path class="c" d="M1350.5 495V524"/><path class="b" d="M1351.5 471V525"/><path class="k" d="M1350.5 481.5h2v43h-2z"/><path class="b" d="M1353.5 471V491"/><path class="k" d="M1352.5 478.5h2v3h-2z"/><path class="w" d="M1354.5 474V513"/><path class="r" d="M1353.5 478.5h2v26h-2z"/><path class="c" d="M1354.5 479V504"/><path class="b" d="M1356.5 472V514"/><path class="k" d="M1355.5 480.5h2v24h-2z"/><path class="w" d="M1357.5 476V496"/><path class="r" d="M1356.5 481.5h2v1h-2z"/><path class="b" d="M1359.5 466V499"/><path class="k" d="M1358.5 477.5h2v6h-2z"/><path class="b" d="M1360.5 466V483"/><path class="k" d="M1359.5 473.5h2v5h-2z"/><path class="w" d="M1361.5 471V518"/><path class="r" d="M1360.5 472.5h2v44h-2z"/><path class="c" d="M1361.5 473V516"/><path class="b" d="M1363.5 491V518"/><path class="k" d="M1362.5 500.5h2v16h-2z"/><path class="w" d="M1364.5 498V524"/><path class="r" d="M1363.5 500.5h2v14h-2z"/><path class="c" d="M1364.5 501V514"/><path class="b" d="M1366.5 498V516"/><path class="k" d="M1365.5 501.5h2v13h-2z"/><path class="w" d="M1367.5 499V551"/><path class="r" d="M1366.5 502.5h2v30h-2z"/><path class="c" d="M1367.5 503V532"/><path class="w" d="M1369.5 533V542"/><path class="r" d="M1368.5 533.5h2v4h-2z"/><path class="c" d="M1369.5 534V537"/><path class="w" d="M1370.5 530V541"/><path class="r" d="M1369.5 536.5h2v3h-2z"/><path class="c" d="M1370.5 537V539"/><path class="w" d="M1371.5 528V541"/><path class="r" d="M1370.5 539.5h2v1h-2z"/><path class="b" d="M1373.5 516V540"/><path class="k" d="M1372.5 522.5h2v16h-2z"/><path class="b" d="M1374.5 506V525"/><path class="k" d="M1373.5 508.5h2v14h-2z"/><path class="w" d="M1376.5 504V536"/><path class="r" d="M1375.5 508.5h2v26h-2z"/><path class="c" d="M1376.5 509V534"/><path class="b" d="M1377.5 523V536"/><path class="k" d="M1376.5 528.5h2v5h-2z"/><path class="b" d="M1379.5 518V532"/><path class="k" d="M1378.5 527.5h2v1h-2z"/><path class="b" d="M1380.5 501V536"/><path class="k" d="M1379.5 506.5h2v20h-2z"/><path class="b" d="M1381.5 490V508"/><path class="k" d="M1380.5 500.5h2v7h-2z"/><path class="b" d="M1383.5 482V508"/><path class="k" d="M1382.5 492.5h2v9h-2z"/><path class="b" d="M1384.5 477V507"/><path class="k" d="M1383.5 483.5h2v9h-2z"/><path class="w" d="M1386.5 477V498"/><path class="r" d="M1385.5 484.5h2v5h-2z"/><path class="c" d="M1386.5 485V489"/><path class="w" d="M1387.5 486V514"/><path class="r" d="M1386.5 490.5h2v19h-2z"/><path class="c" d="M1387.5 491V509"/><path class="w" d="M1389.5 503V531"/><path class="r" d="M1388.5 507.5h2v18h-2z"/><path class="c" d="M1389.5 508V525"/><path class="b" d="M1390.5 505V529"/><path class="k" d="M1389.5 507.5h2v18h-2z"/><path class="b" d="M1391.5 496V520"/><path class="k" d="M1390.5 497.5h2v10h-2z"/><path class="w" d="M1393.5 496V527"/><path class="r" d="M1392.5 498.5h2v25h-2z"/><path class="c" d="M1393.5 499V523"/><path class="b" d="M1394.5 508V526"/><path class="k" d="M1393.5 521.5h2v3h-2z"/><path class="b" d="M1396.5 478V523"/><path class="k" d="M1395.5 478.5h2v42h-2z"/><path class="w" d="M1397.5 474V503"/><path class="r" d="M1396.5 477.5h2v1h-2z"/><path class="w" d="M1399.5 477V496"/><path class="r" d="M1398.5 478.5h2v9h-2z"/><path class="c" d="M1399.5 479V487"/><path class="b" d="M1400.5 473V509"/><path class="k" d="M1399.5 485.5h2v1h-2z"/><path class="b" d="M1401.5 473V486"/><path class="k" d="M1400.5 476.5h2v8h-2z"/><path class="w" d="M1403.5 473V504"/><path class="r" d="M1402.5 477.5h2v25h-2z"/><path class="c" d="M1403.5 478V502"/><path class="w" d="M1404.5 498V523"/><path class="r" d="M1403.5 501.5h2v18h-2z"/><path class="c" d="M1404.5 502V519"/><path class="b" d="M1406.5 481V525"/><path class="k" d="M1405.5 485.5h2v33h-2z"/><path class="w" d="M1407.5 483V509"/><path class="r" d="M1406.5 485.5h2v20h-2z"/><path class="c" d="M1407.5 486V505"/><path class="b" d="M1409.5 474V511"/><path class="k" d="M1408.5 486.5h2v19h-2z"/><path class="w" d="M1410.5 483V520"/><path class="r" d="M1409.5 486.5h2v29h-2z"/><path class="c" d="M1410.5 487V515"/><path class="w" d="M1411.5 495V525"/><path class="r" d="M1410.5 515.5h2v4h-2z"/><path class="c" d="M1411.5 516V519"/><path class="b" d="M1413.5 453V524"/><path class="k" d="M1412.5 482.5h2v38h-2z"/><path class="b" d="M1414.5 444V492"/><path class="k" d="M1413.5 465.5h2v17h-2z"/><path class="w" d="M1415.5 409V422"/><path class="r" d="M1414.5 413.5h2v5h-2z"/><path class="c" d="M1415.5 414V418"/><path class="b" d="M1417.5 391V421"/><path class="k" d="M1416.5 403.5h2v15h-2z"/><path class="w" d="M1418.5 390V416"/><path class="r" d="M1417.5 405.5h2v9h-2z"/><path class="c" d="M1418.5 406V414"/><path class="w" d="M1420.5 403V430"/><path class="r" d="M1419.5 413.5h2v12h-2z"/><path class="c" d="M1420.5 414V425"/><path class="b" d="M1421.5 422V429"/><path class="k" d="M1420.5 424.5h2v1h-2z"/><path class="b" d="M1422.5 416V432"/><path class="k" d="M1421.5 419.5h2v4h-2z"/><path class="b" d="M1424.5 379V429"/><path class="k" d="M1423.5 400.5h2v18h-2z"/><path class="b" d="M1425.5 377V414"/><path class="k" d="M1424.5 387.5h2v13h-2z"/><path class="b" d="M1427.5 360V397"/><path class="k" d="M1426.5 361.5h2v26h-2z"/><path class="b" d="M1428.5 346V374"/><path class="k" d="M1427.5 358.5h2v4h-2z"/><path class="b" d="M1430.5 327V362"/><path class="k" d="M1429.5 331.5h2v26h-2z"/><path class="w" d="M1431.5 331V367"/><path class="r" d="M1430.5 332.5h2v20h-2z"/><path class="c" d="M1431.5 333V352"/><path class="b" d="M1432.5 308V354"/><path class="k" d="M1431.5 324.5h2v28h-2z"/><path class="b" d="M1434.5 294V339"/><path class="k" d="M1433.5 299.5h2v25h-2z"/><path class="w" d="M1435.5 290V349"/><path class="r" d="M1434.5 299.5h2v25h-2z"/><path class="c" d="M1435.5 300V324"/><path class="w" d="M1437.5 311V351"/><path class="r" d="M1436.5 324.5h2v18h-2z"/><path class="c" d="M1437.5 325V342"/><path class="b" d="M1438.5 306V346"/><path class="k" d="M1437.5 327.5h2v16h-2z"/><path class="b" d="M1440.5 299V332"/><path class="k" d="M1439.5 318.5h2v8h-2z"/><path class="b" d="M1441.5 290V319"/><path class="k" d="M1440.5 296.5h2v21h-2z"/><path class="w" d="M1442.5 291V354"/><path class="r" d="M1441.5 296.5h2v41h-2z"/><path class="c" d="M1442.5 297V337"/><path class="w" d="M1444.5 329V423"/><path class="r" d="M1443.5 337.5h2v32h-2z"/><path class="c" d="M1444.5 338V369"/><path class="w" d="M1445.5 367V387"/><path class="r" d="M1444.5 367.5h2v1h-2z"/><path class="w" d="M1447.5 342V379"/><path class="r" d="M1446.5 367.5h2v1h-2z"/><path class="b" d="M1448.5 362V390"/><path class="k" d="M1447.5 365.5h2v3h-2z"/><path class="w" d="M1450.5 363V392"/><path class="r" d="M1449.5 366.5h2v24h-2z"/><path class="c" d="M1450.5 367V390"/><path class="b" d="M1451.5 381V394"/><path class="k" d="M1450.5 386.5h2v4h-2z"/><path class="b" d="M1452.5 351V387"/><path class="k" d="M1451.5 365.5h2v20h-2z"/><path class="w" d="M1454.5 353V380"/><path class="r" d="M1453.5 364.5h2v13h-2z"/><path class="c" d="M1454.5 365V377"/><path class="b" d="M1455.5 342V383"/><path class="k" d="M1454.5 345.5h2v31h-2z"/><path class="w" d="M1457.5 339V376"/><path class="r" d="M1456.5 345.5h2v29h-2z"/><path class="c" d="M1457.5 346V374"/><path class="w" d="M1458.5 357V395"/><path class="r" d="M1457.5 374.5h2v13h-2z"/><path class="c" d="M1458.5 375V387"/><path class="w" d="M1460.5 376V421"/><path class="r" d="M1459.5 387.5h2v17h-2z"/><path class="c" d="M1460.5 388V404"/><path class="w" d="M1461.5 399V442"/><path class="r" d="M1460.5 403.5h2v16h-2z"/><path class="c" d="M1461.5 404V419"/><path class="b" d="M1462.5 379V428"/><path class="k" d="M1461.5 400.5h2v19h-2z"/><path class="b" d="M1464.5 369V410"/><path class="k" d="M1463.5 375.5h2v26h-2z"/><path class="w" d="M1465.5 371V394"/><path class="r" d="M1464.5 376.5h2v4h-2z"/><path class="c" d="M1465.5 377V380"/><path class="w" d="M1467.5 376V430"/><path class="r" d="M1466.5 381.5h2v38h-2z"/><path class="c" d="M1467.5 382V419"/><path class="b" d="M1468.5 383V426"/><path class="k" d="M1467.5 386.5h2v33h-2z"/><path class="w" d="M1470.5 378V398"/><path class="r" d="M1469.5 386.5h2v11h-2z"/><path class="c" d="M1470.5 387V397"/><path class="w" d="M1471.5 389V426"/><path class="r" d="M1470.5 397.5h2v22h-2z"/><path class="c" d="M1471.5 398V419"/><path class="b" d="M1473.5 398V422"/><path class="k" d="M1472.5 416.5h2v2h-2z"/><path class="b" d="M1474.5 397V425"/><path class="k" d="M1473.5 408.5h2v8h-2z"/><path class="b" d="M1475.5 386V519"/><path class="k" d="M1474.5 406.5h2v2h-2z"/><path class="w" d="M1475.5 447V456"/><path class="r" d="M1474.5 447.5h2v7h-2z"/><path class="c" d="M1475.5 448V454"/><path class="w" d="M1477.5 449V488"/><path class="r" d="M1476.5 453.5h2v21h-2z"/><path class="c" d="M1477.5 454V474"/><path class="w" d="M1478.5 470V491"/><path class="r" d="M1477.5 475.5h2v7h-2z"/><path class="c" d="M1478.5 476V482"/><path class="w" d="M1480.5 479V497"/><path class="r" d="M1479.5 482.5h2v10h-2z"/><path class="c" d="M1480.5 483V492"/><path class="b" d="M1481.5 478V497"/><path class="k" d="M1480.5 489.5h2v3h-2z"/><path class="b" d="M1483.5 449V493"/><path class="k" d="M1482.5 475.5h2v14h-2z"/><path class="b" d="M1484.5 460V480"/><path class="k" d="M1483.5 463.5h2v13h-2z"/><path class="w" d="M1485.5 460V468"/><path class="r" d="M1484.5 464.5h2v1h-2z"/><path class="w" d="M1487.5 461V484"/><path class="r" d="M1486.5 463.5h2v1h-2z"/><path class="w" d="M1488.5 460V486"/><path class="r" d="M1487.5 464.5h2v17h-2z"/><path class="c" d="M1488.5 465V481"/><path class="w" d="M1490.5 481V500"/><path class="r" d="M1489.5 481.5h2v11h-2z"/><path class="c" d="M1490.5 482V492"/><path class="w" d="M1491.5 483V513"/><path class="r" d="M1490.5 492.5h2v17h-2z"/><path class="c" d="M1491.5 493V509"/><path class="w" d="M1493.5 503V526"/><path class="r" d="M1492.5 510.5h2v9h-2z"/><path class="c" d="M1493.5 511V519"/><path class="w" d="M1494.5 516V530"/><path class="r" d="M1493.5 518.5h2v6h-2z"/><path class="c" d="M1494.5 519V524"/><path class="w" d="M1495.5 521V532"/><path class="r" d="M1494.5 524.5h2v2h-2z"/><path class="w" d="M1497.5 524V551"/><path class="r" d="M1496.5 526.5h2v21h-2z"/><path class="c" d="M1497.5 527V547"/><path class="w" d="M1498.5 547V582"/><path class="r" d="M1497.5 547.5h2v30h-2z"/><path class="c" d="M1498.5 548V577"/><path class="b" d="M1500.5 565V590"/><path class="k" d="M1499.5 570.5h2v7h-2z"/><path class="w" d="M1501.5 568V604"/><path class="r" d="M1500.5 570.5h2v22h-2z"/><path class="c" d="M1501.5 571V592"/><path class="w" d="M1503.5 587V602"/><path class="r" d="M1502.5 593.5h2v1h-2z"/><path class="b" d="M1504.5 587V598"/><path class="k" d="M1503.5 591.5h2v3h-2z"/><path class="w" d="M1505.5 584V599"/><path class="r" d="M1504.5 591.5h2v5h-2z"/><path class="c" d="M1505.5 592V596"/><path class="b" d="M1507.5 573V597"/><path class="k" d="M1506.5 581.5h2v15h-2z"/><path class="b" d="M1508.5 562V587"/><path class="k" d="M1507.5 564.5h2v17h-2z"/><path class="w" d="M1510.5 559V567"/><path class="r" d="M1509.5 564.5h2v1h-2z"/><path class="w" d="M1511.5 559V571"/><path class="r" d="M1510.5 564.5h2v4h-2z"/><path class="c" d="M1511.5 565V568"/><path class="b" d="M1513.5 559V576"/><path class="k" d="M1512.5 563.5h2v5h-2z"/><path class="w" d="M1514.5 561V581"/><path class="r" d="M1513.5 563.5h2v4h-2z"/><path class="c" d="M1514.5 564V567"/><path class="w" d="M1515.5 567V598"/><path class="r" d="M1514.5 567.5h2v20h-2z"/><path class="c" d="M1515.5 568V587"/><path class="w" d="M1517.5 587V598"/><path class="r" d="M1516.5 588.5h2v6h-2z"/><path class="c" d="M1517.5 589V594"/><path class="w" d="M1518.5 595V608"/><path class="r" d="M1517.5 595.5h2v7h-2z"/><path class="c" d="M1518.5 596V602"/><path class="w" d="M1520.5 629V643"/><path class="r" d="M1519.5 633.5h2v4h-2z"/><path class="c" d="M1520.5 634V637"/><path class="w" d="M1522.5 629V655"/><path class="r" d="M1521.5 637.5h2v8h-2z"/><path class="c" d="M1522.5 638V645"/><path class="b" d="M1523.5 631V649"/><path class="k" d="M1522.5 641.5h2v4h-2z"/><path class="b" d="M1525.5 622V643"/><path class="k" d="M1524.5 631.5h2v10h-2z"/><path class="b" d="M1526.5 611V637"/><path class="k" d="M1525.5 616.5h2v15h-2z"/><path class="w" d="M1528.5 615V639"/><path class="r" d="M1527.5 616.5h2v20h-2z"/><path class="c" d="M1528.5 617V636"/><path class="b" d="M1529.5 628V638"/><path class="k" d="M1528.5 630.5h2v6h-2z"/><path class="b" d="M1530.5 620V634"/><path class="k" d="M1529.5 625.5h2v4h-2z"/><path class="b" d="M1532.5 603V630"/><path class="k" d="M1531.5 616.5h2v9h-2z"/><path class="b" d="M1533.5 601V618"/><path class="k" d="M1532.5 610.5h2v6h-2z"/><path class="b" d="M1535.5 601V614"/><path class="k" d="M1534.5 603.5h2v7h-2z"/><path class="b" d="M1536.5 598V606"/><path class="k" d="M1535.5 598.5h2v5h-2z"/><path class="b" d="M1538.5 590V600"/><path class="k" d="M1537.5 591.5h2v8h-2z"/><path class="b" d="M1539.5 584V600"/><path class="k" d="M1538.5 584.5h2v7h-2z"/><path class="w" d="M1540.5 579V601"/><path class="r" d="M1539.5 585.5h2v15h-2z"/><path class="c" d="M1540.5 586V600"/><path class="b" d="M1542.5 588V605"/><path class="k" d="M1541.5 596.5h2v4h-2z"/><path class="b" d="M1543.5 558V601"/><path class="k" d="M1542.5 563.5h2v33h-2z"/><path class="b" d="M1545.5 513V566"/><path class="k" d="M1544.5 518.5h2v45h-2z"/><path class="b" d="M1546.5 478V522"/><path class="k" d="M1545.5 486.5h2v31h-2z"/><path class="b" d="M1548.5 477V505"/><path class="k" d="M1547.5 481.5h2v5h-2z"/><path class="w" d="M1549.5 479V511"/><path class="r" d="M1548.5 480.5h2v28h-2z"/><path class="c" d="M1549.5 481V508"/><path class="b" d="M1550.5 498V513"/><path class="k" d="M1549.5 500.5h2v8h-2z"/><path class="b" d="M1552.5 488V508"/><path class="k" d="M1551.5 488.5h2v12h-2z"/><path class="w" d="M1553.5 481V497"/><path class="r" d="M1552.5 489.5h2v2h-2z"/><path class="b" d="M1555.5 471V496"/><path class="k" d="M1554.5 473.5h2v18h-2z"/><path class="w" d="M1556.5 472V485"/><path class="r" d="M1555.5 473.5h2v4h-2z"/><path class="c" d="M1556.5 474V477"/><path class="w" d="M1558.5 472V487"/><path class="r" d="M1557.5 478.5h2v5h-2z"/><path class="c" d="M1558.5 479V483"/><path class="b" d="M1559.5 469V493"/><path class="k" d="M1558.5 474.5h2v11h-2z"/><path class="b" d="M1560.5 467V483"/><path class="k" d="M1559.5 471.5h2v4h-2z"/><path class="w" d="M1562.5 469V493"/><path class="r" d="M1561.5 472.5h2v6h-2z"/><path class="c" d="M1562.5 473V478"/><path class="w" d="M1563.5 471V492"/><path class="r" d="M1562.5 478.5h2v4h-2z"/><path class="c" d="M1563.5 479V482"/><path class="w" d="M1565.5 478V491"/><path class="r" d="M1564.5 482.5h2v6h-2z"/><path class="c" d="M1565.5 483V488"/><path class="w" d="M1566.5 475V494"/><path class="r" d="M1565.5 488.5h2v2h-2z"/><path class="b" d="M1568.5 459V497"/><path class="k" d="M1567.5 462.5h2v29h-2z"/><path class="w" d="M1569.5 459V486"/><path class="r" d="M1568.5 462.5h2v13h-2z"/><path class="c" d="M1569.5 463V475"/><path class="w" d="M1570.5 464V490"/><path class="r" d="M1569.5 475.5h2v13h-2z"/><path class="c" d="M1570.5 476V488"/><path class="b" d="M1572.5 481V495"/><path class="k" d="M1571.5 484.5h2v5h-2z"/><path class="w" d="M1573.5 483V519"/><path class="r" d="M1572.5 484.5h2v30h-2z"/><path class="c" d="M1573.5 485V514"/><path class="b" d="M1575.5 493V517"/><path class="k" d="M1574.5 497.5h2v17h-2z"/><path class="w" d="M1576.5 494V550"/><path class="r" d="M1575.5 497.5h2v19h-2z"/><path class="c" d="M1576.5 498V516"/><path class="w" d="M1578.5 513V534"/><path class="r" d="M1577.5 517.5h2v11h-2z"/><path class="c" d="M1578.5 518V528"/><path class="b" d="M1579.5 494V530"/><path class="k" d="M1578.5 495.5h2v33h-2z"/><path class="w" d="M1580.5 492V501"/><path class="r" d="M1579.5 494.5h2v1h-2z"/><path class="b" d="M1582.5 475V500"/><path class="k" d="M1581.5 492.5h2v3h-2z"/><path class="w" d="M1583.5 486V503"/><path class="r" d="M1582.5 493.5h2v6h-2z"/><path class="c" d="M1583.5 494V499"/><path class="b" d="M1585.5 486V501"/><path class="k" d="M1584.5 492.5h2v6h-2z"/><path class="b" d="M1586.5 477V504"/><path class="k" d="M1585.5 479.5h2v12h-2z"/><path class="w" d="M1588.5 477V496"/><path class="r" d="M1587.5 478.5h2v11h-2z"/><path class="c" d="M1588.5 479V489"/><path class="b" d="M1589.5 448V492"/><path class="k" d="M1588.5 454.5h2v35h-2z"/><path class="b" d="M1590.5 433V458"/><path class="k" d="M1589.5 443.5h2v12h-2z"/><path class="b" d="M1592.5 393V446"/><path class="k" d="M1591.5 401.5h2v40h-2z"/><path class="w" d="M1593.5 399V425"/><path class="r" d="M1592.5 402.5h2v13h-2z"/><path class="c" d="M1593.5 403V415"/><path class="b" d="M1595.5 368V419"/><path class="k" d="M1594.5 383.5h2v32h-2z"/><path class="b" d="M1596.5 322V388"/><path class="k" d="M1595.5 326.5h2v57h-2z"/><path class="w" d="M1598.5 319V352"/><path class="r" d="M1597.5 325.5h2v19h-2z"/><path class="c" d="M1598.5 326V344"/><path class="b" d="M1599.5 309V349"/><path class="k" d="M1598.5 313.5h2v31h-2z"/><path class="b" d="M1600.5 309V336"/><path class="k" d="M1599.5 311.5h2v2h-2z"/><path class="w" d="M1602.5 309V338"/><path class="r" d="M1601.5 311.5h2v5h-2z"/><path class="c" d="M1602.5 312V316"/><path class="w" d="M1603.5 308V329"/><path class="r" d="M1602.5 317.5h2v5h-2z"/><path class="c" d="M1603.5 318V322"/><path class="w" d="M1605.5 322V331"/><path class="r" d="M1604.5 324.5h2v4h-2z"/><path class="c" d="M1605.5 325V328"/><path class="b" d="M1606.5 316V344"/><path class="k" d="M1605.5 321.5h2v6h-2z"/><path class="w" d="M1608.5 312V342"/><path class="r" d="M1607.5 320.5h2v15h-2z"/><path class="c" d="M1608.5 321V335"/><path class="b" d="M1609.5 321V343"/><path class="k" d="M1608.5 329.5h2v9h-2z"/><path class="b" d="M1610.5 290V338"/><path class="k" d="M1609.5 291.5h2v37h-2z"/><path class="b" d="M1612.5 247V307"/><path class="k" d="M1611.5 269.5h2v22h-2z"/><path class="b" d="M1613.5 196V274"/><path class="k" d="M1612.5 217.5h2v52h-2z"/><path class="b" d="M1615.5 186V228"/><path class="k" d="M1614.5 196.5h2v21h-2z"/><path class="w" d="M1616.5 197V275"/><path class="r" d="M1615.5 197.5h2v60h-2z"/><path class="c" d="M1616.5 198V257"/><path class="w" d="M1618.5 233V291"/><path class="r" d="M1617.5 259.5h2v13h-2z"/><path class="c" d="M1618.5 260V272"/><path class="b" d="M1619.5 206V281"/><path class="k" d="M1618.5 212.5h2v62h-2z"/><path class="b" d="M1621.5 186V227"/><path class="k" d="M1620.5 205.5h2v7h-2z"/><path class="b" d="M1622.5 186V226"/><path class="k" d="M1621.5 200.5h2v4h-2z"/><path class="w" d="M1623.5 190V241"/><path class="r" d="M1622.5 201.5h2v24h-2z"/><path class="c" d="M1623.5 202V225"/><path class="w" d="M1625.5 210V251"/><path class="r" d="M1624.5 224.5h2v9h-2z"/><path class="c" d="M1625.5 225V233"/><path class="w" d="M1626.5 219V259"/><path class="r" d="M1625.5 233.5h2v24h-2z"/><path class="c" d="M1626.5 234V257"/><path class="b" d="M1628.5 213V262"/><path class="k" d="M1627.5 217.5h2v40h-2z"/><path class="w" d="M1629.5 215V262"/><path class="r" d="M1628.5 216.5h2v37h-2z"/><path class="c" d="M1629.5 217V253"/><path class="b" d="M1631.5 247V260"/><path class="k" d="M1630.5 248.5h2v3h-2z"/><path class="w" d="M1632.5 219V265"/><path class="r" d="M1631.5 248.5h2v6h-2z"/><path class="c" d="M1632.5 249V254"/><path class="b" d="M1633.5 234V265"/><path class="k" d="M1632.5 244.5h2v11h-2z"/><path class="b" d="M1635.5 209V258"/><path class="k" d="M1634.5 219.5h2v28h-2z"/><path class="w" d="M1636.5 209V240"/><path class="r" d="M1635.5 220.5h2v5h-2z"/><path class="c" d="M1636.5 221V225"/><path class="w" d="M1638.5 221V234"/><path class="r" d="M1637.5 224.5h2v5h-2z"/><path class="c" d="M1638.5 225V229"/><path class="w" d="M1639.5 212V240"/><path class="r" d="M1638.5 231.5h2v3h-2z"/><path class="c" d="M1639.5 232V234"/><path class="b" d="M1641.5 210V240"/><path class="k" d="M1640.5 215.5h2v18h-2z"/><path class="w" d="M1642.5 215V270"/><path class="r" d="M1641.5 217.5h2v40h-2z"/><path class="c" d="M1642.5 218V257"/><path class="w" d="M1643.5 246V287"/><path class="r" d="M1642.5 257.5h2v10h-2z"/><path class="c" d="M1643.5 258V267"/><path class="w" d="M1645.5 262V324"/><path class="r" d="M1644.5 266.5h2v49h-2z"/><path class="c" d="M1645.5 267V315"/><path class="b" d="M1646.5 285V323"/><path class="k" d="M1645.5 305.5h2v11h-2z"/><path class="b" d="M1648.5 253V320"/><path class="k" d="M1647.5 283.5h2v24h-2z"/><path class="b" d="M1649.5 214V287"/><path class="k" d="M1648.5 260.5h2v23h-2z"/><path class="b" d="M1651.5 203V272"/><path class="k" d="M1650.5 221.5h2v39h-2z"/><path class="b" d="M1652.5 198V223"/><path class="k" d="M1651.5 211.5h2v8h-2z"/><path class="b" d="M1653.5 199V222"/><path class="k" d="M1652.5 211.5h2v1h-2z"/><path class="w" d="M1655.5 203V251"/><path class="r" d="M1654.5 212.5h2v32h-2z"/><path class="c" d="M1655.5 213V244"/><path class="w" d="M1656.5 232V270"/><path class="r" d="M1655.5 246.5h2v14h-2z"/><path class="c" d="M1656.5 247V260"/><path class="w" d="M1658.5 253V315"/><path class="r" d="M1657.5 259.5h2v40h-2z"/><path class="c" d="M1658.5 260V299"/><path class="w" d="M1659.5 291V317"/><path class="r" d="M1658.5 299.5h2v2h-2z"/><path class="w" d="M1661.5 293V330"/><path class="r" d="M1660.5 301.5h2v5h-2z"/><path class="c" d="M1661.5 302V306"/><path class="b" d="M1662.5 290V310"/><path class="k" d="M1661.5 296.5h2v11h-2z"/><path class="w" d="M1663.5 281V321"/><path class="r" d="M1662.5 296.5h2v22h-2z"/><path class="c" d="M1663.5 297V318"/><path class="w" d="M1665.5 313V326"/><path class="r" d="M1664.5 317.5h2v1h-2z"/><path class="b" d="M1666.5 268V319"/><path class="k" d="M1665.5 307.5h2v11h-2z"/><path class="b" d="M1668.5 279V323"/><path class="k" d="M1667.5 293.5h2v14h-2z"/><path class="w" d="M1669.5 280V311"/><path class="r" d="M1668.5 291.5h2v9h-2z"/><path class="c" d="M1669.5 292V300"/><path class="w" d="M1671.5 297V350"/><path class="r" d="M1670.5 300.5h2v40h-2z"/><path class="c" d="M1671.5 301V340"/><path class="w" d="M1672.5 323V373"/><path class="r" d="M1671.5 339.5h2v20h-2z"/><path class="c" d="M1672.5 340V359"/><path class="w" d="M1673.5 352V396"/><path class="r" d="M1672.5 358.5h2v30h-2z"/><path class="c" d="M1673.5 359V388"/><path class="w" d="M1675.5 385V417"/><path class="r" d="M1674.5 388.5h2v17h-2z"/><path class="c" d="M1675.5 389V405"/><path class="b" d="M1676.5 364V424"/><path class="k" d="M1675.5 385.5h2v19h-2z"/><path class="b" d="M1678.5 353V389"/><path class="k" d="M1677.5 365.5h2v20h-2z"/><path class="w" d="M1679.5 365V408"/><path class="r" d="M1678.5 366.5h2v30h-2z"/><path class="c" d="M1679.5 367V396"/><path class="w" d="M1681.5 386V415"/><path class="r" d="M1680.5 395.5h2v6h-2z"/><path class="c" d="M1681.5 396V401"/><path class="w" d="M1682.5 399V436"/><path class="r" d="M1681.5 402.5h2v31h-2z"/><path class="c" d="M1682.5 403V433"/><path class="b" d="M1683.5 427V441"/><path class="k" d="M1682.5 428.5h2v4h-2z"/><path class="w" d="M1685.5 426V460"/><path class="r" d="M1684.5 429.5h2v8h-2z"/><path class="c" d="M1685.5 430V437"/><path class="w" d="M1686.5 434V487"/><path class="r" d="M1685.5 438.5h2v19h-2z"/><path class="c" d="M1686.5 439V457"/><path class="b" d="M1688.5 448V471"/><path class="k" d="M1687.5 455.5h2v3h-2z"/><path class="b" d="M1689.5 429V460"/><path class="k" d="M1688.5 433.5h2v21h-2z"/><path class="w" d="M1691.5 429V445"/><path class="r" d="M1690.5 431.5h2v7h-2z"/><path class="c" d="M1691.5 432V438"/><path class="w" d="M1692.5 431V475"/><path class="r" d="M1691.5 438.5h2v23h-2z"/><path class="c" d="M1692.5 439V461"/><path class="b" d="M1693.5 424V463"/><path class="k" d="M1692.5 425.5h2v36h-2z"/><path class="b" d="M1695.5 418V441"/><path class="k" d="M1694.5 423.5h2v1h-2z"/><path class="b" d="M1696.5 410V426"/><path class="k" d="M1695.5 412.5h2v10h-2z"/><path class="b" d="M1698.5 378V420"/><path class="k" d="M1697.5 408.5h2v3h-2z"/><path class="b" d="M1699.5 394V419"/><path class="k" d="M1698.5 401.5h2v8h-2z"/><path class="w" d="M1701.5 394V414"/><path class="r" d="M1700.5 402.5h2v10h-2z"/><path class="c" d="M1701.5 403V412"/><path class="w" d="M1702.5 402V430"/><path class="r" d="M1701.5 412.5h2v15h-2z"/><path class="c" d="M1702.5 413V427"/><path class="w" d="M1703.5 426V460"/><path class="r" d="M1702.5 429.5h2v24h-2z"/><path class="c" d="M1703.5 430V453"/><path class="w" d="M1705.5 448V460"/><path class="r" d="M1704.5 453.5h2v1h-2z"/><path class="b" d="M1706.5 428V456"/><path class="k" d="M1705.5 446.5h2v7h-2z"/><path class="b" d="M1708.5 441V455"/><path class="k" d="M1707.5 443.5h2v3h-2z"/><path class="w" d="M1709.5 426V450"/><path class="r" d="M1708.5 444.5h2v1h-2z"/><path class="w" d="M1711.5 439V457"/><path class="r" d="M1710.5 445.5h2v7h-2z"/><path class="c" d="M1711.5 446V452"/><path class="b" d="M1712.5 435V452"/><path class="k" d="M1711.5 442.5h2v9h-2z"/><path class="b" d="M1713.5 439V447"/><path class="k" d="M1712.5 441.5h2v2h-2z"/><path class="b" d="M1715.5 432V446"/><path class="k" d="M1714.5 433.5h2v8h-2z"/><path class="b" d="M1716.5 417V438"/><path class="k" d="M1715.5 427.5h2v7h-2z"/><path class="b" d="M1718.5 387V429"/><path class="k" d="M1717.5 393.5h2v34h-2z"/><path class="w" d="M1719.5 387V415"/><path class="r" d="M1718.5 392.5h2v13h-2z"/><path class="c" d="M1719.5 393V405"/><path class="w" d="M1721.5 397V422"/><path class="r" d="M1720.5 405.5h2v8h-2z"/><path class="c" d="M1721.5 406V413"/><path class="b" d="M1722.5 393V424"/><path class="k" d="M1721.5 399.5h2v13h-2z"/><path class="b" d="M1723.5 383V404"/><path class="k" d="M1722.5 394.5h2v5h-2z"/><path class="w" d="M1725.5 387V405"/><path class="r" d="M1724.5 393.5h2v10h-2z"/><path class="c" d="M1725.5 394V403"/><path class="w" d="M1726.5 398V420"/><path class="r" d="M1725.5 403.5h2v7h-2z"/><path class="c" d="M1726.5 404V410"/><path class="w" d="M1728.5 410V434"/><path class="r" d="M1727.5 411.5h2v20h-2z"/><path class="c" d="M1728.5 412V431"/><path class="w" d="M1729.5 425V469"/><path class="r" d="M1728.5 431.5h2v34h-2z"/><path class="c" d="M1729.5 432V465"/><path class="b" d="M1731.5 438V469"/><path class="k" d="M1730.5 443.5h2v21h-2z"/><path class="w" d="M1732.5 443V472"/><path class="r" d="M1731.5 444.5h2v25h-2z"/><path class="c" d="M1732.5 445V469"/><path class="b" d="M1733.5 447V471"/><path class="k" d="M1732.5 453.5h2v17h-2z"/><path class="w" d="M1735.5 448V485"/><path class="r" d="M1734.5 453.5h2v6h-2z"/><path class="c" d="M1735.5 454V459"/><path class="w" d="M1736.5 449V481"/><path class="r" d="M1735.5 460.5h2v12h-2z"/><path class="c" d="M1736.5 461V472"/><path class="w" d="M1736.5 522V536"/><path class="r" d="M1735.5 523.5h2v10h-2z"/><path class="c" d="M1736.5 524V533"/><path class="w" d="M1738.5 522V548"/><path class="r" d="M1737.5 533.5h2v7h-2z"/><path class="c" d="M1738.5 534V540"/><path class="w" d="M1739.5 538V581"/><path class="r" d="M1738.5 540.5h2v40h-2z"/><path class="c" d="M1739.5 541V580"/><path class="w" d="M1741.5 572V608"/><path class="r" d="M1740.5 581.5h2v14h-2z"/><path class="c" d="M1741.5 582V595"/><path class="b" d="M1742.5 568V596"/><path class="k" d="M1741.5 589.5h2v6h-2z"/><path class="b" d="M1744.5 555V593"/><path class="k" d="M1743.5 564.5h2v26h-2z"/><path class="w" d="M1745.5 554V578"/><path class="r" d="M1744.5 564.5h2v8h-2z"/><path class="c" d="M1745.5 565V572"/><path class="w" d="M1747.5 569V588"/><path class="r" d="M1746.5 572.5h2v10h-2z"/><path class="c" d="M1747.5 573V582"/><path class="b" d="M1748.5 564V583"/><path class="k" d="M1747.5 566.5h2v15h-2z"/><path class="w" d="M1749.5 565V590"/><path class="r" d="M1748.5 567.5h2v22h-2z"/><path class="c" d="M1749.5 568V589"/><path class="b" d="M1751.5 577V591"/><path class="k" d="M1750.5 580.5h2v9h-2z"/><path class="w" d="M1752.5 581V595"/><path class="r" d="M1751.5 581.5h2v8h-2z"/><path class="c" d="M1752.5 582V589"/><path class="b" d="M1754.5 568V595"/><path class="k" d="M1753.5 577.5h2v12h-2z"/><path class="w" d="M1755.5 570V590"/><path class="r" d="M1754.5 577.5h2v6h-2z"/><path class="c" d="M1755.5 578V583"/><path class="b" d="M1757.5 564V587"/><path class="k" d="M1756.5 571.5h2v13h-2z"/><path class="b" d="M1758.5 567V583"/><path class="k" d="M1757.5 568.5h2v2h-2z"/><path class="b" d="M1759.5 557V570"/><path class="k" d="M1758.5 563.5h2v6h-2z"/><path class="b" d="M1761.5 557V577"/><path class="k" d="M1760.5 561.5h2v2h-2z"/><path class="w" d="M1762.5 558V578"/><path class="r" d="M1761.5 560.5h2v10h-2z"/><path class="c" d="M1762.5 561V570"/><path class="w" d="M1764.5 570V583"/><path class="r" d="M1763.5 570.5h2v1h-2z"/></g>
<path stroke="#008080" fill="none" d="M172.2 268.4L1588 0.5"/><path stroke="#8000ff" fill="none" d="M1123 330.8L1695 123.4"/><path stroke="#8000ff" fill="none" d="M1123 642.3L1694.6 433.7"/><path stroke="#008000" fill="none" d="M172 838.4L1830 520"/><path stroke="#00e000" fill="none" d="M912.4 658.6L1333 184"/><path stroke="#00e000" fill="none" d="M956.4 838.8L1333 415"/><path stroke="#00ffff" fill="none" d="M889.4 705L1238.7 608.4"/><path stroke="#00ffff" fill="none" d="M889.4 588.4L1238.7 492.1"/><path stroke="#008000" fill="none" d="M1546 475L1637.7 104"/><path stroke="#008000" fill="none" d="M1546 682L1638 312"/><path stroke="#00ff00" stroke-width="1.4" fill="none" d="M1521.4 522.3L1610.7 344.3"/><path stroke="#00ff00" stroke-width="1.8" fill="none" d="M1521.2 658L1610.7 479.2"/><path stroke="#ff6464" stroke-dasharray="3 3" fill="none" d="M4 187.5L417 187.5"/><path stroke="#f00" stroke-dasharray="3 3" fill="none" d="M627 185.5L1830 185.5"/><path stroke="#f00" stroke-dasharray="3 3" fill="none" d="M497 250.5L614 250.5"/><path stroke="#f00" fill="none" d="M497.5 250L497.5 270"/><path stroke="#f00" fill="none" d="M614.5 250L614.5 285"/><path stroke="#f00" stroke-dasharray="3 3" fill="none" d="M576 297.5L610 297.5"/><path stroke="#f00" stroke-dasharray="3 3" fill="none" d="M1240 289.5L1608 289.5"/><path stroke="#ff6464" stroke-dasharray="3 3" fill="none" d="M726 360.5L1275 360.5"/><path stroke="#ff6464" stroke-dasharray="3 3" fill="none" d="M1690 377.5L1765 377.5"/><path stroke="#ff6464" stroke-dasharray="3 3" fill="none" d="M1554 453.5L1631 455.5"/><path stroke="#ff6464" stroke-dasharray="3 3" fill="none" d="M776.7 577.6L1160 540"/><path stroke="#ff6464" stroke-dasharray="3.23 3.23" fill="none" d="M569.3 322.3L657 105"/><path stroke="#00e000" stroke-dasharray="3 3" fill="none" d="M525 612.5L1830 612.5"/><path stroke="#00e000" stroke-dasharray="3 3" fill="none" d="M193 835.5L1830 835.5"/><path stroke="#00e000" stroke-dasharray="3 3" fill="none" d="M571 481.5L701 481.5"/><path stroke="#00e000" stroke-dasharray="3 3" fill="none" d="M626 311.5L658 311.5"/><path stroke="#00e000" stroke-dasharray="3.25 3.25" fill="none" d="M569.3 534L657.4 322.3"/><path stroke="#00c000" stroke-dasharray="3 3" fill="none" d="M770.4 712.2L1156.7 674.7"/><path stroke="#80ff00" stroke-dasharray="3 3" fill="none" d="M1680 487.5L1747 487.5"/><path stroke="#80ff00" stroke-dasharray="3 3" fill="none" d="M1747 488.5L1809 488.5"/><path stroke="#80ff00" stroke-dasharray="3 3" fill="none" d="M1567 549.5L1696 550.5"/>
<path stroke="#000" fill="none" d="M5 860.5H1837M5 885.5H1837M5 911.5H1837"/><path stroke="#000" fill="none" stroke-linejoin="round" d="M17.5 900.7L18.3 898.1L19.0 896.3L19.8 897.9L20.5 901.9L21.3 906.5L22.0 910.8L22.8 912.8L23.5 912.5L24.3 910.2L25.0 906.0L25.8 905.3L26.5 903.5L27.3 901.9L28.0 898.2L28.8 894.3L29.5 892.2L30.3 889.9L31.0 886.1L31.8 884.4L32.5 880.3L33.3 877.0L34.0 877.0L34.8 873.1L35.5 872.5L36.3 869.0L37.0 869.1L37.8 872.4L38.5 877.0L39.3 883.1L40.0 889.0L40.8 896.9L41.5 901.9L42.3 906.7L43.0 911.3L43.8 915.7L44.5 913.5L45.3 910.0L46.0 906.7L46.8 904.5L47.5 899.7L48.3 896.8L49.0 893.5L49.8 895.2L50.5 896.8L51.3 898.3L52.0 902.9L52.8 903.5L53.5 905.1L54.3 906.6L55.0 905.8L55.8 903.9L56.5 900.3L57.3 898.9L58.0 895.1L58.8 891.8L59.5 888.5L60.3 884.9L61.0 881.1L61.8 878.6L62.5 875.0L63.3 870.6L64.0 867.0L64.8 865.0L65.5 859.7L66.3 856.8L67.0 855.4L67.8 852.9L68.5 852.8L69.3 852.1L70.0 859.9L70.8 866.1L71.5 873.8L72.3 879.2L73.0 888.4L73.8 894.4L74.5 899.8L75.3 904.5L76.0 905.6L76.8 901.0L77.5 899.5L78.3 893.6L79.0 888.5L79.8 887.0L80.5 880.6L81.3 876.8L82.0 873.1L82.8 868.2L83.5 866.0L84.3 861.1L85.0 865.8L85.8 867.8L86.5 873.1L87.3 879.4L88.0 882.4L88.8 890.0L89.5 893.9L90.3 900.2L91.0 903.9L91.8 907.3L92.5 911.2L93.3 907.9L94.0 904.5L94.8 899.3L95.5 895.3L96.3 891.6L97.0 883.3L97.8 877.6L98.5 873.2L99.3 868.1L100.0 864.2L100.8 860.1L101.5 860.3L102.3 862.7L103.0 865.5L103.8 868.2L104.5 871.4L105.3 875.1L106.0 878.2L106.8 882.6L107.5 886.7L108.3 890.9L109.0 892.8L109.8 898.4L110.5 901.2L111.3 905.7L112.0 907.3L112.8 911.2L113.5 912.7L114.3 915.3L115.0 915.1L115.8 913.2L116.5 913.2L117.3 910.6L118.0 909.4L118.8 907.5L119.5 905.7L120.3 904.4L121.0 901.4L121.8 900.8L122.5 897.9L123.3 898.3L124.0 893.8L124.8 895.1L125.5 892.0L126.3 889.6L127.0 890.2L127.8 893.8L128.5 893.9L129.3 899.0L130.0 905.8L130.8 909.1L131.5 912.1L132.3 913.0L133.0 915.0L133.8 913.4L134.5 908.4L135.3 909.1L136.0 904.7L136.8 903.0L137.5 899.9L138.3 898.2L139.0 895.5L139.8 896.0L140.5 893.4L141.3 890.2L142.0 888.5L142.8 880.8L143.5 870.8L144.3 864.8L145.0 860.5L145.8 860.4L146.5 862.2L147.3 859.1L148.0 861.0L148.8 859.5L149.5 858.8L150.3 858.2L151.0 858.4L151.8 856.8L152.5 854.2L153.3 855.0L154.0 854.8L154.8 852.9L155.5 855.6L156.3 856.8L157.0 859.5L157.8 860.7L158.5 859.0L159.3 859.7L160.0 860.2L160.8 860.3L161.5 859.2L162.3 859.0L163.0 857.7L163.8 855.8L164.5 856.0L165.3 856.7L166.0 853.9L166.8 853.9L167.5 854.1L168.3 852.5L169.0 851.8L169.8 849.2L170.5 852.1L171.3 848.7L172.0 849.4L172.8 851.5L173.5 853.6L174.3 858.2L175.0 861.9L175.8 867.1L176.5 870.9L177.3 878.4L178.0 879.9L178.8 885.7L179.5 890.3L180.3 893.4L181.0 899.6L181.8 901.4L182.5 906.1L183.3 909.8L184.0 908.9L184.8 909.5L185.5 908.2L186.3 909.2L187.0 906.5L187.8 905.4L188.5 903.7L189.3 905.0L190.0 906.4L190.8 907.9L191.5 910.2L192.3 910.7L193.0 911.7L193.8 913.3L194.5 914.4L195.3 911.7L196.0 908.6L196.8 907.1L197.5 904.2L198.3 901.4L199.0 897.7L199.8 894.9L200.5 891.4L201.3 887.0L202.0 885.0L202.8 881.5L203.5 877.6L204.3 877.4L205.0 874.7L205.8 875.3L206.5 876.9L207.3 877.8L208.0 871.8L208.8 868.6L209.5 864.5L210.3 858.0L211.0 856.0L211.8 855.4L212.5 858.7L213.3 862.4L214.0 863.6L214.8 867.2L215.5 871.1L216.3 873.6L217.0 873.8L217.8 871.6L218.5 868.3L219.3 867.2L220.0 862.9L220.8 861.3L221.5 859.1L222.3 856.7L223.0 855.2L223.8 851.3L224.5 851.5L225.3 848.2L226.0 849.9L226.8 851.9L227.5 853.8L228.3 859.6L229.0 860.2L229.8 866.1L230.5 867.7L231.3 872.3L232.0 876.1L232.8 878.0L233.5 881.5L234.3 884.7L235.0 887.2L235.8 890.5L236.5 890.1L237.3 892.5L238.0 889.9L238.8 887.5L239.5 880.8L240.3 874.7L241.0 871.2L241.8 865.3L242.5 866.1L243.3 869.4L244.0 871.5L244.8 875.2L245.5 878.4L246.3 877.8L247.0 872.7L247.8 868.7L248.5 864.8L249.3 860.5L250.0 858.7L250.8 858.1L251.5 860.8L252.3 861.4L253.0 865.9L253.8 866.5L254.5 870.6L255.3 871.5L256.0 872.5L256.8 876.2L257.5 881.5L258.3 883.7L259.0 885.6L259.8 888.7L260.5 890.2L261.3 891.2L262.0 893.3L262.8 891.8L263.5 888.4L264.3 887.9L265.0 884.4L265.8 880.8L266.5 880.6L267.3 879.9L268.0 883.6L268.8 888.4L269.5 893.3L270.3 899.5L271.0 905.3L271.8 907.7L272.5 905.5L273.3 898.8L274.0 892.0L274.8 886.5L275.5 879.3L276.3 872.6L277.0 866.6L277.8 864.9L278.5 867.1L279.3 868.2L280.0 872.0L280.8 874.4L281.5 879.2L282.3 883.2L283.0 886.3L283.8 889.9L284.5 891.0L285.3 893.4L286.0 886.7L286.8 877.3L287.5 868.6L288.3 858.4L289.0 850.1L289.8 847.2L290.5 849.2L291.3 850.6L292.0 847.7L292.8 848.7L293.5 846.2L294.3 847.1L295.0 845.7L295.8 844.5L296.5 844.6L297.3 847.6L298.0 849.6L298.8 850.8L299.5 853.5L300.3 857.6L301.0 860.4L301.8 863.0L302.5 861.4L303.3 860.9L304.0 859.0L304.8 856.5L305.5 855.0L306.3 859.5L307.0 861.2L307.8 866.4L308.5 873.5L309.3 879.4L310.0 885.0L310.8 890.9L311.5 894.4L312.3 900.9L313.0 903.8L313.8 899.4L314.5 892.9L315.3 885.0L316.0 878.7L316.8 877.0L317.5 878.5L318.3 881.8L319.0 881.5L319.8 888.8L320.5 901.1L321.3 910.3L322.0 912.6L322.8 911.9L323.5 908.5L324.3 905.2L325.0 900.4L325.8 897.4L326.5 893.3L327.3 890.5L328.0 885.7L328.8 883.3L329.5 880.3L330.3 880.6L331.0 885.4L331.8 890.0L332.5 896.4L333.3 900.9L334.0 900.1L334.8 897.8L335.5 895.0L336.3 890.7L337.0 888.8L337.8 885.0L338.5 882.5L339.3 880.5L340.0 880.9L340.8 883.0L341.5 884.2L342.3 886.2L343.0 884.1L343.8 879.3L344.5 875.4L345.3 872.1L346.0 865.9L346.8 863.5L347.5 860.4L348.3 862.3L349.0 866.2L349.8 870.0L350.5 872.3L351.3 870.3L352.0 867.6L352.8 866.5L353.5 863.3L354.3 862.0L355.0 863.0L355.8 867.1L356.5 871.6L357.3 873.6L358.0 880.7L358.8 887.0L359.5 891.3L360.3 895.9L361.0 898.6L361.8 890.8L362.5 885.9L363.3 877.8L364.0 866.6L364.8 860.1L365.5 852.8L366.3 850.2L367.0 851.4L367.8 851.8L368.5 849.6L369.3 850.3L370.0 850.4L370.8 850.7L371.5 853.0L372.3 855.2L373.0 852.9L373.8 856.1L374.5 855.4L375.3 852.1L376.0 857.3L376.8 858.7L377.5 863.1L378.3 866.8L379.0 871.3L379.8 872.1L380.5 873.8L381.3 871.2L382.0 867.8L382.8 863.9L383.5 863.2L384.3 865.3L385.0 868.1L385.8 873.2L386.5 877.2L387.3 882.0L388.0 885.1L388.8 887.9L389.5 886.8L390.3 885.7L391.0 881.0L391.8 875.6L392.5 870.1L393.3 865.8L394.0 863.5L394.8 865.0L395.5 870.7L396.3 872.2L397.0 879.7L397.8 884.6L398.5 887.5L399.3 884.4L400.0 879.5L400.8 872.6L401.5 861.9L402.3 858.7L403.0 853.9L403.8 850.9L404.5 852.8L405.3 852.7L406.0 851.9L406.8 851.6L407.5 850.7L408.3 855.6L409.0 855.2L409.8 858.3L410.5 861.1L411.3 864.4L412.0 868.2L412.8 870.1L413.5 870.4L414.3 867.6L415.0 864.1L415.8 859.2L416.5 858.2L417.3 862.4L418.0 865.3L418.8 867.1L419.5 873.3L420.3 875.5L421.0 877.5L421.8 879.0L422.5 875.7L423.3 873.1L424.0 869.4L424.8 865.8L425.5 863.3L426.3 859.5L427.0 856.8L427.8 853.8L428.5 850.6L429.3 849.3L430.0 849.8L430.8 850.8L431.5 851.1L432.3 850.2L433.0 852.0L433.8 854.0L434.5 854.1L435.3 856.1L436.0 853.7L436.8 855.7L437.5 855.2L438.3 855.1L439.0 856.8L439.8 861.3L440.5 868.0L441.3 871.6L442.0 878.8L442.8 886.0L443.5 891.7L444.3 898.8L445.0 902.8L445.8 908.3L446.5 907.0L447.3 902.6L448.0 897.3L448.8 890.8L449.5 884.2L450.3 877.9L451.0 870.7L451.8 864.7L452.5 857.9L453.3 854.0L454.0 853.6L454.8 857.1L455.5 857.4L456.3 859.9L457.0 862.5L457.8 864.7L458.5 871.1L459.3 876.9L460.0 883.1L460.8 889.2L461.5 896.1L462.3 901.0L463.0 906.9L463.8 911.8L464.5 913.0L465.3 908.6L466.0 900.1L466.8 888.6L467.5 880.7L468.3 867.2L469.0 859.1L469.8 850.9L470.5 845.8L471.3 848.3L472.0 848.1L472.8 850.7L473.5 853.5L474.3 857.0L475.0 856.8L475.8 856.8L476.5 857.6L477.3 852.7L478.0 849.6L478.8 850.4L479.5 852.7L480.3 855.5L481.0 861.5L481.8 865.2L482.5 870.7L483.3 876.4L484.0 878.2L484.8 878.1L485.5 874.7L486.3 870.7L487.0 865.9L487.8 860.1L488.5 857.5L489.3 851.0L490.0 846.2L490.8 848.0L491.5 845.7L492.3 847.8L493.0 848.1L493.8 848.4L494.5 849.9L495.3 849.6L496.0 848.6L496.8 850.1L497.5 853.2L498.3 858.1L499.0 863.6L499.8 870.0L500.5 877.5L501.3 886.0L502.0 890.2L502.8 897.4L503.5 902.9L504.3 907.7L505.0 907.0L505.8 905.6L506.5 901.7L507.3 900.1L508.0 897.9L508.8 893.6L509.5 890.8L510.3 887.2L511.0 883.6L511.8 879.6L512.5 875.8L513.3 873.7L514.0 872.3L514.8 870.9L515.5 867.4L516.3 872.7L517.0 875.1L517.8 876.6L518.5 880.7L519.3 883.6L520.0 887.7L520.8 892.5L521.5 895.1L522.3 899.5L523.0 902.6L523.8 907.3L524.5 911.4L525.3 915.9L526.0 916.4L526.8 917.2L527.5 915.4L528.3 912.5L529.0 907.7L529.8 905.4L530.5 899.0L531.3 897.0L532.0 888.6L532.8 881.5L533.5 878.6L534.3 875.4L535.0 870.9L535.8 864.4L536.5 865.0L537.3 863.2L538.0 866.7L538.8 870.1L539.5 875.6L540.3 882.1L541.0 887.6L541.8 893.5L542.5 900.1L543.3 906.7L544.0 911.6L544.8 915.6L545.5 919.1L546.3 914.4L547.0 908.9L547.8 904.0L548.5 897.5L549.3 890.4L550.0 883.3L550.8 876.3L551.5 869.7L552.3 864.7L553.0 857.0L553.8 854.2L554.5 852.4L555.3 853.5L556.0 851.4L556.8 852.9L557.5 851.2L558.3 851.0L559.0 849.4L559.8 849.3L560.5 845.1L561.3 847.1L562.0 846.5L562.8 846.2L563.5 848.0L564.3 851.2L565.0 849.7L565.8 850.9L566.5 854.2L567.3 854.9L568.0 858.8L568.8 862.8L569.5 867.4L570.3 872.1L571.0 872.3L571.8 873.1L572.5 872.5L573.3 873.2L574.0 872.1L574.8 873.1L575.5 869.6L576.3 865.6L577.0 861.9L577.8 857.6L578.5 853.9L579.3 852.4L580.0 851.2L580.8 855.5L581.5 863.7L582.3 871.4L583.0 880.2L583.8 887.7L584.5 895.0L585.3 898.4L586.0 900.0L586.8 901.6L587.5 897.7L588.3 898.2L589.0 896.6L589.8 894.2L590.5 895.9L591.3 897.6L592.0 899.9L592.8 901.7L593.5 905.1L594.3 902.8L595.0 904.9L595.8 902.5L596.5 904.1L597.3 902.7L598.0 903.4L598.8 897.3L599.5 889.8L600.3 881.4L601.0 872.3L601.8 864.2L602.5 855.7L603.3 849.9L604.0 846.5L604.8 846.2L605.5 846.1L606.3 847.5L607.0 850.3L607.8 852.3L608.5 853.6L609.3 854.2L610.0 854.7L610.8 855.1L611.5 855.4L612.3 853.3L613.0 853.3L613.8 855.8L614.5 859.2L615.3 860.6L616.0 861.1L616.8 866.4L617.5 868.3L618.3 866.8L619.0 865.4L619.8 865.2L620.5 860.9L621.3 857.7L622.0 854.7L622.8 852.9L623.5 854.2L624.3 854.4L625.0 852.9L625.8 854.2L626.5 854.7L627.3 854.5L628.0 855.9L628.8 855.2L629.5 856.1L630.3 861.3L631.0 866.6L631.8 876.8L632.5 883.8L633.3 892.8L634.0 902.3L634.8 909.5L635.5 910.7L636.3 908.3L637.0 903.4L637.8 899.2L638.5 893.8L639.3 890.2L640.0 888.9L640.8 883.1L641.5 878.5L642.3 874.5L643.0 870.8L643.8 867.2L644.5 870.9L645.3 872.3L646.0 876.5L646.8 879.9L647.5 883.8L648.3 884.9L649.0 892.3L649.8 895.9L650.5 899.9L651.3 901.5L652.0 906.8L652.8 909.7L653.5 909.1L654.3 906.6L655.0 902.9L655.8 900.6L656.5 897.3L657.3 890.2L658.0 885.6L658.8 884.1L659.5 877.2L660.3 874.4L661.0 868.8L661.8 869.1L662.5 875.7L663.3 881.5L664.0 889.3L664.8 896.4L665.5 903.7L666.3 911.8L667.0 914.3L667.8 912.7L668.5 914.7L669.3 913.9L670.0 913.0L670.8 914.2L671.5 913.6L672.3 911.7L673.0 911.0L673.8 907.6L674.5 905.0L675.3 901.3L676.0 900.4L676.8 896.6L677.5 896.6L678.3 898.9L679.0 897.6L679.8 902.7L680.5 903.2L681.3 905.3L682.0 907.1L682.8 909.0L683.5 911.1L684.3 912.0L685.0 907.3L685.8 903.5L686.5 899.9L687.3 894.4L688.0 889.9L688.8 883.1L689.5 876.7L690.3 872.3L691.0 864.8L691.8 862.2L692.5 855.7L693.3 852.7L694.0 851.9L694.8 854.5L695.5 858.5L696.3 864.0L697.0 871.8L697.8 877.6L698.5 883.2L699.3 890.6L700.0 897.1L700.8 902.4L701.5 907.4L702.3 909.7L703.0 917.4L703.8 915.2L704.5 912.2L705.3 906.8L706.0 898.1L706.8 892.0L707.5 887.4L708.3 880.2L709.0 873.3L709.8 871.0L710.5 869.8L711.3 871.1L712.0 876.5L712.8 880.7L713.5 885.0L714.3 888.5L715.0 894.4L715.8 898.5L716.5 902.3L717.3 898.7L718.0 897.7L718.8 892.0L719.5 886.2L720.3 882.3L721.0 873.3L721.8 869.3L722.5 863.8L723.3 857.8L724.0 853.3L724.8 849.7L725.5 849.7L726.3 850.2L727.0 848.5L727.8 852.1L728.5 853.6L729.3 852.3L730.0 853.4L730.8 854.6L731.5 857.0L732.3 861.3L733.0 864.6L733.8 871.7L734.5 880.0L735.3 884.7L736.0 893.1L736.8 896.9L737.5 902.4L738.3 908.6L739.0 913.4L739.8 915.7L740.5 912.6L741.3 912.4L742.0 909.0L742.8 905.2L743.5 901.4L744.3 897.9L745.0 894.5L745.8 892.6L746.5 893.2L747.3 893.0L748.0 895.2L748.8 896.8L749.5 899.5L750.3 902.7L751.0 905.3L751.8 906.8L752.5 908.0L753.3 909.2L754.0 909.9L754.8 914.6L755.5 912.1L756.3 917.1L757.0 917.0L757.8 918.1L758.5 919.7L759.3 920.4L760.0 917.1L760.8 915.0L761.5 912.4L762.3 911.7L763.0 908.9L763.8 906.1L764.5 903.7L765.3 904.5L766.0 900.7L766.8 898.9L767.5 899.4L768.3 896.7L769.0 896.1L769.8 896.1L770.5 897.6L771.3 896.2L772.0 894.3L772.8 894.7L773.5 894.8L774.3 894.7L775.0 893.2L775.8 895.7L776.5 896.6L777.3 898.8L778.0 902.0L778.8 905.5L779.5 908.6L780.3 910.8L781.0 913.9L781.8 913.4L782.5 916.4L783.3 917.0L784.0 918.8L784.8 917.5L785.5 918.7L786.3 918.4L787.0 919.7L787.8 919.7L788.5 920.9L789.3 917.2L790.0 910.8L790.8 907.2L791.5 901.0L792.3 895.2L793.0 892.6L793.8 886.4L794.5 883.0L795.3 885.5L796.0 886.9L796.8 889.8L797.5 889.8L798.3 883.3L799.0 876.2L799.8 870.0L800.5 865.3L801.3 867.5L802.0 869.8L802.8 875.4L803.5 879.3L804.3 885.0L805.0 886.4L805.8 881.3L806.5 874.4L807.3 867.9L808.0 859.1L808.8 853.4L809.5 848.7L810.3 849.5L811.0 853.2L811.8 856.1L812.5 857.1L813.3 860.3L814.0 861.5L814.8 861.6L815.5 863.9L816.3 865.2L817.0 866.5L817.8 867.7L818.5 868.8L819.3 869.4L820.0 870.7L820.8 868.8L821.5 866.6L822.3 867.2L823.0 865.1L823.8 862.9L824.5 860.1L825.3 859.8L826.0 856.3L826.8 855.3L827.5 856.3L828.3 859.9L829.0 864.1L829.8 868.3L830.5 873.1L831.3 876.9L832.0 881.6L832.8 887.0L833.5 890.9L834.3 897.3L835.0 901.8L835.8 905.9L836.5 908.8L837.3 910.9L838.0 907.5L838.8 905.4L839.5 901.9L840.3 899.1L841.0 893.3L841.8 891.0L842.5 886.2L843.3 882.4L844.0 878.2L844.8 875.4L845.5 870.1L846.3 867.7L847.0 865.0L847.8 862.6L848.5 864.8L849.3 872.1L850.0 876.7L850.8 886.2L851.5 891.4L852.3 901.0L853.0 908.5L853.8 916.4L854.5 919.9L855.3 919.0L856.0 915.5L856.8 912.5L857.5 909.2L858.3 906.9L859.0 903.2L859.8 899.8L860.5 895.5L861.3 891.6L862.0 887.9L862.8 885.3L863.5 880.4L864.3 876.7L865.0 874.7L865.8 875.5L866.5 879.5L867.3 882.0L868.0 887.5L868.8 890.7L869.5 893.1L870.3 898.5L871.0 897.6L871.8 895.1L872.5 891.8L873.3 888.1L874.0 887.0L874.8 883.0L875.5 879.9L876.3 875.1L877.0 872.1L877.8 869.6L878.5 865.7L879.3 862.3L880.0 859.7L880.8 856.4L881.5 853.3L882.3 853.7L883.0 854.9L883.8 854.2L884.5 857.3L885.3 859.0L886.0 860.7L886.8 860.1L887.5 863.1L888.3 869.2L889.0 873.3L889.8 882.8L890.5 889.1L891.3 895.0L892.0 902.1L892.8 905.3L893.5 908.1L894.3 908.7L895.0 907.8L895.8 908.1L896.5 908.0L897.3 907.3L898.0 906.5L898.8 909.1L899.5 905.1L900.3 901.3L901.0 895.9L901.8 890.0L902.5 885.0L903.3 877.2L904.0 873.1L904.8 866.2L905.5 860.4L906.3 856.7L907.0 852.5L907.8 852.4L908.5 853.6L909.3 859.0L910.0 859.0L910.8 863.1L911.5 868.4L912.3 868.7L913.0 868.5L913.8 871.6L914.5 877.7L915.3 882.8L916.0 887.9L916.8 895.5L917.5 901.6L918.3 905.5L919.0 909.8L919.8 911.7L920.5 910.0L921.3 910.3L922.0 907.1L922.8 905.4L923.5 903.1L924.3 901.5L925.0 899.9L925.8 897.5L926.5 896.7L927.3 893.9L928.0 891.4L928.8 889.3L929.5 886.3L930.3 881.1L931.0 878.1L931.8 873.8L932.5 869.2L933.3 864.5L934.0 859.7L934.8 858.0L935.5 850.7L936.3 849.3L937.0 847.1L937.8 846.1L938.5 847.1L939.3 846.5L940.0 849.6L940.8 849.7L941.5 851.4L942.3 851.9L943.0 852.3L943.8 854.1L944.5 853.4L945.3 856.7L946.0 859.0L946.8 861.4L947.5 867.3L948.3 870.7L949.0 872.5L949.8 875.3L950.5 871.3L951.3 873.7L952.0 870.9L952.8 869.5L953.5 867.2L954.3 868.5L955.0 876.3L955.8 883.2L956.5 891.8L957.3 899.2L958.0 905.1L958.8 909.0L959.5 902.8L960.3 897.2L961.0 891.1L961.8 883.0L962.5 873.8L963.3 864.2L964.0 865.9L964.8 865.8L965.5 870.2L966.3 872.6L967.0 877.2L967.8 880.9L968.5 885.9L969.3 889.5L970.0 892.6L970.8 898.8L971.5 902.2L972.3 906.8L973.0 909.3L973.8 914.6L974.5 916.8L975.3 919.6L976.0 919.5L976.8 917.5L977.5 912.4L978.3 907.2L979.0 900.7L979.8 892.1L980.5 886.9L981.3 880.6L982.0 873.9L982.8 869.3L983.5 862.3L984.3 857.2L985.0 853.5L985.8 857.0L986.5 858.6L987.3 863.3L988.0 868.1L988.8 871.3L989.5 872.5L990.3 876.4L991.0 876.9L991.8 872.3L992.5 868.1L993.3 865.2L994.0 861.5L994.8 858.7L995.5 858.7L996.3 860.5L997.0 860.2L997.8 863.3L998.5 863.9L999.3 862.3L1000.0 860.5L1000.8 858.2L1001.5 855.9L1002.3 854.1L1003.0 852.6L1003.8 854.2L1004.5 861.8L1005.3 866.3L1006.0 874.4L1006.8 883.6L1007.5 891.0L1008.3 899.8L1009.0 906.4L1009.8 911.0L1010.5 912.3L1011.3 910.2L1012.0 908.4L1012.8 905.9L1013.5 902.7L1014.3 899.7L1015.0 895.4L1015.8 892.5L1016.5 889.0L1017.3 887.3L1018.0 884.1L1018.8 883.5L1019.5 889.8L1020.3 896.1L1021.0 901.1L1021.8 907.2L1022.5 910.9L1023.3 911.5L1024.0 909.4L1024.8 906.4L1025.5 903.7L1026.3 903.3L1027.0 900.7L1027.8 897.1L1028.5 894.0L1029.3 891.2L1030.0 888.1L1030.8 883.0L1031.5 880.2L1032.3 879.3L1033.0 876.3L1033.8 874.2L1034.5 868.7L1035.3 867.6L1036.0 867.1L1036.8 863.8L1037.5 865.3L1038.3 868.9L1039.0 872.5L1039.8 876.3L1040.5 880.9L1041.3 887.2L1042.0 893.1L1042.8 896.8L1043.5 900.4L1044.3 903.8L1045.0 908.2L1045.8 913.3L1046.5 917.2L1047.3 911.6L1048.0 907.1L1048.8 899.7L1049.5 893.6L1050.3 886.5L1051.0 879.8L1051.8 874.1L1052.5 867.2L1053.3 859.3L1054.0 858.0L1054.8 857.9L1055.5 856.4L1056.3 857.2L1057.0 858.9L1057.8 859.1L1058.5 861.9L1059.3 862.2L1060.0 864.5L1060.8 864.9L1061.5 867.2L1062.3 873.8L1063.0 881.8L1063.8 889.1L1064.5 894.7L1065.3 899.6L1066.0 896.8L1066.8 892.0L1067.5 891.0L1068.3 888.6L1069.0 888.6L1069.8 891.1L1070.5 891.7L1071.3 895.4L1072.0 896.0L1072.8 900.2L1073.5 903.3L1074.3 906.4L1075.0 908.0L1075.8 911.4L1076.5 912.5L1077.3 913.6L1078.0 911.9L1078.8 911.7L1079.5 907.3L1080.3 906.6L1081.0 905.7L1081.8 905.5L1082.5 904.7L1083.3 902.4L1084.0 898.9L1084.8 896.0L1085.5 889.9L1086.3 885.4L1087.0 883.2L1087.8 876.5L1088.5 877.1L1089.3 882.7L1090.0 884.7L1090.8 889.8L1091.5 895.4L1092.3 900.2L1093.0 903.4L1093.8 906.6L1094.5 909.0L1095.3 907.2L1096.0 907.8L1096.8 905.4L1097.5 902.2L1098.3 899.9L1099.0 900.0L1099.8 897.9L1100.5 894.0L1101.3 895.3L1102.0 889.5L1102.8 890.0L1103.5 892.9L1104.3 894.2L1105.0 898.1L1105.8 902.4L1106.5 905.1L1107.3 908.6L1108.0 912.4L1108.8 911.6L1109.5 907.4L1110.3 902.2L1111.0 897.7L1111.8 889.9L1112.5 883.3L1113.3 877.0L1114.0 872.1L1114.8 867.2L1115.5 864.9L1116.3 870.9L1117.0 877.5L1117.8 882.7L1118.5 889.0L1119.3 895.7L1120.0 900.7L1120.8 900.6L1121.5 898.8L1122.3 892.0L1123.0 888.1L1123.8 885.0L1124.5 879.9L1125.3 878.1L1126.0 881.2L1126.8 882.8L1127.5 888.1L1128.3 893.6L1129.0 898.6L1129.8 902.9L1130.5 907.9L1131.3 911.0L1132.0 915.8L1132.8 919.4L1133.5 916.4L1134.3 912.1L1135.0 905.4L1135.8 899.7L1136.5 892.9L1137.3 886.6L1138.0 881.9L1138.8 873.5L1139.5 868.5L1140.3 864.9L1141.0 859.2L1141.8 859.1L1142.5 857.3L1143.3 857.3L1144.0 858.3L1144.8 856.8L1145.5 857.7L1146.3 857.9L1147.0 859.1L1147.8 859.1L1148.5 859.8L1149.3 859.2L1150.0 856.9L1150.8 854.2L1151.5 851.1L1152.3 852.1L1153.0 853.0L1153.8 855.4L1154.5 861.1L1155.3 863.0L1156.0 868.8L1156.8 872.2L1157.5 874.8L1158.3 879.7L1159.0 881.8L1159.8 885.6L1160.5 888.0L1161.3 886.3L1162.0 885.9L1162.8 882.6L1163.5 881.3L1164.3 878.5L1165.0 876.5L1165.8 876.1L1166.5 876.1L1167.3 872.6L1168.0 870.2L1168.8 866.6L1169.5 863.4L1170.3 860.8L1171.0 857.7L1171.8 853.3L1172.5 853.1L1173.3 854.8L1174.0 860.0L1174.8 863.2L1175.5 867.3L1176.3 873.0L1177.0 876.6L1177.8 882.4L1178.5 886.4L1179.3 890.2L1180.0 893.5L1180.8 898.2L1181.5 897.5L1182.3 895.1L1183.0 888.6L1183.8 881.9L1184.5 876.6L1185.3 870.9L1186.0 866.0L1186.8 868.6L1187.5 871.7L1188.3 875.1L1189.0 876.9L1189.8 882.6L1190.5 887.0L1191.3 892.0L1192.0 892.3L1192.8 896.2L1193.5 896.8L1194.3 891.6L1195.0 888.6L1195.8 885.3L1196.5 881.7L1197.3 876.3L1198.0 872.8L1198.8 870.2L1199.5 866.6L1200.3 863.4L1201.0 866.4L1201.8 868.8L1202.5 875.1L1203.3 879.5L1204.0 887.1L1204.8 893.2L1205.5 898.3L1206.3 905.5L1207.0 910.4L1207.8 917.4L1208.5 919.6L1209.3 916.4L1210.0 912.6L1210.8 908.7L1211.5 902.9L1212.3 896.9L1213.0 892.6L1213.8 885.4L1214.5 881.0L1215.3 873.6L1216.0 868.8L1216.8 862.9L1217.5 858.1L1218.3 855.0L1219.0 851.4L1219.8 847.7L1220.5 848.1L1221.3 846.8L1222.0 849.9L1222.8 847.6L1223.5 848.3L1224.3 848.5L1225.0 850.4L1225.8 848.2L1226.5 848.4L1227.3 848.2L1228.0 850.7L1228.8 850.6L1229.5 851.8L1230.3 852.0L1231.0 853.8L1231.8 855.0L1232.5 856.8L1233.3 855.3L1234.0 858.7L1234.8 857.8L1235.5 857.9L1236.3 857.5L1237.0 856.1L1237.8 855.7L1238.5 855.0L1239.3 853.0L1240.0 852.6L1240.8 850.2L1241.5 851.5L1242.3 853.9L1243.0 861.7L1243.8 868.7L1244.5 875.9L1245.3 883.3L1246.0 890.2L1246.8 896.9L1247.5 901.4L1248.3 905.8L1249.0 903.3L1249.8 897.8L1250.5 893.5L1251.3 891.8L1252.0 885.3L1252.8 880.9L1253.5 878.4L1254.3 875.4L1255.0 875.7L1255.8 878.3L1256.5 882.9L1257.3 889.7L1258.0 896.1L1258.8 898.8L1259.5 895.9L1260.3 891.8L1261.0 885.9L1261.8 881.6L1262.5 880.4L1263.3 884.5L1264.0 891.5L1264.8 898.5L1265.5 905.5L1266.3 910.8L1267.0 916.4L1267.8 915.5L1268.5 913.0L1269.3 908.7L1270.0 906.9L1270.8 901.9L1271.5 897.4L1272.3 894.1L1273.0 891.1L1273.8 886.6L1274.5 882.6L1275.3 884.0L1276.0 885.1L1276.8 886.1L1277.5 887.0L1278.3 888.5L1279.0 890.9L1279.8 891.7L1280.5 892.4L1281.3 893.5L1282.0 895.8L1282.8 898.1L1283.5 898.2L1284.3 902.2L1285.0 905.3L1285.8 907.4L1286.5 907.6L1287.3 904.0L1288.0 897.8L1288.8 889.4L1289.5 878.5L1290.3 870.9L1291.0 861.5L1291.8 855.1L1292.5 849.5L1293.3 851.3L1294.0 853.1L1294.8 852.2L1295.5 854.9L1296.3 857.5L1297.0 861.2L1297.8 860.2L1298.5 860.9L1299.3 864.2L1300.0 865.1L1300.8 868.5L1301.5 874.5L1302.3 879.3L1303.0 884.7L1303.8 890.3L1304.5 896.4L1305.3 899.4L1306.0 906.2L1306.8 910.3L1307.5 913.4L1308.3 913.9L1309.0 912.7L1309.8 910.6L1310.5 907.9L1311.3 905.2L1312.0 904.3L1312.8 899.3L1313.5 895.5L1314.3 897.1L1315.0 896.7L1315.8 898.1L1316.5 894.0L1317.3 893.0L1318.0 894.8L1318.8 891.7L1319.5 891.8L1320.3 891.1L1321.0 895.4L1321.8 897.2L1322.5 898.0L1323.3 901.9L1324.0 903.8L1324.8 907.6L1325.5 905.4L1326.3 903.2L1327.0 895.9L1327.8 890.9L1328.5 885.3L1329.3 881.2L1330.0 874.5L1330.8 869.1L1331.5 863.4L1332.3 859.6L1333.0 854.9L1333.8 852.3L1334.5 853.6L1335.3 856.9L1336.0 861.1L1336.8 864.0L1337.5 867.6L1338.3 872.0L1339.0 877.0L1339.8 882.1L1340.5 885.5L1341.3 890.5L1342.0 895.3L1342.8 898.5L1343.5 902.8L1344.3 904.8L1345.0 909.8L1345.8 910.7L1346.5 910.0L1347.3 909.5L1348.0 907.7L1348.8 906.3L1349.5 902.9L1350.3 899.6L1351.0 894.5L1351.8 893.6L1352.5 889.0L1353.3 887.5L1354.0 884.1L1354.8 881.2L1355.5 881.2L1356.3 877.5L1357.0 876.3L1357.8 878.1L1358.5 878.8L1359.3 881.4L1360.0 884.8L1360.8 885.0L1361.5 888.6L1362.3 892.0L1363.0 895.5L1363.8 897.0L1364.5 898.8L1365.3 903.0L1366.0 905.5L1366.8 908.5L1367.5 910.1L1368.3 910.9L1369.0 909.6L1369.8 908.3L1370.5 903.1L1371.3 898.5L1372.0 895.0L1372.8 891.5L1373.5 890.1L1374.3 885.2L1375.0 885.1L1375.8 882.9L1376.5 880.7L1377.3 879.1L1378.0 873.5L1378.8 872.3L1379.5 867.2L1380.3 864.5L1381.0 860.7L1381.8 858.3L1382.5 855.9L1383.3 852.4L1384.0 855.5L1384.8 860.8L1385.5 864.0L1386.3 870.1L1387.0 877.4L1387.8 884.0L1388.5 892.4L1389.3 898.2L1390.0 903.6L1390.8 905.4L1391.5 906.3L1392.3 903.4L1393.0 899.7L1393.8 896.6L1394.5 888.8L1395.3 882.4L1396.0 879.0L1396.8 873.7L1397.5 868.2L1398.3 864.7L1399.0 859.5L1399.8 858.0L1400.5 861.0L1401.3 866.4L1402.0 871.6L1402.8 876.5L1403.5 882.0L1404.3 889.8L1405.0 894.2L1405.8 900.0L1406.5 897.7L1407.3 896.3L1408.0 895.4L1408.8 894.7L1409.5 899.3L1410.3 901.5L1411.0 905.5L1411.8 900.0L1412.5 892.9L1413.3 883.6L1414.0 875.7L1414.8 865.9L1415.5 857.0L1416.3 849.8L1417.0 851.0L1417.8 853.0L1418.5 855.6L1419.3 857.7L1420.0 861.9L1420.8 864.6L1421.5 867.5L1422.3 871.6L1423.0 873.6L1423.8 873.3L1424.5 873.8L1425.3 872.9L1426.0 870.7L1426.8 866.9L1427.5 862.8L1428.3 861.5L1429.0 857.6L1429.8 857.5L1430.5 856.3L1431.3 854.7L1432.0 855.5L1432.8 854.4L1433.5 856.7L1434.3 856.5L1435.0 858.3L1435.8 861.2L1436.5 864.4L1437.3 868.6L1438.0 872.0L1438.8 876.7L1439.5 877.7L1440.3 881.8L1441.0 880.9L1441.8 884.7L1442.5 888.2L1443.3 890.5L1444.0 893.5L1444.8 895.3L1445.5 898.8L1446.3 900.5L1447.0 900.5L1447.8 900.8L1448.5 901.9L1449.3 902.7L1450.0 900.1L1450.8 899.7L1451.5 900.0L1452.3 895.6L1453.0 888.2L1453.8 880.4L1454.5 876.5L1455.3 873.0L1456.0 876.3L1456.8 879.8L1457.5 887.6L1458.3 895.4L1459.0 900.4L1459.8 906.8L1460.5 911.6L1461.3 908.9L1462.0 906.3L1462.8 902.3L1463.5 900.3L1464.3 894.6L1465.0 888.0L1465.8 884.3L1466.5 880.7L1467.3 879.9L1468.0 875.4L1468.8 876.3L1469.5 879.5L1470.3 882.9L1471.0 890.1L1471.8 895.5L1472.5 898.1L1473.3 898.9L1474.0 898.2L1474.8 894.6L1475.5 894.6L1476.3 893.9L1477.0 893.5L1477.8 894.1L1478.5 896.3L1479.3 900.3L1480.0 900.5L1480.8 905.0L1481.5 904.9L1482.3 907.0L1483.0 904.6L1483.8 902.5L1484.5 899.2L1485.3 896.5L1486.0 892.3L1486.8 890.8L1487.5 887.8L1488.3 884.0L1489.0 885.4L1489.8 887.8L1490.5 890.8L1491.3 894.4L1492.0 898.7L1492.8 902.7L1493.5 906.4L1494.3 908.0L1495.0 912.8L1495.8 914.7L1496.5 915.0L1497.3 913.7L1498.0 916.4L1498.8 912.0L1499.5 912.6L1500.3 911.3L1501.0 912.5L1501.8 910.9L1502.5 912.4L1503.3 913.4L1504.0 913.2L1504.8 909.5L1505.5 907.1L1506.3 902.4L1507.0 897.0L1507.8 893.3L1508.5 885.9L1509.3 883.9L1510.0 879.2L1510.8 875.4L1511.5 871.5L1512.3 866.1L1513.0 866.5L1513.8 868.4L1514.5 872.5L1515.3 877.5L1516.0 881.5L1516.8 885.4L1517.5 890.8L1518.3 896.7L1519.0 901.9L1519.8 903.9L1520.5 908.6L1521.3 910.1L1522.0 910.5L1522.8 909.0L1523.5 906.3L1524.3 902.2L1525.0 899.5L1525.8 898.7L1526.5 893.6L1527.3 892.0L1528.0 889.8L1528.8 887.7L1529.5 885.5L1530.3 881.7L1531.0 878.4L1531.8 873.7L1532.5 867.7L1533.3 862.9L1534.0 859.2L1534.8 855.4L1535.5 853.3L1536.3 851.6L1537.0 852.0L1537.8 852.2L1538.5 851.2L1539.3 854.7L1540.0 856.6L1540.8 858.4L1541.5 859.2L1542.3 862.7L1543.0 864.0L1543.8 861.9L1544.5 862.0L1545.3 860.1L1546.0 857.3L1546.8 856.8L1547.5 853.9L1548.3 855.1L1549.0 855.9L1549.8 857.4L1550.5 861.3L1551.3 860.7L1552.0 863.1L1552.8 866.4L1553.5 867.9L1554.3 870.2L1555.0 870.3L1555.8 873.6L1556.5 873.0L1557.3 872.3L1558.0 872.1L1558.8 872.9L1559.5 872.1L1560.3 872.6L1561.0 873.9L1561.8 880.4L1562.5 885.8L1563.3 891.4L1564.0 898.0L1564.8 898.7L1565.5 897.5L1566.3 891.8L1567.0 888.9L1567.8 885.4L1568.5 877.8L1569.3 874.2L1570.0 874.2L1570.8 878.3L1571.5 880.4L1572.3 887.0L1573.0 890.8L1573.8 893.8L1574.5 899.0L1575.3 901.6L1576.0 906.9L1576.8 909.7L1577.5 908.4L1578.3 904.6L1579.0 901.6L1579.8 896.1L1580.5 893.6L1581.3 886.5L1582.0 882.0L1582.8 875.1L1583.5 872.8L1584.3 870.5L1585.0 866.3L1585.8 861.4L1586.5 861.4L1587.3 857.1L1588.0 856.3L1588.8 852.5L1589.5 852.3L1590.3 850.2L1591.0 850.0L1591.8 847.6L1592.5 848.6L1593.3 848.3L1594.0 848.3L1594.8 847.0L1595.5 848.4L1596.3 851.3L1597.0 849.7L1597.8 852.5L1598.5 852.0L1599.3 855.7L1600.0 856.9L1600.8 857.6L1601.5 859.4L1602.3 859.1L1603.0 861.8L1603.8 863.8L1604.5 869.0L1605.3 874.0L1606.0 882.3L1606.8 889.3L1607.5 894.5L1608.3 898.8L1609.0 894.2L1609.8 887.1L1610.5 876.9L1611.3 869.9L1612.0 861.0L1612.8 852.5L1613.5 851.8L1614.3 850.1L1615.0 855.9L1615.8 861.5L1616.5 864.5L1617.3 868.8L1618.0 873.2L1618.8 876.6L1619.5 880.8L1620.3 882.5L1621.0 880.6L1621.8 876.8L1622.5 873.2L1623.3 870.2L1624.0 869.2L1624.8 871.3L1625.5 874.2L1626.3 878.0L1627.0 881.0L1627.8 888.5L1628.5 890.6L1629.3 896.5L1630.0 899.6L1630.8 904.3L1631.5 908.4L1632.3 907.4L1633.0 902.6L1633.8 900.0L1634.5 894.2L1635.3 888.7L1636.0 883.8L1636.8 878.5L1637.5 875.1L1638.3 871.3L1639.0 867.7L1639.8 868.2L1640.5 875.7L1641.3 883.7L1642.0 889.9L1642.8 898.6L1643.5 905.9L1644.3 911.0L1645.0 916.2L1645.8 913.8L1646.5 908.6L1647.3 904.5L1648.0 896.2L1648.8 889.8L1649.5 884.1L1650.3 876.2L1651.0 868.7L1651.8 863.5L1652.5 859.8L1653.3 858.6L1654.0 864.2L1654.8 865.7L1655.5 874.2L1656.3 883.0L1657.0 888.4L1657.8 897.3L1658.5 903.1L1659.3 909.4L1660.0 913.7L1660.8 912.0L1661.5 911.3L1662.3 908.4L1663.0 905.7L1663.8 903.4L1664.5 899.5L1665.3 896.7L1666.0 893.4L1666.8 892.5L1667.5 890.0L1668.3 887.3L1669.0 886.6L1669.8 890.6L1670.5 892.3L1671.3 897.4L1672.0 903.3L1672.8 906.4L1673.5 911.2L1674.3 913.5L1675.0 909.6L1675.8 907.8L1676.5 903.4L1677.3 901.7L1678.0 897.4L1678.8 897.8L1679.5 899.1L1680.3 902.7L1681.0 903.9L1681.8 905.6L1682.5 909.5L1683.3 910.2L1684.0 912.9L1684.8 916.4L1685.5 915.5L1686.3 912.0L1687.0 909.9L1687.8 904.4L1688.5 902.0L1689.3 898.3L1690.0 893.6L1690.8 890.5L1691.5 885.7L1692.3 879.3L1693.0 875.5L1693.8 870.7L1694.5 866.8L1695.3 865.6L1696.0 862.8L1696.8 857.2L1697.5 862.7L1698.3 865.4L1699.0 870.8L1699.8 876.8L1700.5 883.0L1701.3 888.8L1702.0 897.3L1702.8 902.2L1703.5 907.1L1704.3 913.3L1705.0 916.1L1705.8 915.6L1706.5 912.7L1707.3 909.0L1708.0 905.5L1708.8 901.6L1709.5 900.5L1710.3 895.4L1711.0 891.5L1711.8 884.4L1712.5 881.0L1713.3 878.3L1714.0 872.8L1714.8 868.6L1715.5 866.9L1716.3 863.7L1717.0 860.6L1717.8 855.4L1718.5 859.4L1719.3 863.5L1720.0 867.0L1720.8 871.9L1721.5 876.4L1722.3 877.7L1723.0 875.1L1723.8 871.9L1724.5 868.7L1725.3 865.4L1726.0 864.9L1726.8 867.3L1727.5 876.8L1728.3 885.5L1729.0 893.7L1729.8 902.5L1730.5 910.3L1731.3 913.0L1732.0 912.2L1732.8 912.1L1733.5 911.1L1734.3 910.2L1735.0 909.3L1735.8 907.8L1736.5 911.7L1737.3 913.9L1738.0 916.0L1738.8 918.0L1739.5 919.0L1740.3 916.5L1741.0 916.5L1741.8 914.9L1742.5 910.9L1743.3 909.8L1744.0 908.0L1744.8 906.9L1745.5 905.7L1746.3 905.8L1747.0 900.9L1747.8 898.3L1748.5 893.9L1749.3 891.5L1750.0 888.8L1750.8 889.1L1751.5 893.2L1752.3 899.6L1753.0 901.6L1753.8 902.5L1754.5 897.3L1755.3 893.9L1756.0 885.1L1756.8 882.7L1757.5 878.2L1758.3 874.6L1759.0 873.0L1759.8 871.9L1760.5 875.7L1761.3 875.7"/><path stroke="#f00" fill="none" stroke-linejoin="round" d="M17.5 900.7L18.3 899.4L19.0 898.3L19.8 898.2L20.5 899.0L21.3 900.2L22.0 901.7L22.8 903.5L23.5 905.5L24.3 907.5L25.0 908.7L25.8 909.2L26.5 908.7L27.3 907.5L28.0 905.4L28.8 902.8L29.5 900.2L30.3 897.9L31.0 895.2L31.8 892.4L32.5 889.3L33.3 886.3L34.0 883.8L34.8 881.1L35.5 878.6L36.3 876.2L37.0 874.0L37.8 872.9L38.5 872.9L39.3 873.7L40.0 876.0L40.8 879.5L41.5 884.2L42.3 889.6L43.0 895.1L43.8 900.7L44.5 905.0L45.3 908.0L46.0 909.4L46.8 909.8L47.5 908.8L48.3 906.7L49.0 903.5L49.8 900.9L50.5 899.0L51.3 897.8L52.0 897.6L52.8 898.1L53.5 899.3L54.3 901.2L55.0 902.7L55.8 903.7L56.5 904.0L57.3 903.4L58.0 902.2L58.8 900.3L59.5 897.8L60.3 894.8L61.0 891.5L61.8 888.4L62.5 885.0L63.3 881.5L64.0 878.0L64.8 874.6L65.5 871.0L66.3 867.5L67.0 864.2L67.8 861.0L68.5 858.5L69.3 856.4L70.0 855.6L70.8 856.5L71.5 859.0L72.3 862.4L73.0 867.5L73.8 873.4L74.5 880.2L75.3 886.6L76.0 892.3L76.8 896.1L77.5 899.0L78.3 899.8L79.0 898.9L79.8 897.1L80.5 893.7L81.3 889.6L82.0 885.6L82.8 881.1L83.5 877.2L84.3 873.3L85.0 870.2L85.8 868.4L86.5 867.9L87.3 868.8L88.0 870.8L88.8 874.2L89.5 878.9L90.3 883.8L91.0 889.0L91.8 893.9L92.5 898.4L93.3 902.1L94.0 904.1L94.8 904.9L95.5 904.2L96.3 902.4L97.0 899.0L97.8 894.2L98.5 889.2L99.3 884.0L100.0 879.0L100.8 874.0L101.5 869.5L102.3 866.6L103.0 864.9L103.8 864.2L104.5 864.6L105.3 866.2L106.0 868.8L106.8 872.0L107.5 875.4L108.3 879.0L109.0 882.5L109.8 886.4L110.5 890.1L111.3 894.0L112.0 897.6L112.8 901.1L113.5 904.2L114.3 907.4L115.0 909.8L115.8 911.5L116.5 912.6L117.3 913.0L118.0 912.8L118.8 912.0L119.5 910.7L120.3 909.1L121.0 907.4L121.8 905.7L122.5 903.9L123.3 902.3L124.0 900.3L124.8 898.8L125.5 897.1L126.3 895.4L127.0 893.8L127.8 893.3L128.5 892.6L129.3 893.4L130.0 894.9L130.8 897.3L131.5 900.5L132.3 903.8L133.0 906.8L133.8 909.6L134.5 911.0L135.3 911.4L136.0 910.8L136.8 909.5L137.5 907.6L138.3 905.2L139.0 902.7L139.8 900.9L140.5 898.7L141.3 896.6L142.0 894.5L142.8 891.8L143.5 887.9L144.3 883.5L145.0 878.4L145.8 873.7L146.5 869.7L147.3 865.5L148.0 862.7L148.8 861.1L149.5 860.2L150.3 859.9L151.0 859.6L151.8 858.8L152.5 858.1L153.3 857.3L154.0 856.6L154.8 855.7L155.5 855.4L156.3 855.1L157.0 855.5L157.8 856.5L158.5 857.0L159.3 857.7L160.0 858.8L160.8 859.4L161.5 859.8L162.3 859.7L163.0 859.3L163.8 858.8L164.5 858.3L165.3 857.8L166.0 856.9L166.8 856.1L167.5 855.4L168.3 854.7L169.0 854.1L169.8 853.2L170.5 852.5L171.3 851.8L172.0 851.1L172.8 850.8L173.5 850.9L174.3 851.8L175.0 853.6L175.8 855.8L176.5 858.9L177.3 863.1L178.0 867.1L178.8 871.7L179.5 876.3L180.3 880.8L181.0 885.5L181.8 889.8L182.5 893.8L183.3 898.0L184.0 901.4L184.8 904.1L185.5 906.2L186.3 907.6L187.0 908.3L187.8 908.2L188.5 907.3L189.3 906.8L190.0 906.3L190.8 906.3L191.5 906.5L192.3 907.1L193.0 908.0L193.8 909.3L194.5 910.7L195.3 911.4L196.0 911.5L196.8 911.1L197.5 910.1L198.3 908.7L199.0 906.4L199.8 903.7L200.5 900.7L201.3 897.7L202.0 894.5L202.8 891.3L203.5 887.9L204.3 885.0L205.0 882.1L205.8 879.8L206.5 878.3L207.3 877.3L208.0 875.9L208.8 874.6L209.5 872.8L210.3 870.4L211.0 867.7L211.8 864.6L212.5 861.9L213.3 860.5L214.0 859.8L214.8 860.2L215.5 862.1L216.3 864.6L217.0 867.2L217.8 869.0L218.5 869.9L219.3 870.4L220.0 869.8L220.8 868.4L221.5 866.3L222.3 863.9L223.0 861.5L223.8 859.1L224.5 856.8L225.3 854.8L226.0 853.1L226.8 852.1L227.5 851.7L228.3 852.3L229.0 853.6L229.8 855.6L230.5 858.4L231.3 861.6L232.0 865.1L232.8 868.5L233.5 871.7L234.3 875.2L235.0 878.2L235.8 881.5L236.5 884.0L237.3 886.4L238.0 888.1L238.8 888.9L239.5 888.4L240.3 886.6L241.0 883.8L241.8 880.3L242.5 876.5L243.3 873.6L244.0 871.3L244.8 870.5L245.5 871.0L246.3 872.0L247.0 873.0L247.8 873.4L248.5 872.7L249.3 871.2L250.0 868.8L250.8 865.9L251.5 863.5L252.3 861.9L253.0 861.5L253.8 861.7L254.5 863.2L255.3 865.0L256.0 867.0L256.8 869.2L257.5 872.1L258.3 874.7L259.0 877.4L259.8 880.0L260.5 882.6L261.3 885.3L262.0 887.7L262.8 889.2L263.5 889.9L264.3 890.2L265.0 889.6L265.8 888.3L266.5 886.8L267.3 884.8L268.0 883.7L268.8 883.7L269.5 884.4L270.3 886.6L271.0 890.1L271.8 894.0L272.5 897.6L273.3 899.8L274.0 900.3L274.8 899.3L275.5 896.4L276.3 891.8L277.0 885.9L277.8 880.1L278.5 875.6L279.3 872.2L280.0 870.1L280.8 869.4L281.5 870.3L282.3 872.7L283.0 875.8L283.8 879.0L284.5 882.3L285.3 885.3L286.0 887.1L286.8 886.8L287.5 884.7L288.3 880.8L289.0 875.1L289.8 868.8L290.5 862.5L291.3 857.3L292.0 853.1L292.8 850.3L293.5 848.5L294.3 848.1L295.0 847.9L295.8 847.2L296.5 846.4L297.3 846.3L298.0 846.5L298.8 847.1L299.5 848.0L300.3 849.7L301.0 852.0L301.8 854.6L302.5 856.6L303.3 858.2L304.0 859.4L304.8 859.8L305.5 859.4L306.3 859.3L307.0 859.1L307.8 859.8L308.5 861.6L309.3 864.5L310.0 868.6L310.8 873.7L311.5 878.7L312.3 884.4L313.0 889.7L313.8 893.4L314.5 895.3L315.3 895.3L316.0 893.6L316.8 891.1L317.5 887.9L318.3 884.8L319.0 882.2L319.8 881.6L320.5 883.9L321.3 888.4L322.0 893.5L322.8 898.3L323.5 902.1L324.3 905.5L325.0 907.1L325.8 906.6L326.5 904.2L327.3 901.0L328.0 897.3L328.8 893.7L329.5 890.1L330.3 887.3L331.0 885.6L331.8 885.1L332.5 886.0L333.3 888.1L334.0 890.5L334.8 893.0L335.5 895.1L336.3 895.8L337.0 895.7L337.8 894.0L338.5 891.4L339.3 888.6L340.0 886.2L340.8 884.5L341.5 883.6L342.3 883.2L343.0 883.0L343.8 882.6L344.5 881.9L345.3 880.6L346.0 878.2L346.8 875.2L347.5 871.5L348.3 868.4L349.0 866.5L349.8 865.8L350.5 865.8L351.3 866.4L352.0 867.0L352.8 867.9L353.5 868.0L354.3 867.4L355.0 866.4L355.8 865.7L356.5 865.9L357.3 866.7L358.0 868.8L358.8 872.1L359.5 876.3L360.3 881.0L361.0 885.5L361.8 888.3L362.5 890.0L363.3 889.6L364.0 886.7L364.8 882.2L365.5 876.1L366.3 869.2L367.0 863.6L367.8 858.7L368.5 854.6L369.3 852.3L370.0 850.9L370.8 850.6L371.5 851.0L372.3 851.6L373.0 851.7L373.8 852.7L374.5 853.4L375.3 853.6L376.0 854.6L376.8 855.4L377.5 856.5L378.3 858.5L379.0 860.7L379.8 863.1L380.5 866.2L381.3 868.1L382.0 869.4L382.8 869.6L383.5 869.1L384.3 868.2L385.0 867.6L385.8 867.5L386.5 868.4L387.3 870.4L388.0 873.4L388.8 877.0L389.5 880.0L390.3 882.6L391.0 883.7L391.8 883.4L392.5 881.7L393.3 879.0L394.0 875.5L394.8 872.4L395.5 870.2L396.3 869.0L397.0 869.6L397.8 871.7L398.5 874.8L399.3 877.7L400.0 879.8L400.8 880.1L401.5 878.6L402.3 875.6L403.0 871.2L403.8 866.0L404.5 861.5L405.3 857.6L406.0 854.7L406.8 853.2L407.5 852.1L408.3 852.3L409.0 852.9L409.8 853.7L410.5 854.9L411.3 856.7L412.0 859.1L412.8 861.8L413.5 864.0L414.3 865.7L415.0 866.6L415.8 866.3L416.5 865.4L417.3 864.6L418.0 863.9L418.8 863.4L419.5 864.2L420.3 865.8L421.0 868.5L421.8 871.4L422.5 873.3L423.3 874.4L424.0 874.8L424.8 873.7L425.5 872.0L426.3 869.4L427.0 866.2L427.8 863.1L428.5 859.9L429.3 857.0L430.0 854.7L430.8 853.0L431.5 851.8L432.3 850.8L433.0 850.5L433.8 851.0L434.5 851.7L435.3 852.6L436.0 853.0L436.8 853.7L437.5 854.4L438.3 854.8L439.0 855.2L439.8 856.3L440.5 858.0L441.3 860.5L442.0 863.8L442.8 868.2L443.5 873.4L444.3 879.4L445.0 885.4L445.8 891.1L446.5 896.2L447.3 899.6L448.0 901.2L448.8 901.1L449.5 899.0L450.3 895.5L451.0 890.1L451.8 884.0L452.5 877.7L453.3 871.5L454.0 866.2L454.8 862.3L455.5 859.3L456.3 857.8L457.0 857.5L457.8 858.5L458.5 860.9L459.3 864.2L460.0 868.0L460.8 872.5L461.5 877.7L462.3 883.2L463.0 889.2L463.8 895.0L464.5 900.2L465.3 903.8L466.0 905.4L466.8 904.3L467.5 901.4L468.3 895.7L469.0 888.2L469.8 879.3L470.5 870.3L471.3 862.9L472.0 857.2L472.8 852.9L473.5 850.9L474.3 850.6L475.0 851.5L475.8 853.0L476.5 854.3L477.3 855.0L478.0 854.8L478.8 854.4L479.5 853.8L480.3 853.6L481.0 854.3L481.8 855.4L482.5 858.0L483.3 861.8L484.0 865.8L484.8 869.4L485.5 872.1L486.3 873.5L487.0 873.6L487.8 872.0L488.5 869.3L489.3 865.4L490.0 860.9L490.8 857.1L491.5 853.5L492.3 850.9L493.0 849.2L493.8 847.9L494.5 847.7L495.3 848.2L496.0 848.3L496.8 848.9L497.5 849.7L498.3 851.1L499.0 853.3L499.8 856.2L500.5 860.2L501.3 865.5L502.0 871.2L502.8 877.6L503.5 883.9L504.3 890.2L505.0 895.5L505.8 899.5L506.5 901.8L507.3 903.2L508.0 903.3L508.8 902.0L509.5 899.5L510.3 896.7L511.0 893.6L511.8 890.4L512.5 886.9L513.3 883.5L514.0 880.4L514.8 877.6L515.5 874.8L516.3 873.2L517.0 872.6L517.8 872.7L518.5 873.7L519.3 875.3L520.0 877.7L520.8 881.3L521.5 884.5L522.3 888.0L523.0 891.7L523.8 895.5L524.5 899.4L525.3 903.5L526.0 906.9L526.8 910.0L527.5 912.3L528.3 913.7L529.0 913.8L529.8 912.9L530.5 910.5L531.3 907.7L532.0 903.7L532.8 898.8L533.5 894.0L534.3 889.4L535.0 884.4L535.8 879.5L536.5 874.9L537.3 871.3L538.0 869.2L538.8 868.0L539.5 868.0L540.3 869.6L541.0 872.9L541.8 877.0L542.5 882.2L543.3 888.0L544.0 893.9L544.8 899.6L545.5 904.9L546.3 908.7L547.0 910.9L547.8 911.5L548.5 910.2L549.3 907.1L550.0 902.5L550.8 896.4L551.5 890.0L552.3 883.7L553.0 877.0L553.8 870.8L554.5 865.4L555.3 861.1L556.0 857.5L556.8 855.1L557.5 853.2L558.3 852.4L559.0 851.7L559.8 851.2L560.5 850.0L561.3 849.4L562.0 848.5L562.8 847.8L563.5 847.3L564.3 847.6L565.0 847.7L565.8 848.5L566.5 849.5L567.3 850.7L568.0 852.5L568.8 854.6L569.5 857.0L570.3 860.2L571.0 863.2L571.8 865.9L572.5 868.4L573.3 870.5L574.0 871.8L574.8 872.6L575.5 872.3L576.3 871.3L577.0 869.7L577.8 867.6L578.5 864.8L579.3 862.0L580.0 858.9L580.8 856.9L581.5 856.6L582.3 857.9L583.0 861.2L583.8 866.0L584.5 872.1L585.3 878.8L586.0 885.2L586.8 890.6L587.5 894.4L588.3 896.9L589.0 898.2L589.8 898.1L590.5 897.7L591.3 897.4L592.0 897.2L592.8 897.7L593.5 898.7L594.3 899.6L595.0 901.1L595.8 902.1L596.5 903.0L597.3 903.4L598.0 903.6L598.8 902.5L599.5 900.7L600.3 897.3L601.0 893.0L601.8 887.3L602.5 880.6L603.3 872.9L604.0 865.7L604.8 859.5L605.5 854.4L606.3 850.9L607.0 848.9L607.8 848.4L608.5 848.9L609.3 850.0L610.0 851.3L610.8 852.5L611.5 853.7L612.3 854.1L613.0 854.2L613.8 854.5L614.5 855.3L615.3 856.1L616.0 857.0L616.8 858.5L617.5 860.7L618.3 862.6L619.0 864.0L619.8 864.9L620.5 864.9L621.3 864.4L622.0 862.7L622.8 860.5L623.5 858.7L624.3 857.1L625.0 855.4L625.8 854.4L626.5 854.0L627.3 854.0L628.0 854.4L628.8 854.5L629.5 854.8L630.3 856.0L631.0 857.7L631.8 860.9L632.5 865.1L633.3 870.4L634.0 877.1L634.8 884.7L635.5 891.8L636.3 897.7L637.0 901.5L637.8 903.7L638.5 903.9L639.3 902.2L640.0 899.2L640.8 895.3L641.5 891.0L642.3 886.9L643.0 882.8L643.8 879.0L644.5 876.3L645.3 873.9L646.0 873.0L646.8 873.2L647.5 874.5L648.3 876.5L649.0 880.1L649.8 883.7L650.5 887.6L651.3 891.2L652.0 895.0L652.8 898.7L653.5 902.2L654.3 904.2L655.0 905.2L655.8 905.3L656.5 904.7L657.3 902.3L658.0 898.9L658.8 895.3L659.5 891.1L660.3 887.1L661.0 882.5L661.8 878.5L662.5 876.4L663.3 875.8L664.0 876.6L664.8 879.3L665.5 883.5L666.3 889.6L667.0 896.1L667.8 901.4L668.5 906.1L669.3 909.6L670.0 912.0L670.8 913.5L671.5 913.8L672.3 913.4L673.0 913.2L673.8 912.1L674.5 910.9L675.3 909.2L676.0 907.2L676.8 904.8L677.5 902.6L678.3 900.9L679.0 899.5L679.8 899.1L680.5 899.4L681.3 900.1L682.0 901.6L682.8 903.4L683.5 905.1L684.3 907.2L685.0 907.8L685.8 907.9L686.5 907.1L687.3 905.3L688.0 902.6L688.8 898.6L689.5 893.5L690.3 888.5L691.0 883.0L691.8 877.6L692.5 872.1L693.3 866.8L694.0 862.3L694.8 859.2L695.5 857.2L696.3 857.1L697.0 858.4L697.8 861.6L698.5 865.9L699.3 871.4L700.0 877.5L700.8 883.8L701.5 890.0L702.3 895.4L703.0 901.1L703.8 905.7L704.5 908.8L705.3 910.2L706.0 909.5L706.8 907.3L707.5 904.2L708.3 898.8L709.0 892.9L709.8 887.0L710.5 881.7L711.3 877.8L712.0 875.6L712.8 874.6L713.5 875.3L714.3 877.5L715.0 880.8L715.8 884.9L716.5 889.4L717.3 892.6L718.0 895.0L718.8 896.0L719.5 895.7L720.3 894.0L721.0 890.4L721.8 885.6L722.5 880.6L723.3 874.9L724.0 869.4L724.8 864.2L725.5 859.5L726.3 856.2L727.0 853.3L727.8 851.6L728.5 851.0L729.3 850.8L730.0 851.4L730.8 852.1L731.5 853.1L732.3 854.9L733.0 856.7L733.8 859.3L734.5 863.2L735.3 867.7L736.0 873.2L736.8 878.9L737.5 884.8L738.3 891.1L739.0 897.0L739.8 902.1L740.5 906.1L741.3 908.8L742.0 910.6L742.8 911.0L743.5 910.0L744.3 907.8L745.0 904.7L745.8 901.9L746.5 899.1L747.3 896.8L748.0 895.4L748.8 894.7L749.5 895.0L750.3 896.1L751.0 898.0L751.8 899.9L752.5 902.0L753.3 904.0L754.0 905.9L754.8 908.1L755.5 909.4L756.3 911.1L757.0 912.6L757.8 914.0L758.5 915.5L759.3 917.0L760.0 917.3L760.8 917.8L761.5 917.1L762.3 916.3L763.0 915.0L763.8 913.1L764.5 910.7L765.3 908.9L766.0 906.9L766.8 904.9L767.5 903.2L768.3 901.4L769.0 900.0L769.8 898.9L770.5 897.9L771.3 897.3L772.0 896.6L772.8 895.9L773.5 895.7L774.3 895.5L775.0 895.1L775.8 894.8L776.5 894.9L777.3 895.5L778.0 896.6L778.8 898.1L779.5 900.1L780.3 902.6L781.0 905.2L781.8 907.6L782.5 910.1L783.3 912.2L784.0 914.1L784.8 915.4L785.5 916.5L786.3 917.2L787.0 918.1L787.8 918.5L788.5 919.1L789.3 918.9L790.0 917.9L790.8 916.3L791.5 913.8L792.3 910.3L793.0 906.4L793.8 901.5L794.5 896.6L795.3 893.0L796.0 890.1L796.8 888.5L797.5 887.7L798.3 886.4L799.0 884.9L799.8 883.1L800.5 880.2L801.3 877.4L802.0 874.6L802.8 872.5L803.5 871.9L804.3 873.2L805.0 875.5L805.8 877.8L806.5 878.8L807.3 878.5L808.0 876.2L808.8 872.5L809.5 867.3L810.3 862.0L811.0 858.0L811.8 855.4L812.5 853.9L813.3 854.0L814.0 855.2L814.8 857.0L815.5 859.1L816.3 860.8L817.0 862.3L817.8 863.8L818.5 865.0L819.3 866.2L820.0 867.5L820.8 868.2L821.5 868.4L822.3 868.5L823.0 868.1L823.8 867.3L824.5 865.9L825.3 864.4L826.0 862.6L826.8 861.0L827.5 859.4L828.3 858.7L829.0 858.8L829.8 860.0L830.5 861.9L831.3 864.8L832.0 868.6L832.8 873.0L833.5 877.4L834.3 882.2L835.0 886.9L835.8 891.6L836.5 896.2L837.3 900.4L838.0 903.3L838.8 905.4L839.5 906.0L840.3 905.7L841.0 903.9L841.8 901.3L842.5 897.8L843.3 894.2L844.0 890.3L844.8 886.5L845.5 882.4L846.3 878.7L847.0 875.0L847.8 871.6L848.5 869.1L849.3 868.2L850.0 868.4L850.8 870.7L851.5 874.1L852.3 879.3L853.0 885.8L853.8 893.2L854.5 900.0L855.3 906.0L856.0 910.2L856.8 913.2L857.5 914.4L858.3 914.2L859.0 912.3L859.8 909.5L860.5 906.1L861.3 902.7L862.0 899.2L862.8 895.8L863.5 892.0L864.3 888.2L865.0 884.6L865.8 881.7L866.5 880.0L867.3 879.2L868.0 879.5L868.8 881.0L869.5 883.3L870.3 886.7L871.0 889.8L871.8 892.1L872.5 893.5L873.3 893.6L874.0 893.0L874.8 891.6L875.5 888.9L876.3 885.7L877.0 882.4L877.8 879.3L878.5 876.0L879.3 872.5L880.0 869.2L880.8 865.8L881.5 862.7L882.3 860.1L883.0 858.0L883.8 856.4L884.5 855.7L885.3 855.5L886.0 856.2L886.8 857.1L887.5 858.5L888.3 860.5L889.0 863.2L889.8 866.9L890.5 871.2L891.3 876.1L892.0 882.1L892.8 888.1L893.5 893.7L894.3 898.7L895.0 902.3L895.8 905.0L896.5 906.9L897.3 907.6L898.0 907.8L898.8 908.0L899.5 907.4L900.3 906.5L901.0 904.8L901.8 902.2L902.5 899.0L903.3 894.8L904.0 889.6L904.8 884.1L905.5 878.2L906.3 872.7L907.0 867.3L907.8 862.6L908.5 859.3L909.3 857.3L910.0 856.2L910.8 856.6L911.5 858.3L912.3 860.6L913.0 862.9L913.8 865.5L914.5 868.1L915.3 871.5L916.0 875.1L916.8 879.0L917.5 883.7L918.3 888.9L919.0 894.4L919.8 899.3L920.5 903.2L921.3 906.3L922.0 908.0L922.8 908.5L923.5 908.2L924.3 907.0L925.0 905.3L925.8 903.5L926.5 901.6L927.3 899.7L928.0 897.7L928.8 895.7L929.5 893.6L930.3 890.9L931.0 888.1L931.8 884.8L932.5 881.3L933.3 877.5L934.0 873.2L934.8 869.2L935.5 864.9L936.3 860.7L937.0 856.9L937.8 853.6L938.5 851.1L939.3 849.2L940.0 848.0L940.8 847.9L941.5 848.2L942.3 848.9L943.0 849.8L943.8 850.8L944.5 851.8L945.3 852.8L946.0 854.1L946.8 855.6L947.5 857.8L948.3 860.4L949.0 863.0L949.8 866.1L950.5 868.2L951.3 870.3L952.0 871.7L952.8 872.0L953.5 871.5L954.3 870.9L955.0 871.0L955.8 872.7L956.5 875.3L957.3 879.4L958.0 884.5L958.8 890.4L959.5 895.3L960.3 898.3L961.0 899.5L961.8 898.2L962.5 894.6L963.3 888.7L964.0 882.6L964.8 877.3L965.5 873.4L966.3 870.8L967.0 870.0L967.8 871.0L968.5 874.1L969.3 877.4L970.0 881.3L970.8 885.4L971.5 889.6L972.3 893.8L973.0 897.9L973.8 902.0L974.5 905.9L975.3 909.7L976.0 912.7L976.8 914.9L977.5 915.7L978.3 915.4L979.0 913.4L979.8 909.8L980.5 905.2L981.3 899.6L982.0 893.4L982.8 887.2L983.5 880.8L984.3 874.6L985.0 869.1L985.8 864.8L986.5 861.7L987.3 860.2L988.0 860.0L988.8 861.3L989.5 863.5L990.3 866.7L991.0 869.6L991.8 871.5L992.5 872.2L993.3 871.8L994.0 870.4L994.8 868.5L995.5 865.9L996.3 863.6L997.0 861.9L997.8 861.2L998.5 861.0L999.3 861.1L1000.0 861.3L1000.8 861.3L1001.5 860.6L1002.3 859.8L1003.0 858.2L1003.8 856.8L1004.5 856.8L1005.3 857.6L1006.0 859.9L1006.8 863.9L1007.5 869.1L1008.3 875.9L1009.0 883.3L1009.8 890.4L1010.5 896.9L1011.3 902.1L1012.0 905.6L1012.8 907.7L1013.5 908.1L1014.3 907.2L1015.0 904.9L1015.8 902.1L1016.5 899.1L1017.3 896.1L1018.0 893.0L1018.8 890.2L1019.5 888.8L1020.3 888.9L1021.0 890.1L1021.8 892.7L1022.5 896.1L1023.3 900.0L1024.0 903.7L1024.8 906.1L1025.5 907.2L1026.3 907.5L1027.0 906.6L1027.8 904.6L1028.5 902.1L1029.3 899.5L1030.0 896.9L1030.8 893.9L1031.5 890.6L1032.3 887.6L1033.0 884.6L1033.8 881.8L1034.5 878.5L1035.3 875.6L1036.0 873.3L1036.8 871.0L1037.5 869.0L1038.3 868.0L1039.0 867.7L1039.8 868.8L1040.5 870.7L1041.3 873.6L1042.0 877.7L1042.8 882.2L1043.5 886.7L1044.3 891.2L1045.0 895.8L1045.8 900.4L1046.5 904.7L1047.3 907.4L1048.0 908.8L1048.8 908.7L1049.5 907.3L1050.3 904.2L1051.0 899.4L1051.8 893.2L1052.5 886.9L1053.3 880.0L1054.0 874.1L1054.8 869.0L1055.5 864.7L1056.3 861.4L1057.0 859.3L1057.8 858.1L1058.5 858.5L1059.3 859.1L1060.0 860.0L1060.8 861.2L1061.5 862.7L1062.3 864.8L1063.0 868.0L1063.8 871.9L1064.5 876.6L1065.3 881.6L1066.0 886.1L1066.8 889.7L1067.5 892.1L1068.3 893.1L1069.0 893.0L1069.8 892.5L1070.5 891.4L1071.3 891.2L1072.0 891.8L1072.8 893.1L1073.5 895.2L1074.3 897.7L1075.0 900.2L1075.8 903.0L1076.5 905.4L1077.3 907.9L1078.0 909.6L1078.8 910.8L1079.5 910.9L1080.3 910.7L1081.0 909.9L1081.8 908.9L1082.5 907.6L1083.3 906.3L1084.0 904.4L1084.8 902.8L1085.5 900.4L1086.3 897.5L1087.0 894.4L1087.8 890.3L1088.5 886.7L1089.3 884.4L1090.0 882.8L1090.8 882.8L1091.5 884.2L1092.3 886.6L1093.0 890.5L1093.8 894.7L1094.5 898.4L1095.3 901.6L1096.0 904.2L1096.8 905.7L1097.5 905.9L1098.3 905.4L1099.0 904.5L1099.8 902.9L1100.5 901.0L1101.3 899.2L1102.0 897.0L1102.8 895.2L1103.5 894.2L1104.3 893.4L1105.0 893.4L1105.8 894.6L1106.5 896.0L1107.3 898.8L1108.0 902.0L1108.8 904.6L1109.5 906.5L1110.3 907.1L1111.0 906.4L1111.8 904.3L1112.5 900.6L1113.3 895.6L1114.0 889.9L1114.8 884.2L1115.5 878.9L1116.3 875.0L1117.0 873.3L1117.8 873.2L1118.5 874.9L1119.3 878.3L1120.0 883.1L1120.8 888.2L1121.5 892.2L1122.3 894.2L1123.0 895.0L1123.8 894.4L1124.5 892.2L1125.3 888.9L1126.0 886.1L1126.8 883.9L1127.5 883.3L1128.3 884.1L1129.0 886.0L1129.8 889.3L1130.5 893.6L1131.3 897.8L1132.0 902.6L1132.8 907.0L1133.5 910.3L1134.3 912.2L1135.0 912.6L1135.8 911.4L1136.5 908.8L1137.3 904.6L1138.0 899.3L1138.8 893.1L1139.5 886.9L1140.3 881.1L1141.0 875.4L1141.8 870.5L1142.5 866.3L1143.3 862.8L1144.0 860.7L1144.8 859.0L1145.5 857.9L1146.3 857.8L1147.0 857.8L1147.8 858.0L1148.5 858.4L1149.3 858.5L1150.0 858.5L1150.8 858.0L1151.5 857.1L1152.3 856.1L1153.0 855.2L1153.8 854.5L1154.5 854.8L1155.3 855.7L1156.0 857.8L1156.8 860.8L1157.5 864.0L1158.3 867.9L1159.0 871.6L1159.8 875.1L1160.5 878.7L1161.3 881.2L1162.0 883.1L1162.8 884.3L1163.5 884.5L1164.3 884.0L1165.0 882.7L1165.8 881.0L1166.5 879.6L1167.3 877.7L1168.0 875.9L1168.8 873.8L1169.5 871.6L1170.3 869.4L1171.0 866.8L1171.8 863.5L1172.5 860.7L1173.3 858.5L1174.0 857.6L1174.8 857.5L1175.5 858.5L1176.3 860.7L1177.0 864.0L1177.8 868.2L1178.5 872.7L1179.3 877.0L1180.0 881.3L1180.8 885.8L1181.5 889.3L1182.3 891.9L1183.0 892.8L1183.8 892.2L1184.5 890.2L1185.3 887.0L1186.0 882.4L1186.8 878.3L1187.5 874.9L1188.3 873.0L1189.0 872.3L1189.8 873.1L1190.5 875.4L1191.3 879.1L1192.0 882.5L1192.8 886.0L1193.5 889.1L1194.3 891.2L1195.0 892.1L1195.8 891.8L1196.5 890.4L1197.3 888.1L1198.0 884.7L1198.8 880.9L1199.5 877.4L1200.3 873.7L1201.0 871.1L1201.8 869.2L1202.5 869.0L1203.3 870.0L1204.0 872.4L1204.8 876.2L1205.5 881.2L1206.3 886.8L1207.0 892.7L1207.8 898.8L1208.5 904.5L1209.3 908.7L1210.0 911.5L1210.8 913.0L1211.5 912.6L1212.3 910.6L1213.0 907.1L1213.8 902.2L1214.5 897.2L1215.3 891.6L1216.0 885.9L1216.8 880.2L1217.5 874.6L1218.3 869.3L1219.0 864.4L1219.8 859.7L1220.5 856.0L1221.3 852.9L1222.0 851.0L1222.8 849.5L1223.5 848.5L1224.3 848.1L1225.0 848.5L1225.8 848.5L1226.5 848.8L1227.3 848.5L1228.0 849.0L1228.8 849.3L1229.5 849.8L1230.3 850.0L1231.0 850.8L1231.8 851.7L1232.5 853.0L1233.3 853.6L1234.0 854.8L1234.8 855.6L1235.5 856.5L1236.3 857.0L1237.0 857.2L1237.8 857.0L1238.5 857.0L1239.3 856.1L1240.0 855.4L1240.8 854.3L1241.5 853.5L1242.3 853.1L1243.0 854.0L1243.8 855.9L1244.5 859.2L1245.3 863.6L1246.0 869.3L1246.8 875.8L1247.5 882.6L1248.3 888.9L1249.0 893.8L1249.8 897.0L1250.5 898.4L1251.3 898.6L1252.0 897.0L1252.8 894.1L1253.5 890.1L1254.3 886.1L1255.0 883.0L1255.8 880.8L1256.5 879.5L1257.3 880.2L1258.0 882.3L1258.8 885.3L1259.5 888.2L1260.3 890.5L1261.0 891.6L1261.8 891.4L1262.5 890.1L1263.3 888.4L1264.0 887.4L1264.8 887.8L1265.5 889.7L1266.3 893.3L1267.0 898.2L1267.8 903.3L1268.5 907.3L1269.3 909.8L1270.0 911.0L1270.8 910.5L1271.5 908.5L1272.3 905.3L1273.0 901.9L1273.8 898.1L1274.5 894.4L1275.3 891.1L1276.0 888.7L1276.8 887.1L1277.5 886.1L1278.3 885.7L1279.0 886.3L1279.8 887.6L1280.5 888.8L1281.3 890.0L1282.0 891.4L1282.8 893.0L1283.5 894.4L1284.3 896.0L1285.0 897.9L1285.8 900.1L1286.5 902.1L1287.3 903.3L1288.0 903.2L1288.8 902.0L1289.5 898.6L1290.3 893.7L1291.0 887.1L1291.8 879.6L1292.5 871.8L1293.3 865.2L1294.0 860.0L1294.8 856.2L1295.5 854.0L1296.3 853.4L1297.0 854.3L1297.8 855.8L1298.5 857.2L1299.3 858.7L1300.0 860.6L1300.8 862.5L1301.5 864.9L1302.3 867.5L1303.0 871.0L1303.8 875.2L1304.5 879.8L1305.3 884.7L1306.0 890.1L1306.8 895.2L1307.5 900.1L1308.3 904.3L1309.0 907.5L1309.8 909.5L1310.5 910.7L1311.3 910.6L1312.0 909.7L1312.8 907.7L1313.5 905.1L1314.3 902.8L1315.0 900.9L1315.8 899.5L1316.5 897.9L1317.3 896.3L1318.0 895.6L1318.8 895.1L1319.5 894.3L1320.3 893.5L1321.0 893.1L1321.8 893.6L1322.5 894.3L1323.3 895.3L1324.0 897.0L1324.8 899.3L1325.5 901.3L1326.3 902.4L1327.0 902.3L1327.8 901.2L1328.5 898.9L1329.3 895.6L1330.0 890.9L1330.8 885.7L1331.5 880.0L1332.3 874.8L1333.0 869.7L1333.8 865.0L1334.5 861.1L1335.3 858.6L1336.0 857.4L1336.8 857.5L1337.5 858.6L1338.3 861.1L1339.0 864.6L1339.8 868.7L1340.5 872.7L1341.3 876.9L1342.0 881.4L1342.8 885.8L1343.5 890.2L1344.3 894.2L1345.0 898.2L1345.8 901.8L1346.5 904.6L1347.3 906.6L1348.0 907.9L1348.8 908.4L1349.5 908.1L1350.3 906.7L1351.0 904.4L1351.8 902.0L1352.5 899.1L1353.3 896.2L1354.0 893.0L1354.8 889.9L1355.5 887.3L1356.3 884.9L1357.0 882.4L1357.8 880.8L1358.5 879.6L1359.3 879.2L1360.0 879.7L1360.8 880.3L1361.5 881.9L1362.3 884.1L1363.0 886.6L1363.8 889.2L1364.5 891.7L1365.3 894.3L1366.0 897.2L1366.8 900.0L1367.5 902.6L1368.3 904.8L1369.0 906.6L1369.8 908.0L1370.5 908.0L1371.3 907.0L1372.0 905.1L1372.8 902.4L1373.5 899.4L1374.3 896.0L1375.0 892.6L1375.8 889.8L1376.5 887.2L1377.3 884.9L1378.0 882.4L1378.8 879.8L1379.5 877.2L1380.3 874.3L1381.0 871.1L1381.8 867.9L1382.5 864.6L1383.3 861.6L1384.0 859.2L1384.8 858.3L1385.5 858.2L1386.3 859.6L1387.0 862.3L1387.8 866.3L1388.5 872.0L1389.3 878.1L1390.0 884.2L1390.8 890.2L1391.5 895.3L1392.3 899.0L1393.0 901.3L1393.8 901.9L1394.5 900.5L1395.3 897.5L1396.0 893.7L1396.8 889.1L1397.5 884.1L1398.3 879.1L1399.0 873.8L1399.8 869.4L1400.5 866.3L1401.3 864.5L1402.0 864.2L1402.8 865.4L1403.5 867.9L1404.3 872.2L1405.0 877.4L1405.8 882.9L1406.5 887.4L1407.3 890.9L1408.0 893.6L1408.8 895.4L1409.5 896.8L1410.3 897.8L1411.0 898.6L1411.8 898.9L1412.5 898.5L1413.3 896.8L1414.0 894.1L1414.8 889.3L1415.5 882.9L1416.3 875.0L1417.0 868.0L1417.8 862.3L1418.5 858.3L1419.3 855.7L1420.0 855.1L1420.8 856.2L1421.5 858.8L1422.3 861.7L1423.0 864.6L1423.8 867.2L1424.5 869.5L1425.3 871.0L1426.0 871.9L1426.8 871.8L1427.5 870.6L1428.3 868.8L1429.0 866.6L1429.8 864.3L1430.5 861.9L1431.3 859.6L1432.0 858.0L1432.8 856.8L1433.5 856.1L1434.3 855.9L1435.0 856.1L1435.8 856.8L1436.5 858.1L1437.3 860.0L1438.0 862.5L1438.8 865.4L1439.5 868.4L1440.3 871.8L1441.0 874.6L1441.8 877.5L1442.5 880.3L1443.3 882.9L1444.0 885.3L1444.8 887.8L1445.5 890.3L1446.3 893.1L1447.0 895.3L1447.8 897.1L1448.5 898.8L1449.3 900.1L1450.0 900.8L1450.8 900.9L1451.5 900.8L1452.3 900.1L1453.0 898.3L1453.8 895.2L1454.5 891.5L1455.3 887.6L1456.0 884.3L1456.8 881.4L1457.5 880.3L1458.3 881.3L1459.0 884.1L1459.8 888.5L1460.5 894.0L1461.3 898.7L1462.0 902.4L1462.8 904.5L1463.5 905.2L1464.3 904.4L1465.0 901.7L1465.8 897.8L1466.5 893.8L1467.3 890.0L1468.0 886.2L1468.8 882.8L1469.5 880.6L1470.3 879.9L1471.0 880.7L1471.8 882.8L1472.5 885.4L1473.3 888.8L1474.0 891.9L1474.8 894.0L1475.5 895.7L1476.3 896.3L1477.0 896.0L1477.8 895.4L1478.5 895.0L1479.3 895.3L1480.0 896.2L1480.8 897.6L1481.5 899.2L1482.3 901.1L1483.0 902.6L1483.8 903.5L1484.5 903.4L1485.3 902.8L1486.0 901.0L1486.8 899.0L1487.5 896.2L1488.3 893.3L1489.0 890.9L1489.8 889.2L1490.5 888.4L1491.3 888.7L1492.0 889.8L1492.8 892.0L1493.5 895.2L1494.3 898.4L1495.0 902.0L1495.8 905.4L1496.5 908.3L1497.3 910.5L1498.0 912.4L1498.8 913.2L1499.5 913.9L1500.3 913.7L1501.0 913.4L1501.8 912.8L1502.5 912.6L1503.3 912.2L1504.0 912.3L1504.8 911.9L1505.5 911.3L1506.3 909.8L1507.0 907.9L1507.8 905.1L1508.5 901.2L1509.3 897.0L1510.0 892.7L1510.8 888.2L1511.5 883.7L1512.3 879.3L1513.0 875.5L1513.8 873.0L1514.5 871.4L1515.3 871.1L1516.0 872.0L1516.8 874.0L1517.5 877.5L1518.3 881.8L1519.0 886.6L1519.8 891.1L1520.5 895.6L1521.3 899.6L1522.0 903.2L1522.8 905.8L1523.5 907.2L1524.3 907.2L1525.0 906.6L1525.8 905.2L1526.5 902.8L1527.3 900.2L1528.0 897.5L1528.8 894.8L1529.5 892.4L1530.3 889.9L1531.0 887.0L1531.8 884.1L1532.5 880.7L1533.3 876.8L1534.0 872.7L1534.8 868.4L1535.5 864.4L1536.3 860.5L1537.0 857.4L1537.8 855.2L1538.5 853.6L1539.3 852.9L1540.0 853.1L1540.8 853.8L1541.5 854.9L1542.3 856.4L1543.0 858.1L1543.8 859.6L1544.5 860.7L1545.3 861.2L1546.0 861.0L1546.8 860.7L1547.5 859.4L1548.3 858.2L1549.0 857.3L1549.8 856.6L1550.5 856.8L1551.3 857.3L1552.0 858.2L1552.8 860.0L1553.5 861.8L1554.3 863.8L1555.0 865.7L1555.8 867.4L1556.5 869.2L1557.3 870.5L1558.0 871.3L1558.8 872.0L1559.5 872.3L1560.3 872.6L1561.0 872.7L1561.8 873.7L1562.5 875.7L1563.3 878.4L1564.0 882.0L1564.8 885.8L1565.5 889.4L1566.3 891.9L1567.0 893.2L1567.8 893.1L1568.5 891.2L1569.3 887.7L1570.0 884.2L1570.8 881.5L1571.5 879.9L1572.3 879.6L1573.0 880.4L1573.8 882.7L1574.5 886.2L1575.3 890.1L1576.0 894.2L1576.8 898.4L1577.5 901.5L1578.3 903.4L1579.0 904.5L1579.8 904.1L1580.5 903.0L1581.3 900.1L1582.0 896.1L1582.8 891.3L1583.5 886.8L1584.3 882.4L1585.0 878.1L1585.8 873.5L1586.5 869.9L1587.3 866.4L1588.0 863.7L1588.8 860.8L1589.5 858.2L1590.3 855.9L1591.0 854.3L1591.8 852.3L1592.5 851.1L1593.3 849.9L1594.0 849.3L1594.8 848.6L1595.5 848.3L1596.3 848.5L1597.0 848.8L1597.8 849.4L1598.5 849.9L1599.3 851.0L1600.0 852.4L1600.8 853.7L1601.5 854.8L1602.3 856.2L1603.0 857.5L1603.8 859.2L1604.5 861.1L1605.3 863.5L1606.0 867.1L1606.8 871.3L1607.5 876.4L1608.3 881.7L1609.0 886.0L1609.8 888.6L1610.5 889.0L1611.3 887.2L1612.0 883.2L1612.8 877.2L1613.5 870.5L1614.3 864.2L1615.0 859.7L1615.8 857.5L1616.5 856.7L1617.3 857.9L1618.0 860.8L1618.8 864.4L1619.5 868.7L1620.3 872.6L1621.0 875.3L1621.8 877.1L1622.5 877.7L1623.3 877.3L1624.0 876.2L1624.8 874.9L1625.5 873.7L1626.3 873.3L1627.0 873.9L1627.8 876.1L1628.5 879.0L1629.3 882.9L1630.0 886.9L1630.8 891.2L1631.5 895.6L1632.3 899.3L1633.0 901.3L1633.8 902.7L1634.5 902.4L1635.3 900.8L1636.0 897.9L1636.8 893.6L1637.5 889.0L1638.3 884.5L1639.0 879.9L1639.8 876.2L1640.5 874.3L1641.3 874.3L1642.0 876.0L1642.8 879.3L1643.5 884.3L1644.3 890.4L1645.0 897.3L1645.8 902.7L1646.5 906.3L1647.3 908.4L1648.0 908.0L1648.8 905.7L1649.5 901.9L1650.3 896.2L1651.0 889.7L1651.8 883.3L1652.5 876.9L1653.3 871.5L1654.0 867.9L1654.8 865.2L1655.5 864.9L1656.3 867.0L1657.0 870.6L1657.8 875.9L1658.5 882.3L1659.3 888.7L1660.0 895.6L1660.8 901.0L1661.5 905.0L1662.3 907.9L1663.0 909.1L1663.8 909.1L1664.5 907.7L1665.3 905.3L1666.0 902.6L1666.8 899.9L1667.5 897.3L1668.3 894.7L1669.0 892.3L1669.8 891.0L1670.5 890.4L1671.3 891.0L1672.0 892.5L1672.8 894.9L1673.5 898.3L1674.3 902.1L1675.0 904.8L1675.8 907.0L1676.5 907.9L1677.3 907.6L1678.0 906.4L1678.8 904.5L1679.5 902.4L1680.3 901.4L1681.0 900.9L1681.8 901.2L1682.5 902.3L1683.3 904.1L1684.0 906.3L1684.8 908.7L1685.5 910.6L1686.3 911.7L1687.0 912.3L1687.8 911.6L1688.5 910.4L1689.3 908.3L1690.0 905.1L1690.8 901.5L1691.5 897.8L1692.3 893.4L1693.0 889.3L1693.8 884.8L1694.5 880.3L1695.3 876.3L1696.0 872.3L1696.8 868.3L1697.5 865.9L1698.3 864.5L1699.0 864.5L1699.8 865.9L1700.5 868.4L1701.3 872.1L1702.0 877.8L1702.8 883.5L1703.5 889.4L1704.3 895.5L1705.0 901.1L1705.8 905.8L1706.5 909.2L1707.3 910.9L1708.0 911.3L1708.8 910.5L1709.5 908.7L1710.3 905.7L1711.0 902.3L1711.8 898.3L1712.5 894.3L1713.3 890.4L1714.0 886.3L1714.8 881.7L1715.5 877.6L1716.3 873.7L1717.0 870.3L1717.8 866.6L1718.5 863.9L1719.3 862.6L1720.0 862.4L1720.8 863.1L1721.5 864.9L1722.3 867.3L1723.0 870.2L1723.8 871.9L1724.5 872.7L1725.3 872.4L1726.0 871.4L1726.8 870.1L1727.5 870.0L1728.3 871.5L1729.0 874.6L1729.8 879.4L1730.5 885.9L1731.3 892.7L1732.0 899.1L1732.8 904.2L1733.5 907.8L1734.3 910.2L1735.0 911.1L1735.8 910.8L1736.5 910.6L1737.3 910.9L1738.0 911.4L1738.8 912.4L1739.5 913.7L1740.3 914.7L1741.0 915.9L1741.8 916.4L1742.5 916.0L1743.3 915.1L1744.0 913.7L1744.8 911.9L1745.5 910.4L1746.3 908.9L1747.0 906.9L1747.8 905.1L1748.5 902.8L1749.3 900.4L1750.0 897.8L1750.8 895.5L1751.5 893.7L1752.3 893.5L1753.0 893.9L1753.8 895.2L1754.5 896.0L1755.3 896.7L1756.0 896.2L1756.8 894.7L1757.5 891.6L1758.3 887.8L1759.0 883.5L1759.8 879.9L1760.5 877.3L1761.3 876.0"/>
<text x="1843.5" y="818" fill="#000">250.00</text><text x="1843.5" y="784" fill="#000">500.00</text><text x="1843.5" y="750" fill="#000">750.00</text><text x="1843.5" y="716" fill="#000">1000.00</text><text x="1843.5" y="681" fill="#000">1250.00</text><text x="1843.5" y="647" fill="#000">1500.00</text><text x="1843.5" y="613" fill="#000">1750.00</text><text x="1843.5" y="579" fill="#000">2000.00</text><text x="1843.5" y="545" fill="#000">2250.00</text><text x="1843.5" y="511" fill="#000">2500.00</text><text x="1843.5" y="477" fill="#000">2750.00</text><text x="1843.5" y="443" fill="#000">3000.00</text><text x="1843.5" y="408" fill="#000">3250.00</text><text x="1843.5" y="374" fill="#000">3500.00</text><text x="1843.5" y="340" fill="#000">3750.00</text><text x="1843.5" y="306" fill="#000">4000.00</text><text x="1843.5" y="272" fill="#000">4250.00</text><text x="1843.5" y="238" fill="#000">4500.00</text><text x="1843.5" y="204" fill="#000">4750.00</text><text x="1843.5" y="170" fill="#000">5000.00</text><text x="1843.5" y="135" fill="#000">5250.00</text><text x="1843.5" y="101" fill="#000">5500.00</text><text x="1843.5" y="67" fill="#000">5750.00</text><text x="1843.5" y="33" fill="#000">6000.00</text><text x="1843.5" y="911" fill="#000">25.000</text><text x="1843.5" y="890" fill="#000">50.000</text><rect x="1838" y="569" width="78" height="14" fill="#00f"/><path stroke="#fff" d="M1838 576.5H1842"/><text x="1843.5" y="581" fill="#fff">1984.00</text><rect x="1838" y="860" width="78" height="14" fill="#f00"/><path stroke="#fff" d="M1838 867.5H1842"/><text x="1843.5" y="872" fill="#fff">64.87</text><rect x="1838" y="875" width="78" height="14" fill="#000"/><path stroke="#fff" d="M1838 882.5H1842"/><text x="1843.5" y="887" fill="#fff">59.64</text><rect x="1906.5" y="17.5" width="8" height="8" fill="#fff" stroke="#c0c0c0"/><path stroke="#a0a0a0" d="M1908 21.5H1913"/><path fill="#1db81d" d="M1757 1h10l-5 4.5z" shape-rendering="auto"/><text x="11.5" y="945" fill="#000">09.03.26</text><rect x="60" y="934" width="23" height="12" fill="#fff"/><text x="79" y="945" fill="#000">19</text><rect x="78" y="934" width="4.2" height="12" fill="#fff"/><text x="122" y="945" fill="#000" text-anchor="end">12</text><text x="125" y="945" fill="#000">19</text><text x="164" y="945" fill="#000" text-anchor="end">02</text><text x="166" y="945" fill="#000">20</text><text x="206" y="945" fill="#000" text-anchor="end">04</text><text x="208" y="945" fill="#000">20</text><text x="249" y="945" fill="#000" text-anchor="end">06</text><text x="251" y="945" fill="#000">20</text><text x="295" y="945" fill="#000" text-anchor="end">08</text><text x="297" y="945" fill="#000">20</text><text x="338" y="945" fill="#000" text-anchor="end">10</text><text x="340" y="945" fill="#000">20</text><text x="381" y="945" fill="#000" text-anchor="end">12</text><text x="383" y="945" fill="#000">20</text><text x="425" y="945" fill="#000" text-anchor="end">02</text><text x="427" y="945" fill="#000">21</text><text x="469" y="945" fill="#000" text-anchor="end">04</text><text x="471" y="945" fill="#000">21</text><text x="512" y="945" fill="#000" text-anchor="end">06</text><text x="514" y="945" fill="#000">21</text><text x="556" y="945" fill="#000" text-anchor="end">08</text><text x="558" y="945" fill="#000">21</text><text x="600" y="945" fill="#000" text-anchor="end">10</text><text x="602" y="945" fill="#000">21</text><text x="643" y="945" fill="#000" text-anchor="end">12</text><text x="645" y="945" fill="#000">21</text><text x="688" y="945" fill="#000" text-anchor="end">02</text><text x="690" y="945" fill="#000">22</text><text x="731" y="945" fill="#000" text-anchor="end">04</text><text x="733" y="945" fill="#000">22</text><text x="775" y="945" fill="#000" text-anchor="end">06</text><text x="777" y="945" fill="#000">22</text><text x="817" y="945" fill="#000" text-anchor="end">08</text><text x="819" y="945" fill="#000">22</text><text x="863" y="945" fill="#000" text-anchor="end">10</text><text x="865" y="945" fill="#000">22</text><text x="906" y="945" fill="#000" text-anchor="end">12</text><text x="908" y="945" fill="#000">22</text><text x="950" y="945" fill="#000" text-anchor="end">02</text><text x="952" y="945" fill="#000">23</text><text x="993" y="945" fill="#000" text-anchor="end">04</text><text x="995" y="945" fill="#000">23</text><text x="1037" y="945" fill="#000" text-anchor="end">06</text><text x="1039" y="945" fill="#000">23</text><text x="1080" y="945" fill="#000" text-anchor="end">08</text><text x="1082" y="945" fill="#000">23</text><text x="1124" y="945" fill="#000" text-anchor="end">10</text><text x="1126" y="945" fill="#000">23</text><text x="1168" y="945" fill="#000" text-anchor="end">12</text><text x="1170" y="945" fill="#000">23</text><text x="1213" y="945" fill="#000" text-anchor="end">02</text><text x="1215" y="945" fill="#000">24</text><text x="1255" y="945" fill="#000" text-anchor="end">04</text><text x="1257" y="945" fill="#000">24</text><text x="1300" y="945" fill="#000" text-anchor="end">06</text><text x="1302" y="945" fill="#000">24</text><text x="1343" y="945" fill="#000" text-anchor="end">08</text><text x="1345" y="945" fill="#000">24</text><text x="1387" y="945" fill="#000" text-anchor="end">10</text><text x="1389" y="945" fill="#000">24</text><text x="1431" y="945" fill="#000" text-anchor="end">12</text><text x="1433" y="945" fill="#000">24</text><text x="1476" y="945" fill="#000" text-anchor="end">02</text><text x="1478" y="945" fill="#000">25</text><text x="1517" y="945" fill="#000" text-anchor="end">04</text><text x="1519" y="945" fill="#000">25</text><text x="1562" y="945" fill="#000" text-anchor="end">06</text><text x="1564" y="945" fill="#000">25</text><text x="1606" y="945" fill="#000" text-anchor="end">08</text><text x="1608" y="945" fill="#000">25</text><text x="1649" y="945" fill="#000" text-anchor="end">10</text><text x="1651" y="945" fill="#000">25</text><text x="1692" y="945" fill="#000" text-anchor="end">12</text><text x="1694" y="945" fill="#000">25</text><text x="1737" y="945" fill="#000" text-anchor="end">02</text><text x="1739" y="945" fill="#000">26</text><text x="1780" y="945" fill="#000" text-anchor="end">04</text><text x="1782" y="945" fill="#000">26</text><text x="1827" y="945" fill="#000">-</text><text x="816" y="859" fill="#0a0a40">80.000</text><text x="1183" y="884" fill="#0a0a40">50.000</text><text x="1548.5" y="910" fill="#0a0a40">20.000</text><rect x="5.5" y="844.5" width="47" height="14" fill="#fff" stroke="#000"/><text x="8" y="855.6" fill="#000030">Sto(9/5)</text><rect x="55.5" y="845.5" width="12" height="12" fill="#fff" stroke="#000"/><path stroke="#000" stroke-width="2" d="M57 851.5H65.7M61.2 847.3V856"/><rect x="8" y="859" width="20" height="13" fill="#fff"/><rect x="8" y="875" width="21" height="13" fill="#fff"/><text x="8.5" y="870.5" fill="#000">%K</text><text x="8.5" y="885.8" fill="#f00">%D</text>
<path stroke="#000" fill="none" d="M0 .5H1916M.5 0V948M0 947.5H1916M1915.5 0V948"/>
</svg></body></html>
